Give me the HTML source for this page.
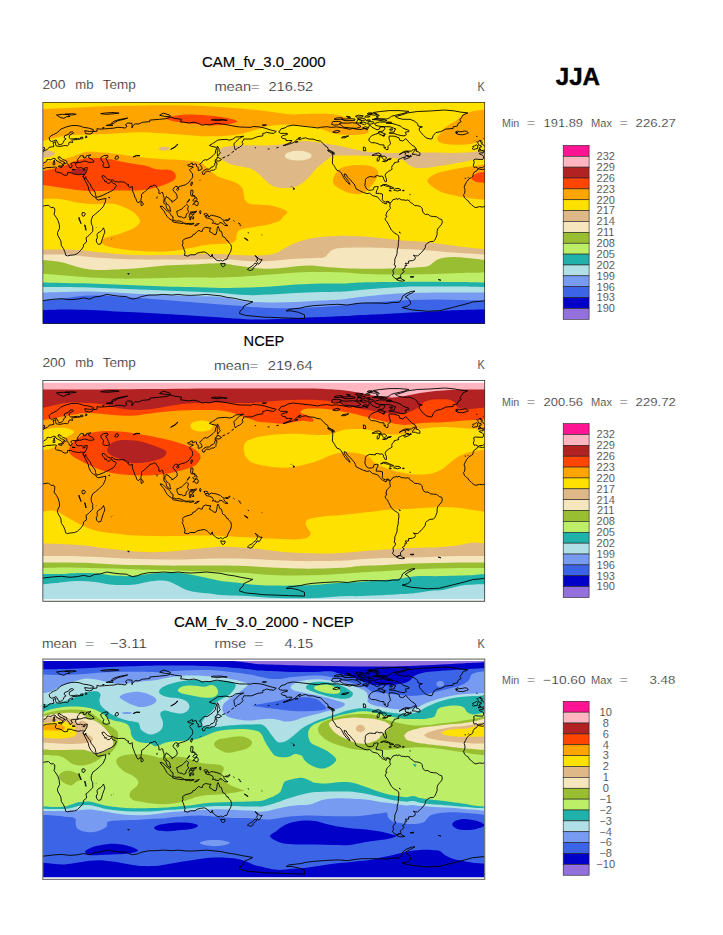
<!DOCTYPE html>
<html><head><meta charset="utf-8"><title>JJA</title>
<style>
html,body{margin:0;padding:0;background:#fff;}
body{width:723px;height:935px;position:relative;overflow:hidden;font-family:"Liberation Sans",sans-serif;}
svg{position:absolute;left:0;top:0;}
</style></head><body>
<svg width="723" height="935" viewBox="0 0 723 935">
<clipPath id="c0"><rect x="43" y="102" width="442" height="222"/></clipPath>
<g clip-path="url(#c0)" shape-rendering="geometricPrecision">
<path fill="#FFE100" d="M43.0 102.0L485.0 102.0L485.0 324.0L43.0 324.0Z"/>
<path fill="#FFA500" d="M43.0 109.1C48.0 108.9 62.5 108.3 73.0 107.8C83.5 107.3 94.8 106.7 106.0 106.3C117.2 105.9 130.2 105.7 140.0 105.5C149.8 105.3 156.7 105.2 165.0 105.2C173.3 105.2 181.7 105.2 190.0 105.5C198.3 105.8 206.7 106.2 215.0 106.7C223.3 107.2 231.8 107.8 240.0 108.5C248.2 109.2 258.0 110.2 264.5 111.0C271.0 111.8 274.1 112.4 279.0 113.0C283.9 113.6 289.0 114.3 294.0 114.4C299.0 114.5 303.8 113.9 309.0 113.8C314.2 113.7 319.8 113.5 325.0 113.8C330.2 114.1 335.4 114.5 340.0 115.5C344.6 116.5 348.8 118.2 352.6 120.0C356.4 121.8 359.9 124.3 362.6 126.3C365.3 128.3 369.2 130.6 368.8 132.0C368.4 133.4 363.5 134.1 360.0 134.6C356.5 135.1 351.8 135.1 347.6 135.0C343.4 134.9 339.2 134.7 335.0 133.8C330.8 132.9 326.7 130.7 322.5 129.5C318.3 128.3 314.4 127.2 310.0 126.5C305.6 125.8 300.4 125.5 296.0 125.2C291.6 124.9 287.8 124.5 283.6 124.6C279.4 124.7 274.8 125.2 271.0 125.8C267.2 126.4 264.3 127.3 261.0 128.2C257.7 129.1 254.2 130.4 251.0 131.3C247.8 132.2 245.6 133.0 242.0 133.7C238.4 134.4 234.1 135.0 229.6 135.4C225.1 135.8 219.2 136.1 215.0 136.2C210.8 136.3 210.5 136.5 204.7 136.2C198.9 135.9 188.3 134.9 180.0 134.4C171.7 133.9 161.7 133.3 155.0 133.0C148.3 132.7 145.3 132.3 140.0 132.3C134.7 132.3 128.7 132.6 123.0 132.9C117.3 133.2 111.5 133.8 106.0 134.0C100.5 134.2 95.5 134.2 90.0 134.4C84.5 134.6 77.2 134.6 73.0 134.9C68.8 135.2 67.7 135.6 65.0 136.0C62.3 136.4 60.7 136.4 57.0 137.3C53.3 138.2 45.3 140.5 43.0 141.2Z"/>
<path fill="#FF4500" d="M166.1 117.9C166.9 117.0 173.4 116.0 177.3 115.4C181.2 114.8 185.7 114.5 189.8 114.4C194.0 114.3 198.0 114.7 202.2 114.9C206.3 115.2 210.5 115.4 214.7 115.9C218.8 116.4 223.4 117.1 227.1 117.9C230.8 118.7 236.3 120.0 237.1 120.9C237.9 121.8 234.6 122.7 232.1 123.4C229.6 124.1 225.9 124.6 222.2 124.9C218.5 125.2 213.8 125.5 209.7 125.4C205.5 125.3 201.5 124.5 197.3 124.1C193.2 123.7 189.0 123.4 184.8 122.9C180.7 122.4 175.5 121.7 172.4 120.9C169.3 120.1 165.3 118.8 166.1 117.9Z"/>
<path fill="#FFA500" d="M485.0 109.5C482.9 109.8 476.4 110.4 472.7 111.3C469.0 112.2 465.6 113.3 462.7 115.0C459.8 116.7 458.1 119.2 455.2 121.3C452.3 123.4 447.7 125.4 445.2 127.5C442.7 129.6 441.5 131.9 440.2 133.8C438.9 135.7 437.2 137.3 437.2 138.8C437.2 140.3 438.0 141.6 440.2 142.6C442.4 143.6 446.0 144.3 450.2 144.6C454.4 144.9 461.0 144.8 465.2 144.6C469.4 144.3 471.9 143.8 475.2 143.1C478.5 142.3 483.4 140.6 485.0 140.1Z"/>
<path fill="#FFA500" d="M43.0 161.7C45.3 161.5 52.0 161.4 57.0 160.5C62.0 159.6 68.7 157.7 73.0 156.4C77.3 155.1 80.2 153.6 83.0 152.8C85.8 152.0 86.2 151.8 90.0 151.8C93.8 151.8 100.5 152.3 106.0 152.8C111.5 153.3 117.3 154.1 123.0 154.8C128.7 155.6 133.8 156.6 140.0 157.3C146.2 158.0 153.3 158.6 160.0 159.0C166.7 159.4 175.0 159.6 180.0 159.9C185.0 160.2 186.7 160.3 190.0 160.7C193.3 161.1 197.2 161.3 200.0 162.4C202.8 163.5 204.4 165.5 206.6 167.3C208.8 169.1 211.0 171.5 213.2 173.2C215.4 174.9 217.0 176.1 219.8 177.3C222.6 178.5 226.8 179.5 229.8 180.6C232.9 181.7 236.0 182.7 238.1 183.9C240.2 185.2 241.2 186.4 242.2 188.1C243.2 189.8 243.4 192.0 243.9 193.9C244.4 195.8 244.0 198.0 245.0 199.7C246.0 201.4 247.5 203.2 250.0 204.0C252.5 204.8 256.5 204.6 260.0 204.8C263.5 205.1 267.3 204.8 271.0 205.5C274.7 206.2 279.6 207.9 282.3 209.0C285.0 210.1 287.1 210.8 287.3 212.0C287.5 213.2 285.1 214.8 283.6 216.3C282.2 217.9 281.5 219.9 278.6 221.3C275.7 222.8 270.6 224.0 266.0 225.0C261.4 226.0 255.4 226.7 251.0 227.5C246.6 228.3 242.2 228.8 239.8 230.0C237.4 231.2 237.1 233.3 236.5 235.0C235.9 236.7 236.9 238.7 236.0 240.0C235.1 241.3 233.5 242.4 231.0 243.0C228.5 243.6 225.3 243.5 221.0 243.8C216.7 244.1 210.4 244.3 205.3 245.0C200.2 245.7 195.6 247.0 190.2 248.0C184.8 249.0 178.9 250.4 172.7 251.0C166.4 251.6 160.2 251.8 152.7 251.6C145.2 251.4 134.7 250.8 127.6 250.0C120.5 249.2 114.2 248.0 110.0 247.0C105.8 246.0 104.0 244.9 102.6 243.8C101.1 242.7 100.5 241.6 101.3 240.5C102.1 239.4 104.5 238.1 107.6 237.0C110.7 235.9 115.8 235.2 120.0 233.8C124.2 232.4 129.4 230.5 132.6 228.8C135.8 227.1 137.7 225.3 138.9 223.8C140.1 222.3 140.4 221.6 139.7 219.8C139.0 218.0 136.9 215.1 134.7 213.2C132.5 211.3 129.2 209.6 126.4 208.2C123.6 206.8 120.9 205.7 118.1 204.9C115.3 204.1 113.9 203.7 109.8 203.6C105.7 203.5 98.7 204.3 93.2 204.1C87.7 203.9 82.1 203.2 76.6 202.4C71.1 201.6 65.6 199.7 60.0 199.1C54.4 198.5 45.8 199.0 43.0 199.0Z"/>
<path fill="#FF4500" d="M43.0 170.9C45.0 170.5 51.3 169.5 55.0 168.6C58.7 167.7 62.0 166.8 65.0 165.6C68.0 164.4 70.2 162.8 73.2 161.7C76.2 160.6 80.4 159.5 83.2 158.9C86.0 158.3 85.9 158.2 89.8 158.1C93.7 158.0 101.0 157.8 106.4 158.4C111.8 159.0 117.7 160.9 122.4 161.8C127.2 162.7 130.8 163.3 134.9 164.0C139.1 164.7 144.2 165.4 147.3 166.2C150.4 166.9 151.5 167.9 153.6 168.5C155.7 169.1 157.7 169.4 159.8 169.6C161.9 169.8 164.1 169.3 166.0 169.4C167.9 169.5 169.6 169.6 171.0 170.2C172.4 170.8 173.9 171.9 174.7 173.0C175.5 174.1 176.1 175.6 175.9 176.8C175.7 178.1 174.7 179.5 173.5 180.5C172.3 181.5 170.4 182.2 168.5 183.0C166.6 183.8 164.6 184.7 162.3 185.5C160.0 186.3 157.3 187.2 154.8 187.8C152.3 188.5 150.0 189.0 147.3 189.4C144.6 189.8 141.7 190.2 138.6 190.4C135.5 190.6 132.1 190.5 128.7 190.5C125.3 190.5 121.2 190.6 118.0 190.6C114.8 190.6 113.9 190.5 109.8 190.6C105.7 190.7 98.7 191.4 93.2 191.3C87.7 191.2 82.1 190.6 76.6 190.0C71.1 189.4 65.6 188.3 60.0 187.5C54.4 186.7 45.8 185.4 43.0 185.0Z"/>
<path fill="#B22222" d="M71 171.5a8 2.8 0 1 0 16 0a8 2.8 0 1 0 -16 0Z"/>
<path fill="#FFA500" d="M333.0 180.1C333.3 178.0 334.7 174.7 336.3 172.6C337.9 170.5 339.4 168.8 342.5 167.6C345.6 166.3 350.8 165.4 355.0 165.1C359.2 164.8 364.1 165.0 367.6 165.6C371.2 166.2 374.6 167.3 376.3 168.9C378.1 170.5 378.5 172.8 378.1 175.1C377.7 177.4 375.4 180.3 373.8 182.6C372.2 184.9 371.1 187.0 368.8 188.9C366.5 190.8 363.1 193.2 360.0 193.9C356.9 194.6 353.3 193.9 350.0 193.1C346.7 192.3 342.6 190.2 340.0 188.9C337.4 187.6 335.7 186.6 334.5 185.1C333.3 183.6 332.7 182.2 333.0 180.1Z"/>
<path fill="#FFA500" d="M485.0 164.6C482.9 164.9 476.8 165.7 472.7 166.3C468.6 166.9 464.4 167.4 460.2 168.1C456.0 168.8 451.9 169.6 447.7 170.6C443.5 171.6 438.5 172.4 435.2 173.9C431.9 175.4 428.5 177.7 427.7 179.6C426.9 181.5 428.1 183.1 430.2 185.1C432.3 187.1 436.4 189.7 440.2 191.4C443.9 193.1 448.5 194.1 452.7 195.1C456.9 196.1 461.4 197.0 465.2 197.6C468.9 198.2 471.9 198.6 475.2 198.9C478.5 199.2 483.4 199.5 485.0 199.6Z"/>
<path fill="#FF4500" d="M485.0 171.4C483.8 171.7 479.9 172.3 477.8 173.1C475.8 173.9 473.6 175.3 472.7 176.4C471.8 177.5 471.6 178.7 472.2 179.6C472.8 180.5 474.4 181.5 476.5 182.1C478.6 182.7 483.6 182.9 485.0 183.1Z"/>
<path fill="#DEB887" d="M218.5 153.2C218.9 152.5 219.4 150.2 220.7 149.1C222.0 148.0 223.9 147.1 226.5 146.6C229.1 146.1 232.5 146.0 236.4 145.8C240.3 145.6 245.3 145.4 249.7 145.3C254.1 145.2 258.6 145.6 263.0 145.5C267.4 145.4 272.4 145.3 276.3 145.0C280.2 144.7 282.9 144.1 286.2 143.6C289.5 143.1 293.4 142.2 296.2 141.8C299.0 141.4 300.7 141.1 303.0 141.0C305.3 140.9 307.6 141.1 310.0 141.3C312.4 141.5 315.0 142.1 317.5 142.4C320.0 142.8 322.1 143.0 325.0 143.4C327.9 143.8 331.7 144.4 335.0 145.0C338.3 145.6 341.7 146.2 345.0 147.0C348.3 147.8 351.7 148.8 355.0 149.5C358.3 150.2 361.7 151.1 365.0 151.5C368.3 151.9 370.4 151.9 375.0 152.2C379.6 152.4 386.8 152.9 392.6 153.0C398.4 153.1 405.0 153.1 410.0 153.0C415.0 152.9 418.5 152.7 422.7 152.6C426.9 152.5 430.6 152.5 435.2 152.6C439.8 152.7 445.2 153.0 450.2 153.0C455.2 153.0 459.4 152.9 465.2 152.6C471.0 152.3 481.7 151.5 485.0 151.3L485.0 158.8C482.9 159.0 476.8 159.4 472.7 160.0C468.6 160.6 464.8 161.8 460.2 162.6C455.6 163.4 450.2 164.3 445.2 165.1C440.2 165.9 434.8 167.1 430.2 167.6C425.6 168.1 421.1 168.4 417.7 168.1C414.3 167.8 412.5 166.9 410.0 165.6C407.5 164.2 405.5 161.3 402.6 160.0C399.7 158.7 397.2 158.6 392.6 158.0C388.0 157.4 380.4 156.7 375.0 156.3C369.6 155.9 364.6 155.7 360.0 155.6C355.4 155.5 351.4 155.6 347.6 155.6C343.9 155.6 340.2 155.4 337.5 155.6C334.8 155.8 333.4 155.9 331.3 156.8C329.2 157.8 327.3 159.5 325.0 161.3C322.7 163.1 319.4 165.9 317.5 167.6C315.6 169.3 315.1 169.7 313.6 171.4C312.1 173.1 310.7 175.5 308.6 177.6C306.5 179.7 303.6 182.3 301.0 183.9C298.4 185.5 295.9 186.6 292.9 187.3C289.9 188.0 285.9 188.2 282.9 188.1C279.8 188.0 277.1 187.6 274.6 186.8C272.1 186.0 269.9 184.6 268.0 183.1C266.1 181.6 264.7 179.8 263.0 178.1C261.3 176.4 259.9 174.7 258.0 173.2C256.1 171.7 253.9 170.1 251.4 169.0C248.9 167.9 246.2 167.5 243.1 166.8C240.0 166.1 236.1 165.8 233.1 164.9C230.1 164.0 227.0 162.8 224.8 161.5C222.6 160.2 220.6 158.1 219.8 157.4Z"/>
<path fill="#F5E6BE" d="M284.8 155.7a13.4 4.9 0 1 0 26.8 0a13.4 4.9 0 1 0 -26.8 0Z"/>
<path fill="#DEB887" d="M43.0 150.3C44.2 150.4 48.0 150.3 50.0 150.8C52.0 151.3 55.0 152.5 55.0 153.5C55.0 154.5 52.0 156.1 50.0 156.8C48.0 157.5 44.2 157.4 43.0 157.5Z"/>
<path fill="#DEB887" d="M158.6 148.7a5.6 1.9 0 1 0 11.2 0a5.6 1.9 0 1 0 -11.2 0Z"/>
<path fill="#DEB887" d="M43.0 249.6C46.7 249.6 59.2 249.5 65.0 249.6C70.8 249.7 73.4 249.8 77.6 250.1C81.8 250.4 85.9 250.9 90.1 251.3C94.3 251.7 98.4 252.2 102.6 252.6C106.8 253.0 108.8 253.4 115.1 253.8C121.3 254.2 131.8 254.9 140.1 255.1C148.4 255.3 157.7 255.2 165.2 255.1C172.7 255.0 178.9 254.8 185.2 254.6C191.4 254.4 196.7 254.2 202.7 254.1C208.7 254.0 215.4 253.9 221.0 254.1C226.6 254.3 231.0 254.8 236.0 255.1C241.0 255.3 246.0 255.6 251.0 255.6C256.0 255.6 261.9 255.5 266.1 255.1C270.3 254.7 273.2 254.1 276.1 253.1C279.0 252.1 280.7 250.4 283.6 248.8C286.5 247.2 289.9 245.4 293.6 243.8C297.4 242.2 301.5 240.6 306.1 239.5C310.7 238.4 315.2 237.6 321.1 237.0C327.0 236.4 334.7 235.9 341.2 235.8C347.7 235.7 353.6 235.9 360.1 236.3C366.6 236.7 373.9 237.4 380.1 238.0C386.4 238.6 391.8 239.4 397.6 240.0C403.4 240.6 409.7 240.9 415.1 241.3C420.5 241.7 425.2 242.0 430.2 242.5C435.2 243.0 440.2 243.8 445.2 244.5C450.2 245.2 455.6 246.0 460.2 246.6C464.8 247.2 468.6 247.6 472.7 248.1C476.8 248.6 482.9 249.1 485.0 249.3L485.0 324.0 L43.0 324.0 Z"/>
<path fill="#F5E6BE" d="M43.0 254.6C46.7 254.6 59.2 254.4 65.0 254.6C70.8 254.8 73.4 255.2 77.6 255.6C81.8 256.0 83.8 256.6 90.1 257.1C96.3 257.6 106.8 258.4 115.1 258.8C123.4 259.2 131.8 259.5 140.1 259.6C148.4 259.7 156.8 259.6 165.2 259.6C173.5 259.6 180.9 259.7 190.2 259.6C199.5 259.5 213.4 259.0 221.0 259.1C228.6 259.2 231.0 259.7 236.0 260.1C241.0 260.5 246.0 261.1 251.0 261.3C256.0 261.5 261.1 261.5 266.1 261.3C271.1 261.1 276.1 260.5 281.1 260.1C286.1 259.7 291.1 259.1 296.1 258.8C301.1 258.5 306.5 258.5 311.1 258.3C315.7 258.1 320.8 258.4 323.6 257.6C326.4 256.9 326.6 255.1 328.1 253.8C329.6 252.6 330.2 251.1 332.4 250.1C334.6 249.1 335.8 248.5 341.2 248.1C346.6 247.7 357.8 247.6 365.1 247.6C372.4 247.6 379.7 247.9 385.1 248.1C390.5 248.3 392.6 248.6 397.6 248.8C402.6 249.1 409.7 249.3 415.1 249.6C420.5 249.9 425.2 250.2 430.2 250.6C435.2 251.0 440.2 251.7 445.2 252.1C450.2 252.5 455.6 252.8 460.2 253.1C464.8 253.4 468.6 253.6 472.7 253.8C476.8 254.1 482.9 254.5 485.0 254.6L485.0 324.0 L43.0 324.0 Z"/>
<path fill="#9ABE32" d="M43.0 260.1C45.0 260.3 51.3 260.8 55.0 261.3C58.7 261.8 61.2 262.1 65.0 263.1C68.8 264.1 73.4 266.0 77.6 267.1C81.8 268.2 85.9 269.1 90.1 269.6C94.3 270.1 98.4 270.1 102.6 270.1C106.8 270.1 108.8 269.9 115.1 269.6C121.3 269.3 131.8 268.8 140.1 268.1C148.4 267.4 156.8 266.2 165.2 265.6C173.5 265.0 180.9 265.0 190.2 264.6C199.5 264.2 213.4 263.1 221.0 263.3C228.6 263.5 231.0 264.9 236.0 265.6C241.0 266.3 246.0 267.1 251.0 267.6C256.0 268.1 261.1 268.7 266.1 268.8C271.1 268.9 276.1 268.5 281.1 268.1C286.1 267.7 291.1 266.7 296.1 266.3C301.1 265.9 306.1 265.5 311.1 265.6C316.1 265.7 321.1 266.7 326.1 267.1C331.1 267.5 335.5 267.8 341.2 268.1C346.9 268.4 353.6 268.7 360.1 268.8C366.6 268.9 373.9 268.9 380.1 268.8C386.4 268.7 391.8 268.5 397.6 268.3C403.4 268.1 410.1 267.9 415.1 267.6C420.1 267.3 424.8 267.1 427.7 266.3C430.6 265.6 431.0 264.2 432.7 263.1C434.4 262.0 435.6 260.5 437.7 259.6C439.8 258.7 442.3 258.0 445.2 257.6C448.1 257.2 451.4 257.0 455.2 257.1C458.9 257.2 462.7 257.6 467.7 258.1C472.7 258.6 482.1 259.8 485.0 260.1L485.0 324.0 L43.0 324.0 Z"/>
<path fill="#BCEE68" d="M43.0 273.8C46.7 274.1 57.1 275.0 65.0 275.6C72.8 276.2 81.8 277.1 90.1 277.6C98.4 278.1 106.8 278.4 115.1 278.6C123.4 278.8 131.8 278.7 140.1 278.6C148.4 278.5 156.8 278.3 165.2 278.1C173.5 277.9 180.9 277.7 190.2 277.6C199.5 277.5 211.7 277.8 221.0 277.6C230.3 277.4 237.7 276.8 246.0 276.3C254.3 275.8 262.8 275.2 271.1 274.6C279.5 274.0 287.8 273.0 296.1 272.6C304.4 272.2 312.8 272.1 321.1 272.1C329.5 272.1 339.7 272.3 346.2 272.6C352.7 272.9 353.6 273.5 360.1 273.8C366.6 274.1 376.8 274.5 385.1 274.6C393.4 274.7 401.8 274.7 410.1 274.6C418.5 274.5 426.9 274.4 435.2 274.1C443.5 273.9 451.9 273.4 460.2 273.1C468.5 272.9 480.9 272.7 485.0 272.6L485.0 324.0 L43.0 324.0 Z"/>
<path fill="#20B2AA" d="M43.0 282.6C46.7 282.7 57.1 282.9 65.0 283.1C72.8 283.3 81.8 283.4 90.1 283.6C98.4 283.9 106.8 284.3 115.1 284.6C123.4 284.9 131.8 285.3 140.1 285.6C148.4 285.9 156.8 286.1 165.2 286.4C173.5 286.6 180.9 286.8 190.2 287.1C199.5 287.4 211.7 288.0 221.0 288.1C230.3 288.2 237.7 287.9 246.0 287.6C254.3 287.3 262.8 286.9 271.1 286.4C279.5 285.9 287.8 285.1 296.1 284.6C304.4 284.1 312.8 283.8 321.1 283.6C329.5 283.4 339.7 283.6 346.2 283.4C352.7 283.2 353.6 282.8 360.1 282.6C366.6 282.4 376.8 282.2 385.1 282.1C393.4 282.0 401.8 281.9 410.1 281.8C418.5 281.8 426.9 281.8 435.2 281.8C443.5 281.9 451.9 282.0 460.2 282.1C468.5 282.2 480.9 282.5 485.0 282.6L485.0 324.0 L43.0 324.0 Z"/>
<path fill="#B0E0E6" d="M43.0 287.1C46.7 287.1 57.1 287.0 65.0 287.1C72.8 287.2 81.8 287.4 90.1 287.6C98.4 287.9 106.8 288.3 115.1 288.6C123.4 288.9 131.8 289.3 140.1 289.6C148.4 289.9 156.8 290.3 165.2 290.6C173.5 290.9 180.9 291.2 190.2 291.6C199.5 292.0 211.7 292.5 221.0 293.1C230.3 293.7 237.7 294.9 246.0 295.1C254.3 295.4 262.8 294.9 271.1 294.6C279.5 294.3 287.8 293.5 296.1 293.1C304.4 292.7 312.8 292.4 321.1 292.1C329.5 291.8 339.7 291.7 346.2 291.4C352.7 291.1 353.6 290.7 360.1 290.1C366.6 289.6 376.8 288.7 385.1 288.1C393.4 287.5 401.8 286.9 410.1 286.6C418.5 286.4 426.9 286.6 435.2 286.6C443.5 286.6 451.9 286.5 460.2 286.6C468.5 286.7 480.9 287.0 485.0 287.1L485.0 324.0 L43.0 324.0 Z"/>
<path fill="#789BF2" d="M43.0 292.6C46.7 292.5 57.1 292.3 65.0 292.1C72.8 291.9 81.8 291.5 90.1 291.6C98.4 291.7 106.8 292.2 115.1 292.6C123.4 293.0 131.8 293.7 140.1 294.1C148.4 294.5 156.8 294.8 165.2 295.1C173.5 295.4 180.9 295.8 190.2 296.1C199.5 296.4 211.7 296.2 221.0 297.1C230.3 298.0 237.7 300.5 246.0 301.4C254.3 302.3 262.8 302.5 271.1 302.6C279.5 302.7 287.8 302.4 296.1 302.1C304.4 301.8 312.8 301.1 321.1 300.6C329.5 300.1 339.7 299.5 346.2 298.9C352.7 298.3 353.6 297.8 360.1 297.1C366.6 296.4 376.8 295.3 385.1 294.6C393.4 293.9 401.8 293.4 410.1 293.1C418.5 292.8 426.9 292.7 435.2 292.6C443.5 292.5 451.9 292.6 460.2 292.6C468.5 292.6 480.9 292.6 485.0 292.6L485.0 324.0 L43.0 324.0 Z"/>
<path fill="#3C64E6" d="M43.0 300.6C45.0 300.4 51.3 300.0 55.0 299.6C58.7 299.2 61.2 298.6 65.0 298.1C68.8 297.6 73.4 296.8 77.6 296.4C81.8 296.0 85.9 295.7 90.1 295.6C94.3 295.5 98.4 295.5 102.6 295.6C106.8 295.7 108.8 296.0 115.1 296.4C121.3 296.8 131.8 297.5 140.1 298.1C148.4 298.7 156.8 299.4 165.2 300.1C173.5 300.8 180.9 301.4 190.2 302.1C199.5 302.9 211.7 303.9 221.0 304.6C230.3 305.3 237.7 305.8 246.0 306.4C254.3 307.0 262.8 307.8 271.1 308.1C279.5 308.4 287.8 308.3 296.1 308.1C304.4 307.9 312.8 307.6 321.1 307.1C329.5 306.6 339.7 305.8 346.2 305.1C352.7 304.4 353.6 303.7 360.1 303.1C366.6 302.5 376.8 301.9 385.1 301.4C393.4 300.9 401.8 300.4 410.1 300.1C418.5 299.8 426.9 299.6 435.2 299.6C443.5 299.6 451.9 299.9 460.2 300.1C468.5 300.3 480.9 300.5 485.0 300.6L485.0 324.0 L43.0 324.0 Z"/>
<path fill="#0000C8" d="M43.0 310.1C46.7 310.0 57.1 309.6 65.0 309.6C72.8 309.6 81.8 309.8 90.1 310.1C98.4 310.4 106.8 311.0 115.1 311.4C123.4 311.8 131.8 312.2 140.1 312.6C148.4 313.1 156.8 313.6 165.2 314.1C173.5 314.6 180.9 315.0 190.2 315.6C199.5 316.2 211.7 317.0 221.0 317.6C230.3 318.2 237.7 318.9 246.0 319.2C254.3 319.5 262.8 319.4 271.1 319.2C279.5 319.0 287.8 318.5 296.1 318.1C304.4 317.8 312.8 317.4 321.1 317.1C329.5 316.8 339.7 316.4 346.2 316.1C352.7 315.8 353.6 315.5 360.1 315.1C366.6 314.7 376.8 314.3 385.1 313.9C393.4 313.5 401.8 313.0 410.1 312.6C418.5 312.2 426.9 311.8 435.2 311.4C443.5 311.0 451.9 310.4 460.2 310.1C468.5 309.8 480.9 309.7 485.0 309.6L485.0 324.0 L43.0 324.0 Z"/>
<path fill="none" stroke="#000" stroke-width="0.9" stroke-linejoin="round" d="M477.8 168.8L482.5 169.7L485.0 168.8 M43.0 168.8 L43.0 168.8L46.7 167.6L51.6 167.4L55.3 167.0L56.5 167.4L55.9 168.6L55.3 171.1L56.5 172.1L59.0 172.4L61.8 173.2L62.6 174.4L65.1 175.4L67.6 174.8L67.6 172.5L71.2 172.8L73.7 173.9L78.6 174.8L81.1 174.2L82.7 174.5L85.0 174.4L82.9 176.0L84.1 178.5L86.6 183.4L88.4 187.1L88.8 189.8L90.9 193.9L93.3 196.3L96.0 197.6L96.2 198.8L98.2 200.1L101.9 199.2L105.9 198.4L105.4 201.9L103.2 206.8L99.5 210.5L95.2 214.2L92.7 216.1L91.5 219.2L91.1 221.6L91.5 224.1L92.7 226.6L92.8 231.5L89.7 234.6L87.8 236.4L86.0 237.7L86.6 242.0L83.5 244.5L83.3 246.9L81.1 250.0L77.4 253.7L74.3 254.9L70.0 255.3L67.6 255.9L65.6 255.2L65.1 252.5L63.3 248.3L61.4 245.7L60.8 240.8L57.7 235.2L57.5 232.5L59.6 228.4L59.2 224.1L58.0 220.4L56.5 217.8L54.0 214.2L54.7 211.8L54.8 208.7L53.4 207.4L51.0 207.7L48.5 205.2L44.2 205.8L43.0 206.3 M485.0 206.3 L482.5 207.1L479.5 206.6L475.8 207.6L473.9 206.8L471.5 204.6L469.0 202.5L468.4 200.9L466.6 199.7L464.5 197.8L463.5 194.9L464.7 193.3L465.0 189.6L464.1 187.1L465.4 184.0L466.8 181.6L469.0 178.8L471.5 177.6L473.0 176.2L473.1 174.2L474.6 171.9L476.7 170.9L477.8 168.8M478.1 168.6L477.0 167.6L475.9 167.1L474.1 167.4L473.3 165.3L474.2 162.4L473.6 160.0L475.2 159.1L480.1 159.5L482.8 159.5L483.5 158.0L483.5 156.3L482.3 155.0L479.5 154.0L479.1 153.3L481.3 152.8L483.2 153.1L482.8 151.7L485.0 151.9 M43.0 151.9 L43.2 151.9L45.0 150.3L47.3 149.6L48.5 148.2L49.1 147.3L51.6 146.9L53.8 146.6L53.6 144.6L53.1 142.7L55.9 141.8L55.5 143.9L56.3 146.0L57.7 146.2L60.2 146.4L63.3 145.8L65.7 145.5L67.3 145.9L68.8 144.6L68.8 142.7L70.0 142.0L72.8 142.5L71.9 140.8L72.5 139.9L77.4 139.5L79.8 139.0L77.4 138.4L73.7 138.8L70.6 139.0L69.2 137.8L69.4 135.3L73.7 132.8L72.5 131.8L70.0 132.2L68.8 134.1L64.5 135.9L64.2 137.8L66.1 139.0L63.9 140.6L63.3 142.7L62.4 143.8L60.6 144.6L58.7 144.7L58.3 143.6L56.9 141.1L56.1 139.9L54.0 140.8L51.6 141.5L49.8 140.5L49.1 137.8L51.0 135.8L53.4 134.6L56.5 133.1L59.0 131.0L60.8 129.1L63.9 127.9L66.9 126.7L71.2 125.7L74.9 125.4L78.0 125.7L81.1 126.4L83.5 127.4L88.4 128.0L93.3 129.5L93.3 131.0L89.7 131.5L84.7 130.7L85.4 132.8L85.7 133.6L89.7 134.1L92.1 133.3L92.7 131.7L97.0 131.2L97.0 128.5L99.5 129.1L104.4 128.9L109.3 128.5L114.2 128.1L117.3 127.3L121.6 127.5L125.3 128.1L127.1 126.0L125.3 124.8L127.7 123.0L132.0 123.3L132.0 127.9L133.2 125.4L135.1 123.8L138.8 124.0L142.4 122.3L149.8 121.7L149.8 120.1L159.6 119.3L165.8 118.7L170.7 117.2L174.4 118.3L181.7 119.3L180.5 122.0L183.0 122.1L189.1 123.0L194.0 122.1L198.9 123.6L202.0 125.2L205.7 124.6L210.0 124.8L214.9 123.6L217.3 123.3L227.2 124.8L230.8 125.6L239.4 127.0L245.6 127.2L251.7 127.3L252.3 126.5L259.1 126.9L264.0 127.9L270.1 129.8L276.3 131.4L273.8 133.4L270.1 133.1L266.5 132.2L264.6 133.2L262.8 133.4L262.8 135.9L257.9 136.5L251.7 139.0L246.8 139.0L243.7 139.0L243.1 140.8L241.9 142.1L243.1 143.9L241.9 145.4L239.4 147.4L237.6 147.9L235.4 150.1L234.5 147.6L233.9 143.9L235.8 141.7L239.4 138.4L243.7 136.2L239.4 136.8L235.8 137.0L232.7 139.2L229.6 140.2L225.9 139.4L221.0 139.7L218.0 140.0L214.9 142.1L212.4 143.7L209.4 145.4L211.8 146.4L216.1 147.3L216.5 148.6L215.5 150.7L215.3 153.2L213.0 155.7L210.0 158.1L206.9 160.1L205.1 159.7L203.2 160.6L202.2 161.8L201.4 163.1L199.5 164.3L200.6 165.5L201.9 167.4L201.8 169.2L200.8 169.8L198.3 170.6L198.1 169.2L198.3 167.4L196.5 166.4L196.5 164.3L195.6 163.8L192.5 164.9L192.2 162.8L189.1 164.7L187.5 165.1L188.9 166.4L191.3 166.4L193.4 167.1L190.9 168.4L189.5 169.8L191.3 172.3L192.5 173.8L192.5 175.0L192.8 176.2L192.2 178.1L190.3 180.3L189.1 182.2L187.3 183.6L185.4 184.8L183.2 185.5L180.5 186.2L178.7 186.9L178.1 188.0L177.4 186.5L175.6 186.4L174.0 187.7L172.9 189.6L173.9 191.4L176.0 193.3L177.1 195.7L177.2 198.2L175.0 200.1L173.1 201.3L171.9 202.3L171.8 200.7L169.5 199.4L168.8 198.0L167.0 197.3L166.4 196.3L165.8 197.6L164.9 199.4L164.8 201.3L166.0 202.5L166.4 204.1L167.9 204.6L169.5 206.2L170.0 208.1L170.1 209.5L170.9 211.3L169.8 211.0L167.6 209.7L166.4 207.4L166.1 205.6L165.4 204.7L163.9 203.1L163.7 201.3L164.2 198.8L163.9 197.0L163.0 194.5L162.8 192.6L161.5 192.4L160.3 193.5L158.8 193.3L159.0 190.8L158.0 188.9L156.6 187.1L155.7 185.4L154.1 185.0L152.3 186.1L149.8 186.5L149.6 187.6L148.0 188.7L145.5 191.0L144.0 192.5L142.2 193.5L141.5 194.5L141.6 197.0L141.0 198.8L141.0 200.3L140.0 201.5L139.0 202.0L138.2 203.0L136.7 201.3L135.9 198.8L134.8 197.0L134.1 194.5L133.0 192.0L132.4 189.6L132.4 187.1L132.0 186.1L131.4 187.0L129.9 187.5L127.7 185.6L128.9 184.9L127.3 184.3L125.6 183.4L124.9 182.2L121.6 181.8L118.5 182.0L115.2 181.6L113.4 180.7L112.7 179.7L110.3 180.2L107.6 179.1L105.6 177.4L104.6 176.0L103.0 175.5L101.9 176.2L102.7 178.1L104.4 180.1L105.1 181.9L106.0 180.8L106.4 182.3L107.5 183.2L109.3 183.2L111.8 180.9L112.2 182.4L113.2 183.5L115.1 183.9L116.4 185.2L115.1 187.7L113.8 189.6L110.8 191.4L107.5 192.9L103.2 195.1L98.2 197.0L96.4 197.3L96.0 196.3L95.5 194.5L95.2 192.3L93.3 189.6L91.1 186.7L90.3 184.0L88.7 182.5L87.8 180.9L86.0 178.5L85.8 176.6L85.1 178.7L83.5 177.2L82.9 176.0M85.0 174.4L85.8 172.5L86.6 171.2L87.1 169.2L87.3 167.6L85.5 167.7L83.5 168.5L80.6 167.6L78.6 168.0L76.8 167.6L76.4 166.4L75.5 165.5L75.9 164.3L75.2 163.7L76.8 163.1L78.6 162.4L81.1 162.2L83.5 161.2L86.0 161.2L88.4 162.2L91.5 162.4L94.0 161.8L93.7 160.6L91.5 159.1L89.0 157.9L88.2 157.1L89.7 155.7L90.9 154.9L87.2 155.5L86.0 156.3L86.3 157.1L84.1 158.1L82.9 157.0L84.1 156.3L81.7 155.5L79.8 156.5L79.5 157.5L78.1 158.7L77.4 160.2L77.4 161.4L78.6 162.2L76.8 162.4L75.2 162.8L72.5 162.7L71.9 163.4L71.0 163.2L71.2 164.5L72.5 166.1L71.2 166.8L71.0 168.0L69.4 167.4L69.0 165.8L67.6 164.0L66.8 163.1L66.9 161.4L65.7 160.6L62.6 159.4L61.4 158.1L59.9 157.6L59.8 156.8L58.1 157.1L58.3 158.7L59.7 159.4L60.4 160.7L62.6 161.3L65.1 162.9L65.7 163.5L63.9 163.1L63.4 164.0L64.0 164.9L62.8 166.3L62.3 165.9L62.6 164.3L61.4 163.4L60.6 162.7L58.1 161.6L55.9 160.1L55.5 158.9L53.9 158.2L52.2 159.0L50.4 159.8L48.5 159.5L46.9 159.7L46.9 161.0L45.7 161.9L43.9 162.8L43.0 163.8 M485.0 163.8 L484.6 164.3L485.0 164.9 M43.0 164.9 L43.2 165.3L43.0 165.5 M485.0 165.5 L484.1 166.5L482.5 167.6L479.6 167.7L478.1 168.6M278.7 132.1L281.2 128.8L284.9 127.9L287.3 126.3L292.9 125.1L298.4 125.7L307.0 126.7L311.9 127.2L318.0 128.0L320.5 127.3L326.6 126.7L331.5 127.4L336.4 126.9L343.8 128.0L349.9 129.3L352.4 128.4L356.1 129.1L361.0 129.5L364.7 128.5L367.1 130.0L368.4 127.9L369.6 124.8L372.0 127.3L374.5 128.5L377.0 129.8L379.4 129.1L380.0 127.0L384.3 126.9L384.9 128.5L383.1 131.2L379.4 131.4L378.2 133.4L375.7 134.1L372.0 135.5L369.6 137.8L368.7 140.5L371.4 142.7L375.7 142.9L380.6 144.8L384.0 145.0L384.1 147.6L386.2 149.7L388.0 149.5L388.0 146.4L390.5 143.9L389.8 140.8L389.0 138.4L389.2 136.0L394.1 136.2L399.1 137.8L399.7 140.2L402.7 141.0L405.2 139.2L405.8 138.6L408.9 142.1L411.3 144.6L415.0 147.0L416.2 148.9L413.2 149.7L411.3 151.1L405.2 151.1L402.7 152.2L399.1 154.7L403.4 152.4L405.8 152.7L405.2 154.4L406.4 156.0L410.1 156.8L409.5 157.5L404.6 159.4L403.7 158.5L405.8 156.9L402.7 157.5L400.3 158.7L398.4 159.6L398.1 160.8L399.1 161.6L396.6 162.2L394.1 162.9L393.9 164.3L392.3 165.5L391.7 167.4L392.1 169.2L390.7 170.2L388.6 171.3L385.8 173.5L385.1 175.4L386.4 179.1L386.5 181.6L385.3 181.9L383.5 178.8L383.3 177.0L381.9 176.0L380.0 176.4L377.6 175.6L375.7 175.8L375.4 177.1L373.3 176.9L369.6 176.6L366.5 178.1L365.4 179.7L365.2 182.8L364.9 185.5L366.5 188.9L368.4 190.2L371.4 190.2L373.3 189.6L373.9 187.1L376.3 186.5L378.2 186.6L377.6 188.9L376.6 190.8L376.0 193.3L379.4 193.4L382.5 194.1L382.5 197.6L382.2 199.4L383.7 201.5L385.6 202.0L387.4 201.2L389.8 202.3L390.5 203.3M390.0 204.1L388.9 202.4L387.1 202.0L386.2 204.1L383.7 202.9L382.5 202.5L380.6 200.7L379.7 199.6L377.6 197.0L375.1 196.3L372.7 195.7L369.6 193.1L367.1 193.6L363.4 192.5L359.8 190.8L356.1 188.9L355.3 186.5L354.2 184.0L351.8 181.8L350.6 179.9L347.5 177.2L346.3 174.5L344.2 173.9L344.4 176.0L346.5 178.7L348.7 181.6L350.1 184.4L349.3 184.0L347.2 182.2L345.0 179.5L343.8 177.9L342.8 175.8L341.2 172.9L339.5 171.1L336.9 170.3L335.3 167.9L334.6 166.4L333.0 164.3L332.4 163.1L332.5 160.0L332.8 156.0L331.9 153.3L334.2 154.4L334.2 152.6L331.5 151.3L328.1 149.5L327.8 147.6L325.0 145.8L323.5 143.9L320.5 141.1L316.8 140.5L313.7 139.2L308.8 139.0L305.7 137.8L302.7 138.4L299.0 139.9L298.4 138.0L300.8 137.5L296.5 139.6L295.3 141.5L292.2 143.1L288.6 144.3L284.9 145.4L283.0 145.7L287.3 143.9L291.0 142.1L291.9 140.5L288.6 140.5L286.1 140.6L285.9 139.0L282.4 138.4L281.2 137.0L282.4 135.7L284.9 135.1L287.3 134.6L287.3 133.4L284.3 133.4L280.6 133.3L278.7 132.1M390.0 204.1L389.8 206.2L390.5 208.3L388.4 210.5L387.0 212.0L386.2 214.2L385.8 215.8L387.0 216.2L386.4 217.2L385.2 218.6L385.6 220.4L387.1 221.9L388.6 224.7L390.2 227.8L391.4 230.1L394.1 232.7L397.2 234.6L398.7 235.8L398.9 238.9L398.4 242.6L398.2 246.3L397.2 250.0L397.1 253.7L395.9 256.8L394.8 259.2L394.8 262.3L394.1 264.8L395.4 265.4L395.4 267.3L392.9 270.4L393.5 273.4L392.5 275.9L394.8 278.1L397.8 279.4L398.0 278.2L399.9 277.8L401.0 277.6L400.3 275.3L402.0 273.4L404.2 271.6L402.4 269.7L404.8 268.3L405.2 265.4L406.9 265.5L405.2 263.3L408.6 263.3L408.6 261.0L412.6 260.6L414.8 259.6L415.4 257.9L414.6 256.4L413.3 255.2L415.0 255.8L417.5 255.9L419.4 254.6L421.2 252.5L423.0 250.9L425.3 247.5L425.5 245.1L427.3 243.2L430.1 241.6L433.4 241.4L434.7 240.1L435.9 237.7L437.1 234.6L437.1 231.5L437.7 229.0L439.2 227.2L441.8 224.1L442.3 221.6L441.7 219.5L439.6 218.9L436.5 216.7L433.4 216.5L430.4 216.1L427.9 214.2L425.5 214.5L423.6 213.2L422.6 211.1L422.0 208.1L420.5 206.5L417.5 205.7L414.6 205.6L412.8 203.8L410.5 202.5L408.9 200.7L407.9 199.9L405.8 200.4L403.7 199.9L401.3 199.9L399.1 198.4L397.2 199.6L396.6 198.4L395.4 199.1L392.9 199.7L391.9 201.4L390.7 202.4L390.5 203.3M182.6 240.8L183.2 239.9L186.0 238.4L189.1 237.7L192.2 236.4L193.2 234.3L194.8 234.3L196.5 232.1L198.9 230.3L200.8 231.4L202.2 231.4L203.2 228.4L205.7 227.3L209.1 228.0L211.0 228.0L210.0 229.6L209.4 231.5L211.8 232.7L214.0 234.5L215.9 234.6L216.9 231.5L217.1 228.7L218.0 226.3L219.2 228.8L219.6 230.8L221.4 231.4L222.3 234.6L222.6 236.3L225.3 237.8L226.7 240.5L228.1 240.9L228.4 242.1L230.8 244.5L231.5 247.5L230.8 251.2L229.0 254.3L227.5 257.4L227.0 259.2L224.5 259.9L222.6 261.2L220.8 260.0L219.2 260.9L216.1 260.0L214.4 258.0L212.7 256.9L212.4 254.3L211.8 254.7L211.0 256.9L209.7 255.9L207.8 253.7L204.5 251.9L200.8 252.3L197.1 253.2L195.0 254.8L190.3 254.8L187.8 256.2L184.4 255.3L185.1 252.5L184.2 250.0L183.2 246.9L182.2 245.1L183.0 243.8L182.6 240.8M395.4 116.6L401.5 115.0L407.6 112.9L417.5 111.5L429.8 111.0L444.5 110.0L454.3 110.9L460.4 112.1L467.8 112.9L462.9 115.0L461.7 117.4L459.8 119.9L461.1 121.7L458.0 123.6L457.4 126.0L453.1 126.9L453.1 128.5L445.7 129.1L440.8 131.6L435.9 132.6L433.4 135.3L432.0 138.9L429.8 138.9L426.1 137.8L423.6 135.5L421.2 132.8L419.3 130.4L419.3 127.9L422.4 126.9L418.1 126.0L417.5 123.6L414.4 121.1L410.1 119.3L402.7 119.3L397.8 118.0L395.4 116.6M264.0 317.2L270.1 317.3L288.6 318.1L304.5 318.6L304.5 314.8L298.4 312.3L291.0 310.8L286.1 311.0L288.6 309.4L293.5 308.8L300.8 308.0L305.7 306.7L313.1 305.7L325.4 304.9L337.7 304.3L347.5 305.0L356.1 303.6L362.2 303.0L368.4 303.0L377.0 303.0L386.8 303.4L392.9 302.4L399.1 302.4L401.5 299.3L402.7 296.2L406.4 293.5L411.3 291.4L415.0 291.1L412.6 292.5L408.9 294.4L405.2 296.9L408.3 298.7L410.1 301.2L410.7 303.6L407.6 306.1L402.1 307.6L411.3 309.8L427.3 311.3L439.6 310.7L451.9 307.6L464.1 304.5L472.7 302.0L483.8 300.9L485.0 300.6 M43.0 300.6 L43.0 300.6L52.8 299.3L61.4 298.7L70.0 299.7L77.4 299.1L83.5 297.9L89.7 299.1L94.6 296.9L100.7 296.2L106.8 294.4L113.0 295.4L119.1 296.2L126.5 296.6L128.9 297.9L132.6 299.1L137.5 298.1L141.2 296.6L148.6 295.1L156.0 295.0L163.3 294.4L171.9 295.0L178.1 294.4L184.2 295.1L190.3 295.4L198.9 295.0L206.3 294.4L214.9 295.3L221.0 295.9L227.2 297.4L234.5 298.3L241.9 300.0L249.3 301.2L252.9 301.8L248.0 304.0L243.7 306.1L243.1 308.6L240.1 311.0L239.4 313.5L245.6 315.4L257.9 316.6L264.0 317.2M478.0 151.2L480.7 150.8L483.8 150.3L485.0 150.1 M43.0 150.1 L44.6 149.9L43.6 149.5L45.1 148.0L43.4 147.6L43.0 146.8 M485.0 146.8 L484.8 146.3L483.2 145.2L482.5 143.9L481.1 143.9L482.5 142.1L480.1 141.8L481.1 140.7L478.9 140.7L477.6 142.1L478.2 143.9L479.1 145.3L481.1 145.7L481.3 147.1L479.5 147.4L479.7 148.5L478.6 149.1L481.1 149.6L479.5 150.1L478.0 151.2M477.4 148.6L477.6 147.0L478.1 145.8L476.4 144.8L474.6 145.9L472.7 146.4L473.3 147.6L472.4 148.9L473.3 149.5L475.8 148.9L477.4 148.6M457.4 134.2L460.4 134.7L462.9 134.8L466.6 133.7L468.4 132.8L466.8 131.4L464.7 131.0L462.3 131.6L459.8 131.8L457.4 131.1L455.5 132.2L458.0 132.8L455.8 133.1L457.4 134.2M56.5 115.0L60.2 117.4L63.9 118.4L66.3 116.8L70.0 116.4L67.6 114.6L62.6 114.3L56.5 115.0M65.1 114.1L71.2 115.1L76.2 114.3L72.5 113.7L65.1 114.1M106.2 125.4L108.7 125.7L113.0 125.4L111.1 123.6L113.0 121.7L117.9 119.9L124.0 118.7L127.7 118.0L124.0 119.3L117.9 120.7L114.2 123.0L110.5 124.4L106.2 125.4M159.6 115.3L165.8 116.6L170.7 116.2L169.5 115.0L163.3 113.1L159.6 115.3M211.2 119.9L217.3 120.7L222.3 120.1L227.2 120.3L221.0 119.3L213.7 119.3L211.2 119.9M262.2 125.4L265.2 125.4L266.5 124.9L262.8 124.8L262.2 125.4M217.3 146.0L218.8 148.2L219.2 151.3L220.4 152.6L218.6 155.0L217.7 156.3L217.3 153.8L217.3 150.7L217.1 148.2L217.3 146.0M215.1 161.8L216.7 160.8L218.9 161.2L221.6 159.6L220.2 158.7L217.3 157.0L216.7 159.4L215.3 159.7L215.1 161.8M202.9 174.4L204.5 174.2L205.1 172.3L206.3 171.3L208.4 171.3L209.7 171.7L211.2 170.3L213.4 170.2L214.9 169.6L215.9 168.6L216.1 165.8L217.1 164.3L216.5 162.1L214.9 162.9L214.6 164.9L213.0 166.9L211.2 167.0L210.6 168.4L209.7 169.1L206.3 169.2L203.8 170.6L202.6 171.7L202.2 172.7L202.9 174.4M190.6 184.6L191.3 185.9L192.2 184.0L192.5 182.2L191.6 182.0L190.6 184.6M176.5 189.6L177.6 190.6L179.0 189.3L178.7 188.3L177.1 188.5L176.5 189.6M190.7 193.3L190.9 190.2L192.8 190.2L193.0 192.6L192.2 195.1L195.0 196.0L195.2 197.2L193.4 196.1L191.3 196.0L190.7 194.7L190.7 193.3M192.8 204.4L194.6 202.4L197.1 200.9L198.3 202.8L197.9 205.2L196.8 205.6L195.2 205.0L194.3 203.6L192.8 204.4M192.8 200.1L194.0 198.7L196.5 197.6L197.1 199.4L196.2 200.7L194.6 201.3L193.4 200.9L192.8 200.1M186.9 202.6L189.7 200.1L189.4 199.1L186.9 202.6M176.8 211.1L178.1 210.9L179.7 209.9L181.7 209.1L183.6 207.3L185.4 205.4L186.7 204.4L188.5 206.2L187.9 207.7L187.6 209.9L188.9 211.8L187.4 213.0L186.0 215.2L185.8 217.3L183.6 218.1L181.7 216.9L180.1 216.9L178.3 216.5L177.1 213.6L176.8 211.1M160.0 206.1L162.7 206.6L164.6 208.6L166.4 210.3L168.6 211.8L170.3 213.6L171.3 215.7L173.1 216.7L172.9 220.2L171.3 220.0L168.8 218.3L167.0 216.3L165.2 213.4L164.1 210.9L162.1 209.1L160.0 206.1M172.3 221.4L174.1 220.4L176.2 221.1L179.0 220.9L181.4 221.6L183.6 222.6L183.3 223.6L179.9 223.2L176.2 222.6L173.5 222.1L172.3 221.4M184.2 223.1L186.3 223.5L189.1 223.4L191.6 223.5L194.0 223.2L194.0 223.9L190.3 224.7L188.5 224.1L185.4 224.1L184.2 223.1M194.6 225.7L196.5 224.1L199.2 223.4L198.3 224.5L195.9 225.7L194.6 225.7M189.7 219.8L189.7 217.2L188.9 216.3L190.1 213.2L190.6 211.9L193.8 211.8L196.5 211.0L195.9 212.5L191.6 212.5L190.5 214.1L192.2 214.1L194.4 213.9L192.4 215.3L193.4 216.9L193.8 218.8L192.3 218.8L191.6 216.3L190.7 216.6L190.8 219.8L189.7 219.8M199.5 212.4L200.2 210.5L201.0 211.8L200.4 214.0L199.5 212.4M203.8 214.0L205.7 213.5L207.5 214.0L208.8 217.1L211.2 215.2L213.7 215.7L216.1 216.2L220.4 217.7L222.3 219.5L224.5 220.5L223.7 221.6L225.3 223.9L228.0 225.7L224.7 225.5L222.3 223.1L219.8 222.5L218.6 224.3L216.1 224.2L213.7 223.0L212.4 223.4L213.4 221.6L212.4 219.8L209.4 218.4L206.3 217.9L205.1 216.5L207.5 215.7L205.3 215.7L203.8 214.0M225.3 219.9L227.8 219.8L229.6 218.2L229.9 219.2L228.4 220.6L225.9 220.8L225.3 219.9M141.0 201.2L142.7 202.5L143.4 204.4L142.4 205.4L141.2 205.6L141.0 203.1L141.0 201.2M103.5 227.8L104.9 232.1L103.8 234.6L102.5 238.3L101.0 243.6L98.5 244.5L96.8 242.6L96.2 240.1L97.4 237.7L97.0 234.6L98.2 232.7L100.7 231.5L102.5 229.4L103.5 227.8M220.7 263.2L222.9 263.7L225.0 263.4L225.0 265.4L223.5 266.6L222.3 266.6L221.3 265.2L220.7 263.2M255.0 255.5L257.0 257.0L258.5 258.4L260.3 259.6L262.2 259.5L260.9 261.5L260.1 262.9L258.1 264.3L257.7 262.9L256.4 261.6L257.5 259.9L257.2 258.0L255.0 255.5M255.0 263.1L256.9 263.9L255.4 266.0L253.3 267.6L252.7 269.6L250.5 270.5L248.7 270.0L247.4 269.4L249.5 267.5L252.3 266.0L253.6 264.6L255.0 263.1M244.4 237.8L247.4 239.5L248.0 240.5L245.6 239.3L244.4 237.8M380.6 186.0L383.1 184.6L386.2 184.5L389.8 186.2L392.9 187.5L393.9 188.1L389.8 188.5L390.5 187.6L388.6 186.5L385.6 185.9L383.7 185.1L381.9 185.9L380.6 186.0M393.7 190.1L395.4 188.5L399.1 188.6L401.0 190.1L399.1 190.4L397.1 191.2L396.0 190.4L393.7 190.1M388.9 190.4L390.5 190.2L391.4 190.8L389.8 191.0L388.9 190.4M402.5 190.3L404.3 190.3L404.1 190.8L402.5 190.8L402.5 190.3M412.2 154.3L413.2 152.6L415.0 150.1L416.7 149.5L416.2 151.3L418.7 151.9L419.9 153.2L419.9 155.4L416.9 155.2L415.6 154.4L412.2 154.3M327.5 150.5L330.3 151.0L333.4 153.2L331.5 152.9L329.1 151.6L327.5 150.5M386.8 122.1L391.1 123.2L396.6 124.7L400.9 126.3L402.7 128.1L408.9 130.4L408.9 131.6L405.2 132.2L406.4 134.7L404.0 135.9L400.9 135.5L397.2 134.6L393.5 133.4L389.2 133.3L389.8 132.2L394.1 132.2L394.8 129.8L396.0 129.1L390.5 126.9L388.0 126.7L384.3 126.7L380.0 126.4L375.7 125.4L374.5 123.6L379.4 122.0L386.8 122.1M374.5 118.9L380.6 118.8L386.8 119.0L389.2 118.0L391.7 116.2L396.6 115.0L404.0 113.3L408.9 111.4L399.1 110.6L389.2 110.6L379.4 111.6L373.3 112.5L377.0 114.0L379.4 115.6L376.3 116.6L378.2 117.4L374.5 118.9M372.0 119.5L377.0 119.9L384.3 121.1L386.8 120.5L384.3 119.5L377.0 118.8L372.0 119.5M368.4 114.3L374.5 115.2L377.6 115.0L373.3 113.1L368.4 114.3M341.4 125.4L343.8 127.2L349.9 127.9L356.1 128.4L359.8 127.3L361.0 126.4L356.1 123.2L352.4 122.7L347.5 123.2L340.7 123.0L339.5 124.2L341.4 125.4M331.5 124.2L334.0 125.2L338.3 124.8L341.4 122.3L338.9 121.4L332.8 121.5L331.5 124.2M341.4 119.3L345.0 120.7L349.9 120.6L354.9 120.3L354.9 119.0L349.9 118.7L341.4 119.3M359.8 123.0L364.7 124.8L366.5 123.2L363.4 122.0L359.8 123.0M367.7 124.0L370.8 124.2L373.9 123.0L373.3 121.7L368.4 121.7L367.7 124.0M378.2 132.0L380.6 132.2L385.6 134.1L383.1 135.5L379.4 134.4L378.2 132.0M357.3 118.7L362.2 120.5L365.9 119.9L364.7 118.5L359.8 118.0L357.3 118.7M293.5 189.6L294.7 188.8L293.6 188.1L293.5 189.6M295.3 142.3L297.8 142.1L297.8 141.2L295.3 142.3M53.1 164.7L54.8 164.7L54.9 162.6L53.2 162.4L53.1 164.7M53.7 161.8L54.5 161.7L54.5 160.0L53.7 160.6L53.7 161.8M58.3 166.1L62.0 165.9L61.7 167.6L58.3 166.6L58.3 166.1M72.0 169.3L75.2 169.6L73.1 169.8L72.0 169.3M82.8 170.1L85.4 169.1L84.5 170.1L82.8 170.1M108.6 197.6L109.8 197.5L109.1 197.8L108.6 197.6M410.1 276.9L413.8 276.4L413.2 277.4L410.1 276.9M398.4 278.1L400.9 278.0L401.5 279.0L404.8 280.5L402.7 281.1L399.1 280.8L396.6 279.6L398.4 278.1M438.3 279.6L440.8 280.2L439.6 279.8L438.3 279.6M127.7 273.7L129.3 273.7L128.7 274.2L127.7 273.7M100.7 113.7L106.8 114.3L114.2 113.7L119.1 113.1L113.0 112.5L104.4 113.1L100.7 113.7M276.3 147.9L278.7 147.3M267.7 149.1L269.5 148.9M254.8 147.9L256.0 147.6M102.5 127.9L104.1 127.5L103.8 128.1L102.5 127.9M334.0 119.3L338.9 119.5L343.2 118.7L341.4 117.7L336.4 118.0L334.0 119.3M347.5 117.4L350.6 117.8L349.9 116.6L346.3 116.3L347.5 117.4M356.1 117.0L362.2 117.0L363.4 115.8L358.5 115.2L355.5 116.1L356.1 117.0M364.7 117.0L369.0 117.0L370.2 116.2L366.5 115.6L364.7 117.0M366.5 120.9L370.2 120.9L370.0 119.9L367.1 119.9L366.5 120.9M362.8 128.3L367.1 128.5L367.7 127.3L365.3 126.8L362.8 127.7L362.8 128.3M386.2 123.2L391.1 123.5L391.7 122.3L388.0 122.0L386.2 123.2M389.8 130.1L392.3 130.1L392.3 128.9L389.8 129.1L389.8 130.1M383.1 136.3L384.9 135.7L384.3 135.3L382.5 135.5L383.1 136.3M384.6 147.9L385.8 147.6L385.2 147.1L384.6 147.9M405.8 151.6L408.9 152.4L409.2 152.1L405.8 151.6M406.2 155.5L408.6 156.3L408.9 155.7L406.2 155.5M409.9 156.8L411.3 156.6L410.7 155.0L409.9 156.8M356.1 123.0L361.0 123.0L361.6 120.3L357.9 119.5L356.1 123.0M367.1 114.0L372.0 114.1L372.0 112.9L368.4 112.9L367.1 114.0M222.3 158.1L225.3 156.9M227.2 156.0L229.6 154.8M231.5 152.8L233.9 151.1M199.8 180.7L200.5 179.9M156.8 198.6L157.2 196.5M464.7 178.2L466.0 178.5M467.8 177.9L468.4 177.0M290.8 186.6L291.4 186.4M292.6 187.3L293.3 187.5M248.0 232.1L248.7 233.3M261.5 234.6L262.3 235.2M239.4 224.7L241.3 225.7M238.2 222.9L240.4 224.1M233.3 220.4L234.5 221.4M410.1 195.1L410.1 193.9M409.5 200.2L410.1 199.8M110.9 238.9L111.5 239.1M113.5 237.9L113.8 238.2M96.2 227.4L96.4 227.8M54.5 212.8L54.7 213.0M53.7 208.7L53.8 208.9M215.5 222.9L216.1 223.2M477.4 136.5L476.2 136.3M483.4 138.8L483.5 138.3M481.3 140.2L481.1 140.0M477.0 141.2L476.4 141.8M103.2 166.8L105.6 167.6L109.3 167.4L109.1 164.9L108.1 163.1L107.5 161.2L105.6 158.1L108.1 157.1L107.5 155.3L103.8 155.7L100.7 157.7L101.3 160.0L103.8 163.1L102.9 165.5L103.2 166.8M114.8 158.7L116.7 159.4L118.5 158.1L117.9 155.9L116.1 156.0L114.8 158.7M133.2 156.9L136.3 155.4L140.0 155.7L136.3 155.9L133.2 156.9M170.7 149.4L173.1 148.2L176.2 146.4L177.8 144.3L176.8 144.6L175.0 147.0L172.5 148.2L170.7 149.4M82.3 212.6L84.1 212.6L85.4 213.6L84.5 215.7L82.9 216.3L81.9 214.8L82.3 212.6M79.0 217.3L79.5 219.2L80.4 221.6L81.1 223.7L80.1 221.6L79.0 219.2L79.0 217.3M84.7 224.8L85.6 227.2L86.0 230.3L85.4 228.4L84.7 224.8M372.0 155.3L375.1 153.8L378.2 152.9L380.6 154.0L381.3 155.5L378.8 155.7L377.0 155.0L374.5 155.4L372.0 155.3M377.2 161.2L379.0 160.6L379.4 158.1L380.6 156.5L378.8 156.6L377.2 158.7L377.2 161.2M381.3 156.3L384.9 156.3L386.8 157.9L384.7 159.7L383.7 159.6L382.5 158.1L381.3 156.3M382.6 161.4L385.6 161.7L388.0 160.2L386.2 160.5L382.6 161.4M387.1 159.6L390.5 159.6L391.3 158.6L389.2 158.7L387.1 159.6M332.8 132.2L336.4 132.8L340.1 131.4L337.7 130.4L334.0 131.2L332.8 132.2M341.4 137.8L345.0 137.8L348.7 135.9L346.3 136.2L342.6 136.8L341.4 137.8M363.4 150.7L365.9 150.7L365.3 147.6L363.4 147.0L363.4 150.7M80.4 139.0L82.9 138.6L82.9 137.2L80.4 137.4L80.4 139.0M85.4 137.8L87.2 137.2L86.0 135.7L85.4 137.8M399.1 232.0L400.3 233.2L399.7 232.2L399.1 232.0"/>
</g>
<rect x="42.85" y="102.45" width="441.85" height="220.9" fill="none" stroke="#222" stroke-width="0.7"/>
<clipPath id="c1"><rect x="43" y="380" width="442" height="221.5"/></clipPath>
<g clip-path="url(#c1)" shape-rendering="geometricPrecision">
<path fill="#FFA500" d="M43.0 380.0L485.0 380.0L485.0 601.5L43.0 601.5Z"/>
<path fill="#FF4500" d="M43.0 420.1C45.0 419.8 50.9 418.9 55.0 418.1C59.1 417.4 63.3 416.4 67.5 415.6C71.7 414.9 76.3 414.0 80.1 413.6C83.9 413.2 85.9 413.0 90.1 413.1C94.3 413.2 100.1 413.9 105.1 414.3C110.1 414.7 115.1 415.4 120.1 415.6C125.1 415.8 130.1 415.9 135.1 415.6C140.1 415.3 145.2 414.2 150.2 413.6C155.2 413.0 160.2 412.3 165.2 411.8C170.2 411.3 175.2 410.8 180.2 410.5C185.2 410.2 190.2 410.1 195.2 410.0C200.2 409.9 206.0 409.9 210.3 410.0C214.6 410.1 217.1 410.0 221.0 410.5C224.9 411.0 229.3 411.9 233.5 413.1C237.7 414.3 241.8 416.2 246.0 417.6C250.2 419.1 254.6 420.9 258.6 421.8C262.6 422.7 266.2 422.5 270.0 422.8C273.8 423.1 277.7 423.8 281.6 423.7C285.5 423.6 289.6 422.7 293.2 422.2C296.8 421.7 299.8 420.9 302.9 420.8C306.0 420.7 309.8 422.0 311.6 421.8C313.4 421.6 314.1 420.5 313.6 419.5C313.1 418.5 310.8 417.1 308.7 416.0C306.6 414.9 302.1 414.1 301.0 413.1C299.9 412.1 300.7 410.9 302.0 410.2C303.3 409.4 305.6 408.9 308.7 408.6C311.8 408.3 316.4 408.4 320.3 408.6C324.2 408.8 328.1 409.3 332.0 409.8C335.9 410.3 339.7 411.0 343.6 411.7C347.5 412.4 351.3 413.1 355.2 414.0C359.1 414.9 362.9 416.0 366.8 417.0C370.7 418.0 374.5 418.9 378.4 419.9C382.3 420.9 386.1 422.0 390.0 422.8C393.9 423.6 398.3 424.4 401.7 424.7C405.1 425.0 406.7 424.9 410.2 424.6C413.7 424.3 418.5 423.4 422.7 423.1C426.9 422.8 430.6 422.8 435.2 422.6C439.8 422.4 445.2 422.1 450.2 421.8C455.2 421.5 461.0 420.9 465.2 420.6C469.4 420.3 471.9 420.3 475.2 420.1C478.5 419.9 483.4 419.4 485.0 419.3L485.0 380.0 L43.0 380.0 Z"/>
<path fill="#B22222" d="M43.0 408.0C45.0 407.5 50.5 405.9 55.0 405.0C59.5 404.1 64.2 402.8 70.0 402.5C75.8 402.2 84.2 402.6 90.1 403.0C95.9 403.4 100.1 404.1 105.1 405.0C110.1 405.9 115.1 407.7 120.1 408.5C125.1 409.3 130.1 409.9 135.1 410.0C140.1 410.1 145.2 409.8 150.2 409.3C155.2 408.8 160.2 407.6 165.2 406.8C170.2 406.0 175.2 404.9 180.2 404.3C185.2 403.7 190.2 403.3 195.2 403.0C200.2 402.7 206.0 402.6 210.3 402.5C214.6 402.4 216.7 402.4 221.0 402.5C225.3 402.6 231.0 402.9 236.0 403.0C241.0 403.1 246.0 403.2 251.0 403.0C256.0 402.8 259.6 402.3 266.0 401.8C272.4 401.3 282.3 400.5 289.4 400.1C296.5 399.8 302.9 399.6 308.7 399.7C314.5 399.8 319.7 400.1 324.2 400.5C328.7 400.9 331.9 401.6 335.8 402.4C339.7 403.2 343.9 404.4 347.5 405.3C351.1 406.2 353.9 407.1 357.1 407.9C360.3 408.6 363.2 409.2 366.8 409.8C370.4 410.4 374.5 411.1 378.4 411.7C382.3 412.3 386.1 413.2 390.0 413.5C393.9 413.8 398.3 413.9 401.7 413.6C405.1 413.3 407.5 412.7 410.2 411.8C412.9 410.9 415.6 409.5 417.7 408.0C419.8 406.5 420.6 404.3 422.7 403.0C424.8 401.7 427.3 400.6 430.2 400.0C433.1 399.4 436.9 399.3 440.2 399.3C443.5 399.3 447.7 399.4 450.2 400.0C452.7 400.6 453.9 401.8 455.2 403.0C456.4 404.2 456.0 406.4 457.7 407.5C459.4 408.6 462.3 409.1 465.2 409.3C468.1 409.5 471.9 408.8 475.2 408.5C478.5 408.2 483.4 407.7 485.0 407.5L485.0 380.0 L43.0 380.0 Z"/>
<path fill="#FFB6C1" d="M43.0 389.5C57.5 389.4 100.3 389.4 130.0 389.2C159.7 389.0 193.3 388.6 221.0 388.5C248.7 388.4 278.2 388.4 296.0 388.5C313.8 388.6 319.4 388.8 328.0 389.2C336.6 389.6 341.3 390.0 347.5 390.8C353.7 391.6 359.6 393.0 365.0 394.0C370.4 395.0 375.4 396.0 380.0 396.6C384.6 397.2 388.4 397.6 392.6 397.5C396.8 397.4 400.4 396.8 405.0 396.0C409.6 395.2 415.0 393.8 420.0 393.0C425.0 392.2 430.2 391.5 435.2 391.0C440.2 390.5 445.2 390.2 450.2 390.0C455.2 389.8 459.4 389.6 465.2 389.5C471.0 389.4 481.7 389.5 485.0 389.5L485.0 380.0 L43.0 380.0 Z"/>
<path fill="#FF4500" d="M68.8 450.6C68.8 448.4 70.6 445.4 72.5 443.1C74.4 440.8 77.2 438.5 80.1 436.8C83.0 435.1 85.9 434.1 90.1 433.1C94.3 432.2 99.7 431.3 105.1 431.1C110.5 430.9 116.8 431.3 122.6 431.8C128.4 432.3 134.3 433.3 140.2 434.3C146.0 435.3 151.9 436.4 157.7 437.6C163.5 438.9 169.8 440.2 175.2 441.8C180.6 443.4 186.2 445.0 190.2 446.9C194.2 448.8 197.3 451.2 199.0 453.1C200.7 455.0 200.6 456.2 200.2 458.1C199.8 460.0 198.6 462.6 196.5 464.4C194.4 466.1 191.2 467.4 187.7 468.6C184.1 469.9 179.8 470.9 175.2 471.9C170.6 472.9 165.2 473.8 160.2 474.4C155.2 475.0 150.2 475.5 145.2 475.6C140.2 475.7 135.1 475.4 130.1 475.1C125.1 474.8 119.7 474.4 115.1 473.6C110.5 472.9 106.8 471.9 102.6 470.6C98.4 469.3 93.8 467.3 90.1 465.6C86.3 463.9 83.0 462.2 80.1 460.6C77.2 459.0 74.4 457.8 72.5 456.1C70.6 454.4 68.8 452.8 68.8 450.6Z"/>
<path fill="#B22222" d="M107.1 449.4C107.5 447.4 110.0 444.2 112.6 442.6C115.2 441.1 118.8 440.4 122.6 440.1C126.3 439.8 130.9 440.0 135.1 440.6C139.3 441.2 143.7 442.4 147.7 443.6C151.7 444.8 155.8 446.2 158.9 447.6C162.0 449.0 165.8 450.2 166.4 451.9C167.0 453.6 165.0 456.1 162.7 457.6C160.4 459.1 156.4 460.2 152.7 461.1C148.9 462.0 144.4 463.0 140.2 463.1C136.0 463.2 131.4 462.7 127.6 461.9C123.8 461.1 120.5 459.4 117.6 458.1C114.7 456.9 111.8 455.8 110.1 454.4C108.3 452.9 106.7 451.4 107.1 449.4Z"/>
<path fill="#FFE100" d="M43.0 429.9C44.2 429.6 47.4 428.8 50.0 428.4C52.6 428.0 55.8 427.8 58.7 427.8C61.6 427.8 65.0 427.9 67.4 428.4C69.8 428.8 72.0 429.7 73.0 430.5C74.0 431.3 74.1 432.2 73.6 433.0C73.1 433.8 71.4 434.7 69.9 435.5C68.5 436.3 66.4 437.0 64.9 438.0C63.5 439.0 62.5 440.4 61.2 441.7C60.0 442.9 58.9 444.4 57.4 445.5C55.9 446.6 54.0 447.3 52.4 448.0C50.8 448.7 49.1 449.2 47.5 449.6C45.9 450.0 43.8 450.0 43.0 450.1Z"/>
<path fill="#FFE100" d="M190.2 426a11.3 5.5 0 1 0 22.6 0a11.3 5.5 0 1 0 -22.6 0Z"/>
<path fill="#FFE100" d="M243.5 448.1C243.9 447.1 243.9 443.6 246.0 441.8C248.1 440.1 251.8 438.7 256.0 437.6C260.2 436.5 265.2 435.7 271.0 435.1C276.8 434.5 284.7 433.9 291.0 433.8C297.3 433.7 303.9 434.3 308.7 434.5C313.5 434.7 316.4 435.0 320.0 435.0C323.6 435.0 326.9 435.1 330.0 434.5C333.1 433.9 335.5 432.4 338.3 431.6C341.1 430.8 343.6 430.0 346.6 429.6C349.7 429.2 353.3 429.1 356.6 429.1C359.9 429.1 363.2 429.2 366.5 429.6C369.8 430.0 373.2 430.9 376.5 431.6C379.8 432.4 383.1 433.6 386.4 434.1C389.7 434.6 393.3 434.8 396.4 434.6C399.4 434.5 401.9 433.9 404.7 433.2C407.5 432.5 410.0 431.5 413.0 430.7C416.0 429.9 419.6 429.2 422.9 428.6C426.2 428.1 429.6 427.7 432.9 427.4C436.2 427.1 439.2 426.9 442.9 426.9C446.6 426.9 450.6 427.1 455.2 427.4C459.8 427.7 465.2 428.2 470.2 428.6C475.2 429.0 482.5 429.8 485.0 430.0L485.0 449.4C482.5 449.8 474.3 450.9 470.2 451.9C466.1 452.9 463.1 454.2 460.2 455.6C457.3 457.1 455.2 458.7 452.7 460.6C450.2 462.5 447.7 465.1 445.2 466.9C442.7 468.7 440.6 470.2 437.7 471.4C434.8 472.6 431.3 473.7 427.7 474.2C424.1 474.7 419.9 474.5 416.3 474.4C412.7 474.3 409.6 473.9 406.3 473.4C403.0 472.9 399.4 472.1 396.4 471.4C393.4 470.6 390.9 469.9 388.1 468.9C385.3 467.9 382.3 466.8 379.8 465.6C377.3 464.4 374.9 462.9 373.2 461.5C371.5 460.1 371.5 458.5 369.8 457.3C368.1 456.1 365.7 455.2 363.2 454.5C360.7 453.8 357.9 453.2 354.9 452.8C351.8 452.4 347.9 452.2 344.9 452.3C341.8 452.4 339.1 452.9 336.6 453.5C334.1 454.1 332.6 454.6 330.0 455.6C327.4 456.6 324.7 458.1 321.1 459.4C317.5 460.7 313.2 462.4 308.6 463.6C304.0 464.9 298.6 466.2 293.6 466.9C288.6 467.6 283.6 467.8 278.6 467.6C273.6 467.4 268.2 466.6 263.6 465.6C259.0 464.7 254.1 463.6 251.0 461.9C247.9 460.2 245.8 456.7 244.8 455.6Z"/>
<path fill="#FFE100" d="M43.0 511.8C44.2 511.6 47.6 510.5 50.0 510.5C52.4 510.5 55.0 510.9 57.5 511.8C60.0 512.7 62.1 514.3 65.0 516.0C67.9 517.7 71.7 520.0 75.0 521.8C78.3 523.6 81.3 525.2 85.1 526.8C88.9 528.3 92.6 530.0 97.6 531.1C102.6 532.2 108.8 532.9 115.1 533.6C121.3 534.4 128.4 535.2 135.1 535.6C141.8 536.0 148.5 536.0 155.2 536.1C161.9 536.2 168.5 536.2 175.2 536.1C181.9 536.0 189.4 535.7 195.2 535.6C201.0 535.5 205.9 535.5 210.2 535.6C214.5 535.7 216.7 535.9 221.0 536.1C225.3 536.3 231.0 536.5 236.0 536.8C241.0 537.0 245.2 537.3 251.0 537.6C256.9 537.9 265.2 538.3 271.1 538.6C277.0 538.9 281.5 539.2 286.1 539.3C290.7 539.4 295.1 539.6 298.6 539.3C302.2 539.0 305.4 538.6 307.4 537.6C309.4 536.6 310.6 534.7 310.6 533.1C310.6 531.5 308.2 529.8 307.4 528.1C306.6 526.4 305.4 524.5 305.6 523.0C305.8 521.5 306.0 520.3 308.6 519.3C311.2 518.3 315.7 517.5 321.1 516.8C326.5 516.1 334.7 515.6 341.2 515.0C347.7 514.4 354.9 513.5 360.1 513.0C365.3 512.5 368.4 512.3 372.6 511.8C376.8 511.3 380.5 510.4 385.1 510.0C389.7 509.6 395.1 509.6 400.1 509.3C405.1 509.1 410.1 508.8 415.1 508.5C420.1 508.2 425.2 507.8 430.2 507.5C435.2 507.2 440.2 506.9 445.2 507.0C450.2 507.1 455.6 507.5 460.2 508.0C464.8 508.5 468.6 509.4 472.7 510.0C476.8 510.6 482.9 511.5 485.0 511.8L485.0 601.5 L43.0 601.5 Z"/>
<path fill="#DEB887" d="M43.0 543.6C46.7 543.7 58.0 544.0 65.0 544.3C72.0 544.6 78.8 545.0 85.1 545.6C91.4 546.2 96.8 547.4 102.6 548.1C108.4 548.9 113.8 549.5 120.1 550.1C126.3 550.7 133.4 551.5 140.1 551.8C146.8 552.1 153.5 552.3 160.2 552.1C166.9 551.9 173.5 551.2 180.2 550.6C186.9 550.0 193.4 549.2 200.2 548.6C207.0 548.0 214.2 547.0 221.0 546.8C227.8 546.6 234.3 547.2 241.0 547.6C247.7 548.0 254.4 548.6 261.1 549.3C267.8 550.0 274.4 551.2 281.1 551.8C287.8 552.4 294.4 552.8 301.1 553.1C307.8 553.4 314.4 553.6 321.1 553.6C327.8 553.6 333.0 553.6 341.2 553.1C349.4 552.6 362.0 551.2 370.1 550.6C378.2 550.0 383.4 549.7 390.1 549.3C396.8 548.9 403.4 548.4 410.1 548.1C416.8 547.8 424.4 547.8 430.2 547.6C436.0 547.4 440.2 547.2 445.2 546.8C450.2 546.4 455.6 545.8 460.2 545.1C464.8 544.4 468.6 542.9 472.7 542.6C476.8 542.4 482.9 543.4 485.0 543.6L485.0 601.5 L43.0 601.5 Z"/>
<path fill="#F5E6BE" d="M43.0 556.1C46.7 556.1 57.1 556.0 65.0 556.1C72.8 556.2 81.8 556.5 90.1 556.8C98.4 557.1 106.8 557.7 115.1 558.1C123.4 558.5 131.8 558.9 140.1 559.1C148.4 559.4 156.8 559.6 165.2 559.6C173.5 559.6 180.9 559.5 190.2 559.3C199.5 559.1 211.7 558.7 221.0 558.6C230.3 558.5 237.7 558.5 246.0 558.8C254.3 559.0 262.8 559.7 271.1 560.1C279.5 560.5 287.8 560.9 296.1 561.1C304.4 561.3 312.8 561.2 321.1 561.1C329.5 561.0 339.7 560.9 346.2 560.6C352.7 560.3 353.6 559.7 360.1 559.3C366.6 558.9 376.8 558.4 385.1 558.1C393.4 557.8 401.8 557.8 410.1 557.6C418.5 557.4 426.9 557.0 435.2 556.8C443.5 556.5 451.9 556.2 460.2 556.1C468.5 556.0 480.9 556.1 485.0 556.1L485.0 601.5 L43.0 601.5 Z"/>
<path fill="#9ABE32" d="M43.0 562.6C46.7 562.6 57.1 562.5 65.0 562.6C72.8 562.7 81.8 562.8 90.1 563.1C98.4 563.4 106.8 564.1 115.1 564.4C123.4 564.7 131.8 564.9 140.1 565.1C148.4 565.3 156.8 565.5 165.2 565.6C173.5 565.7 180.9 565.6 190.2 565.6C199.5 565.6 211.7 565.5 221.0 565.6C230.3 565.7 237.7 565.8 246.0 566.1C254.3 566.4 262.8 567.2 271.1 567.6C279.5 568.0 287.8 568.4 296.1 568.6C304.4 568.8 312.8 568.8 321.1 568.6C329.5 568.4 339.7 568.0 346.2 567.6C352.7 567.2 353.6 566.5 360.1 566.1C366.6 565.7 376.8 565.5 385.1 565.1C393.4 564.7 401.8 563.9 410.1 563.6C418.5 563.3 426.9 563.3 435.2 563.1C443.5 562.9 451.9 562.7 460.2 562.6C468.5 562.5 480.9 562.6 485.0 562.6L485.0 601.5 L43.0 601.5 Z"/>
<path fill="#BCEE68" d="M43.0 568.1C46.7 568.0 57.1 567.6 65.0 567.6C72.8 567.6 81.8 567.9 90.1 568.1C98.4 568.3 106.8 568.4 115.1 568.6C123.4 568.9 131.8 569.4 140.1 569.6C148.4 569.9 156.8 569.9 165.2 570.1C173.5 570.4 180.9 570.8 190.2 571.1C199.5 571.4 211.7 571.6 221.0 571.9C230.3 572.2 237.7 572.6 246.0 573.1C254.3 573.6 262.8 574.7 271.1 575.1C279.5 575.5 287.8 575.6 296.1 575.6C304.4 575.6 312.8 575.4 321.1 575.1C329.5 574.8 339.7 574.0 346.2 573.6C352.7 573.2 353.6 573.0 360.1 572.6C366.6 572.2 376.8 571.6 385.1 571.1C393.4 570.6 401.8 570.0 410.1 569.6C418.5 569.2 426.9 568.9 435.2 568.6C443.5 568.4 451.9 568.2 460.2 568.1C468.5 568.0 480.9 568.1 485.0 568.1L485.0 601.5 L43.0 601.5 Z"/>
<path fill="#20B2AA" d="M43.0 574.1C45.0 574.1 51.3 574.1 55.0 574.1C58.7 574.1 61.2 574.1 65.0 573.9C68.8 573.7 73.4 573.2 77.6 573.1C81.8 573.0 85.5 572.9 90.1 573.1C94.7 573.3 100.9 574.0 105.1 574.4C109.3 574.8 110.9 575.3 115.1 575.6C119.3 575.9 125.1 576.3 130.1 576.1C135.1 575.9 140.1 574.9 145.1 574.4C150.1 573.9 155.2 573.4 160.2 573.1C165.2 572.8 170.2 572.4 175.2 572.6C180.2 572.8 185.2 573.6 190.2 574.4C195.2 575.2 200.1 576.5 205.2 577.6C210.3 578.7 215.9 580.3 221.0 581.1C226.1 581.9 231.0 582.1 236.0 582.6C241.0 583.1 245.2 583.9 251.0 584.4C256.9 584.9 263.6 585.4 271.1 585.6C278.6 585.8 287.8 585.8 296.1 585.6C304.4 585.4 312.8 584.9 321.1 584.4C329.5 583.9 339.7 583.0 346.2 582.6C352.7 582.2 353.6 582.3 360.1 581.9C366.6 581.5 378.4 580.6 385.1 580.1C391.8 579.6 395.9 579.1 400.1 578.6C404.3 578.1 406.3 577.3 410.1 576.9C413.9 576.5 417.7 576.2 422.7 576.1C427.7 576.0 433.9 576.2 440.2 576.1C446.4 576.0 454.4 575.8 460.2 575.6C466.0 575.4 471.1 575.1 475.2 574.9C479.3 574.6 483.4 574.2 485.0 574.1L485.0 601.5 L43.0 601.5 Z"/>
<path fill="#B0E0E6" d="M43.0 584.4C45.0 584.2 51.3 583.5 55.0 583.1C58.7 582.7 60.8 582.2 65.0 581.9C69.2 581.6 75.1 581.1 80.1 581.1C85.1 581.1 90.1 581.4 95.1 581.9C100.1 582.4 105.5 583.9 110.1 584.4C114.7 584.9 118.4 585.1 122.6 585.1C126.8 585.1 130.9 584.9 135.1 584.4C139.3 583.9 143.4 582.5 147.6 581.9C151.8 581.3 156.4 580.6 160.2 580.6C164.0 580.6 167.3 581.1 170.2 581.9C173.1 582.7 175.2 584.4 177.7 585.6C180.2 586.9 182.3 588.4 185.2 589.4C188.1 590.4 191.0 591.2 195.2 591.9C199.4 592.6 205.9 593.1 210.2 593.6C214.5 594.1 215.0 594.7 221.0 595.1C227.0 595.5 237.7 595.7 246.0 596.1C254.3 596.5 262.8 597.4 271.1 597.7C279.5 598.1 287.8 598.2 296.1 598.2C304.4 598.2 312.8 598.1 321.1 597.7C329.5 597.4 339.7 596.4 346.2 596.1C352.7 595.8 353.6 596.3 360.1 596.1C366.6 595.9 376.8 595.5 385.1 595.1C393.4 594.7 403.8 594.1 410.1 593.6C416.4 593.1 418.5 592.4 422.7 591.9C426.9 591.4 431.4 591.0 435.2 590.6C438.9 590.2 441.9 590.0 445.2 589.4C448.5 588.8 451.9 587.6 455.2 586.9C458.5 586.2 461.9 585.5 465.2 585.1C468.5 584.7 471.9 584.5 475.2 584.4C478.5 584.3 483.4 584.4 485.0 584.4L485.0 601.5 L43.0 601.5 Z"/>
<path fill="#fff" d="M43.0 599.2L485.0 599.2L485.0 601.5L43.0 601.5Z"/>
<path fill="#fff" d="M43.0 380.0L485.0 380.0L485.0 382.8L43.0 382.8Z"/>
<path fill="none" stroke="#000" stroke-width="0.9" stroke-linejoin="round" d="M477.8 446.7L482.5 447.6L485.0 446.7 M43.0 446.7 L43.0 446.7L46.7 445.5L51.6 445.2L55.3 444.9L56.5 445.2L55.9 446.4L55.3 448.9L56.5 449.9L59.0 450.3L61.8 451.0L62.6 452.2L65.1 453.2L67.6 452.6L67.6 450.4L71.2 450.6L73.7 451.7L78.6 452.6L81.1 452.0L82.7 452.4L85.0 452.2L82.9 453.8L84.1 456.3L86.6 461.2L88.4 464.9L88.8 467.6L90.9 471.7L93.3 474.1L96.0 475.4L96.2 476.6L98.2 477.8L101.9 477.0L105.9 476.2L105.4 479.7L103.2 484.6L99.5 488.3L95.2 492.0L92.7 493.8L91.5 496.9L91.1 499.4L91.5 501.8L92.7 504.3L92.8 509.2L89.7 512.3L87.8 514.1L86.0 515.4L86.6 519.7L83.5 522.1L83.3 524.6L81.1 527.7L77.4 531.4L74.3 532.6L70.0 533.0L67.6 533.6L65.6 532.8L65.1 530.1L63.3 525.9L61.4 523.4L60.8 518.4L57.7 512.9L57.5 510.2L59.6 506.1L59.2 501.8L58.0 498.1L56.5 495.5L54.0 492.0L54.7 489.5L54.8 486.4L53.4 485.2L51.0 485.5L48.5 483.0L44.2 483.6L43.0 484.0 M485.0 484.0 L482.5 484.8L479.5 484.4L475.8 485.3L473.9 484.6L471.5 482.4L469.0 480.3L468.4 478.7L466.6 477.5L464.5 475.6L463.5 472.7L464.7 471.1L465.0 467.4L464.1 464.9L465.4 461.8L466.8 459.4L469.0 456.7L471.5 455.4L473.0 454.1L473.1 452.0L474.6 449.8L476.7 448.8L477.8 446.7M478.1 446.4L477.0 445.5L475.9 445.0L474.1 445.2L473.3 443.1L474.2 440.3L473.6 437.8L475.2 437.0L480.1 437.3L482.8 437.3L483.5 435.9L483.5 434.1L482.3 432.9L479.5 431.9L479.1 431.2L481.3 430.7L483.2 430.9L482.8 429.6L485.0 429.8 M43.0 429.8 L43.2 429.8L45.0 428.2L47.3 427.5L48.5 426.1L49.1 425.2L51.6 424.8L53.8 424.5L53.6 422.5L53.1 420.6L55.9 419.7L55.5 421.8L56.3 423.9L57.7 424.1L60.2 424.3L63.3 423.7L65.7 423.4L67.3 423.8L68.8 422.5L68.8 420.6L70.0 419.9L72.8 420.4L71.9 418.8L72.5 417.8L77.4 417.4L79.8 416.9L77.4 416.3L73.7 416.7L70.6 416.9L69.2 415.7L69.4 413.2L73.7 410.8L72.5 409.8L70.0 410.1L68.8 412.0L64.5 413.8L64.2 415.7L66.1 416.9L63.9 418.5L63.3 420.6L62.4 421.7L60.6 422.5L58.7 422.6L58.3 421.5L56.9 419.0L56.1 417.8L54.0 418.8L51.6 419.4L49.8 418.4L49.1 415.7L51.0 413.7L53.4 412.5L56.5 411.0L59.0 408.9L60.8 407.1L63.9 405.8L66.9 404.6L71.2 403.6L74.9 403.4L78.0 403.6L81.1 404.4L83.5 405.3L88.4 406.0L93.3 407.4L93.3 408.9L89.7 409.4L84.7 408.7L85.4 410.8L85.7 411.5L89.7 412.0L92.1 411.3L92.7 409.7L97.0 409.2L97.0 406.5L99.5 407.1L104.4 406.8L109.3 406.5L114.2 406.1L117.3 405.2L121.6 405.5L125.3 406.1L127.1 404.0L125.3 402.8L127.7 400.9L132.0 401.3L132.0 405.8L133.2 403.4L135.1 401.8L138.8 401.9L142.4 400.3L149.8 399.7L149.8 398.1L159.6 397.2L165.8 396.6L170.7 395.1L174.4 396.2L181.7 397.2L180.5 399.9L183.0 400.1L189.1 400.9L194.0 400.1L198.9 401.5L202.0 403.1L205.7 402.5L210.0 402.8L214.9 401.5L217.3 401.3L227.2 402.8L230.8 403.5L239.4 405.0L245.6 405.1L251.7 405.2L252.3 404.5L259.1 404.9L264.0 405.8L270.1 407.7L276.3 409.3L273.8 411.4L270.1 411.0L266.5 410.1L264.6 411.1L262.8 411.4L262.8 413.8L257.9 414.5L251.7 416.9L246.8 416.9L243.7 416.9L243.1 418.8L241.9 420.0L243.1 421.8L241.9 423.3L239.4 425.3L237.6 425.8L235.4 428.0L234.5 425.5L233.9 421.8L235.8 419.6L239.4 416.3L243.7 414.1L239.4 414.7L235.8 414.9L232.7 417.2L229.6 418.1L225.9 417.3L221.0 417.7L218.0 417.9L214.9 420.0L212.4 421.6L209.4 423.3L211.8 424.3L216.1 425.2L216.5 426.5L215.5 428.6L215.3 431.1L213.0 433.5L210.0 436.0L206.9 438.0L205.1 437.6L203.2 438.5L202.2 439.7L201.4 440.9L199.5 442.1L200.6 443.4L201.9 445.2L201.8 447.1L200.8 447.7L198.3 448.4L198.1 447.1L198.3 445.2L196.5 444.2L196.5 442.1L195.6 441.7L192.5 442.8L192.2 440.7L189.1 442.5L187.5 443.0L188.9 444.2L191.3 444.2L193.4 445.0L190.9 446.2L189.5 447.7L191.3 450.1L192.5 451.6L192.5 452.8L192.8 454.1L192.2 455.9L190.3 458.1L189.1 460.0L187.3 461.5L185.4 462.6L183.2 463.3L180.5 464.0L178.7 464.7L178.1 465.8L177.4 464.3L175.6 464.2L174.0 465.5L172.9 467.4L173.9 469.2L176.0 471.1L177.1 473.5L177.2 476.0L175.0 477.8L173.1 479.1L171.9 480.0L171.8 478.4L169.5 477.2L168.8 475.7L167.0 475.1L166.4 474.1L165.8 475.4L164.9 477.2L164.8 479.1L166.0 480.3L166.4 481.9L167.9 482.4L169.5 484.0L170.0 485.8L170.1 487.3L170.9 489.0L169.8 488.8L167.6 487.4L166.4 485.2L166.1 483.4L165.4 482.5L163.9 480.9L163.7 479.1L164.2 476.6L163.9 474.8L163.0 472.3L162.8 470.4L161.5 470.2L160.3 471.3L158.8 471.1L159.0 468.6L158.0 466.8L156.6 464.9L155.7 463.2L154.1 462.8L152.3 463.9L149.8 464.3L149.6 465.4L148.0 466.5L145.5 468.8L144.0 470.3L142.2 471.3L141.5 472.3L141.6 474.8L141.0 476.6L141.0 478.1L140.0 479.3L139.0 479.8L138.2 480.8L136.7 479.1L135.9 476.6L134.8 474.8L134.1 472.3L133.0 469.8L132.4 467.4L132.4 464.9L132.0 463.9L131.4 464.8L129.9 465.3L127.7 463.4L128.9 462.7L127.3 462.1L125.6 461.2L124.9 460.0L121.6 459.6L118.5 459.9L115.2 459.4L113.4 458.5L112.7 457.5L110.3 458.0L107.6 456.9L105.6 455.2L104.6 453.8L103.0 453.3L101.9 454.1L102.7 455.9L104.4 457.9L105.1 459.7L106.0 458.6L106.4 460.1L107.5 461.0L109.3 461.0L111.8 458.8L112.2 460.2L113.2 461.3L115.1 461.7L116.4 463.1L115.1 465.5L113.8 467.4L110.8 469.2L107.5 470.7L103.2 472.9L98.2 474.8L96.4 475.1L96.0 474.1L95.5 472.3L95.2 470.1L93.3 467.4L91.1 464.5L90.3 461.8L88.7 460.4L87.8 458.8L86.0 456.3L85.8 454.4L85.1 456.5L83.5 455.1L82.9 453.8M85.0 452.2L85.8 450.4L86.6 449.0L87.1 447.1L87.3 445.5L85.5 445.6L83.5 446.3L80.6 445.5L78.6 445.8L76.8 445.5L76.4 444.2L75.5 443.4L75.9 442.1L75.2 441.5L76.8 440.9L78.6 440.3L81.1 440.1L83.5 439.1L86.0 439.1L88.4 440.1L91.5 440.3L94.0 439.7L93.7 438.5L91.5 437.0L89.0 435.7L88.2 435.0L89.7 433.5L90.9 432.8L87.2 433.4L86.0 434.1L86.3 435.0L84.1 436.0L82.9 434.9L84.1 434.1L81.7 433.4L79.8 434.4L79.5 435.4L78.1 436.6L77.4 438.1L77.4 439.3L78.6 440.1L76.8 440.3L75.2 440.7L72.5 440.5L71.9 441.3L71.0 441.0L71.2 442.4L72.5 444.0L71.2 444.6L71.0 445.8L69.4 445.2L69.0 443.6L67.6 441.9L66.8 440.9L66.9 439.3L65.7 438.5L62.6 437.2L61.4 436.0L59.9 435.5L59.8 434.6L58.1 435.0L58.3 436.6L59.7 437.2L60.4 438.6L62.6 439.2L65.1 440.8L65.7 441.4L63.9 440.9L63.4 441.9L64.0 442.8L62.8 444.1L62.3 443.7L62.6 442.1L61.4 441.3L60.6 440.5L58.1 439.4L55.9 438.0L55.5 436.7L53.9 436.1L52.2 436.9L50.4 437.7L48.5 437.3L46.9 437.6L46.9 438.8L45.7 439.8L43.9 440.7L43.0 441.7 M485.0 441.7 L484.6 442.1L485.0 442.7 M43.0 442.7 L43.2 443.1L43.0 443.4 M485.0 443.4 L484.1 444.4L482.5 445.5L479.6 445.6L478.1 446.4M278.7 410.0L281.2 406.7L284.9 405.8L287.3 404.2L292.9 403.0L298.4 403.6L307.0 404.6L311.9 405.1L318.0 406.0L320.5 405.2L326.6 404.6L331.5 405.3L336.4 404.9L343.8 406.0L349.9 407.2L352.4 406.3L356.1 407.1L361.0 407.4L364.7 406.5L367.1 407.9L368.4 405.8L369.6 402.8L372.0 405.2L374.5 406.5L377.0 407.7L379.4 407.1L380.0 405.0L384.3 404.9L384.9 406.5L383.1 409.2L379.4 409.3L378.2 411.4L375.7 412.0L372.0 413.5L369.6 415.7L368.7 418.4L371.4 420.6L375.7 420.9L380.6 422.7L384.0 422.9L384.1 425.5L386.2 427.6L388.0 427.4L388.0 424.3L390.5 421.8L389.8 418.8L389.0 416.3L389.2 414.0L394.1 414.1L399.1 415.7L399.7 418.1L402.7 418.9L405.2 417.2L405.8 416.5L408.9 420.0L411.3 422.5L415.0 424.9L416.2 426.8L413.2 427.6L411.3 429.0L405.2 429.0L402.7 430.1L399.1 432.5L403.4 430.3L405.8 430.6L405.2 432.3L406.4 433.9L410.1 434.6L409.5 435.4L404.6 437.2L403.7 436.4L405.8 434.8L402.7 435.4L400.3 436.6L398.4 437.5L398.1 438.7L399.1 439.4L396.6 440.1L394.1 440.8L393.9 442.1L392.3 443.4L391.7 445.2L392.1 447.1L390.7 448.0L388.6 449.2L385.8 451.4L385.1 453.2L386.4 456.9L386.5 459.4L385.3 459.7L383.5 456.7L383.3 454.8L381.9 453.8L380.0 454.2L377.6 453.5L375.7 453.6L375.4 454.9L373.3 454.7L369.6 454.4L366.5 455.9L365.4 457.5L365.2 460.6L364.9 463.3L366.5 466.8L368.4 468.0L371.4 468.0L373.3 467.4L373.9 464.9L376.3 464.3L378.2 464.4L377.6 466.8L376.6 468.6L376.0 471.1L379.4 471.2L382.5 471.9L382.5 475.4L382.2 477.2L383.7 479.3L385.6 479.8L387.4 478.9L389.8 480.0L390.5 481.0M390.0 481.9L388.9 480.2L387.1 479.8L386.2 481.9L383.7 480.7L382.5 480.3L380.6 478.4L379.7 477.3L377.6 474.8L375.1 474.1L372.7 473.5L369.6 470.9L367.1 471.4L363.4 470.3L359.8 468.6L356.1 466.8L355.3 464.3L354.2 461.8L351.8 459.6L350.6 457.8L347.5 455.1L346.3 452.4L344.2 451.7L344.4 453.8L346.5 456.5L348.7 459.4L350.1 462.2L349.3 461.8L347.2 460.0L345.0 457.3L343.8 455.7L342.8 453.6L341.2 450.8L339.5 448.9L336.9 448.2L335.3 445.7L334.6 444.2L333.0 442.1L332.4 440.9L332.5 437.8L332.8 433.9L331.9 431.2L334.2 432.3L334.2 430.5L331.5 429.2L328.1 427.4L327.8 425.5L325.0 423.7L323.5 421.8L320.5 419.0L316.8 418.4L313.7 417.2L308.8 416.9L305.7 415.7L302.7 416.3L299.0 417.8L298.4 415.9L300.8 415.4L296.5 417.5L295.3 419.4L292.2 421.0L288.6 422.2L284.9 423.3L283.0 423.6L287.3 421.8L291.0 420.0L291.9 418.4L288.6 418.4L286.1 418.5L285.9 416.9L282.4 416.3L281.2 414.9L282.4 413.6L284.9 413.0L287.3 412.5L287.3 411.4L284.3 411.4L280.6 411.3L278.7 410.0M390.0 481.9L389.8 484.0L390.5 486.1L388.4 488.3L387.0 489.8L386.2 492.0L385.8 493.6L387.0 493.9L386.4 494.9L385.2 496.3L385.6 498.1L387.1 499.6L388.6 502.4L390.2 505.5L391.4 507.9L394.1 510.4L397.2 512.3L398.7 513.5L398.9 516.6L398.4 520.3L398.2 524.0L397.2 527.7L397.1 531.4L395.9 534.4L394.8 536.9L394.8 540.0L394.1 542.4L395.4 543.0L395.4 544.9L392.9 548.0L393.5 551.0L392.5 553.5L394.8 555.7L397.8 557.0L398.0 555.8L399.9 555.4L401.0 555.2L400.3 552.9L402.0 551.0L404.2 549.2L402.4 547.4L404.8 545.9L405.2 543.0L406.9 543.2L405.2 541.0L408.6 541.0L408.6 538.6L412.6 538.2L414.8 537.3L415.4 535.5L414.6 534.1L413.3 532.8L415.0 533.5L417.5 533.6L419.4 532.2L421.2 530.1L423.0 528.5L425.3 525.2L425.5 522.7L427.3 520.9L430.1 519.3L433.4 519.1L434.7 517.8L435.9 515.4L437.1 512.3L437.1 509.2L437.7 506.7L439.2 504.9L441.8 501.8L442.3 499.4L441.7 497.3L439.6 496.7L436.5 494.4L433.4 494.2L430.4 493.8L427.9 492.0L425.5 492.2L423.6 491.0L422.6 488.9L422.0 485.8L420.5 484.2L417.5 483.5L414.6 483.4L412.8 481.5L410.5 480.3L408.9 478.4L407.9 477.7L405.8 478.2L403.7 477.7L401.3 477.7L399.1 476.2L397.2 477.3L396.6 476.2L395.4 476.8L392.9 477.5L391.9 479.2L390.7 480.2L390.5 481.0M182.6 518.4L183.2 517.6L186.0 516.1L189.1 515.4L192.2 514.1L193.2 512.0L194.8 512.0L196.5 509.8L198.9 508.0L200.8 509.1L202.2 509.1L203.2 506.1L205.7 505.0L209.1 505.8L211.0 505.8L210.0 507.4L209.4 509.2L211.8 510.4L214.0 512.2L215.9 512.3L216.9 509.2L217.1 506.4L218.0 504.0L219.2 506.5L219.6 508.5L221.4 509.1L222.3 512.3L222.6 514.0L225.3 515.5L226.7 518.2L228.1 518.6L228.4 519.8L230.8 522.1L231.5 525.2L230.8 528.9L229.0 532.0L227.5 535.0L227.0 536.9L224.5 537.5L222.6 538.9L220.8 537.6L219.2 538.5L216.1 537.6L214.4 535.7L212.7 534.6L212.4 532.0L211.8 532.3L211.0 534.6L209.7 533.6L207.8 531.4L204.5 529.5L200.8 530.0L197.1 530.9L195.0 532.5L190.3 532.5L187.8 533.8L184.4 533.0L185.1 530.1L184.2 527.7L183.2 524.6L182.2 522.7L183.0 521.5L182.6 518.4M395.4 394.5L401.5 392.9L407.6 390.8L417.5 389.5L429.8 389.0L444.5 388.0L454.3 388.9L460.4 390.1L467.8 390.8L462.9 392.9L461.7 395.4L459.8 397.8L461.1 399.7L458.0 401.5L457.4 404.0L453.1 404.9L453.1 406.5L445.7 407.1L440.8 409.5L435.9 410.5L433.4 413.2L432.0 416.8L429.8 416.8L426.1 415.7L423.6 413.5L421.2 410.8L419.3 408.3L419.3 405.8L422.4 404.9L418.1 404.0L417.5 401.5L414.4 399.1L410.1 397.2L402.7 397.2L397.8 396.0L395.4 394.5M264.0 594.7L270.1 594.9L288.6 595.6L304.5 596.1L304.5 592.3L298.4 589.8L291.0 588.3L286.1 588.6L288.6 587.0L293.5 586.4L300.8 585.5L305.7 584.3L313.1 583.3L325.4 582.4L337.7 581.8L347.5 582.5L356.1 581.2L362.2 580.6L368.4 580.6L377.0 580.6L386.8 580.9L392.9 580.0L399.1 580.0L401.5 576.9L402.7 573.8L406.4 571.1L411.3 569.0L415.0 568.6L412.6 570.1L408.9 572.0L405.2 574.4L408.3 576.3L410.1 578.7L410.7 581.2L407.6 583.7L402.1 585.1L411.3 587.3L427.3 588.8L439.6 588.2L451.9 585.1L464.1 582.1L472.7 579.6L483.8 578.5L485.0 578.1 M43.0 578.1 L43.0 578.1L52.8 576.9L61.4 576.3L70.0 577.3L77.4 576.6L83.5 575.4L89.7 576.6L94.6 574.4L100.7 573.8L106.8 572.0L113.0 573.0L119.1 573.8L126.5 574.2L128.9 575.4L132.6 576.6L137.5 575.7L141.2 574.2L148.6 572.7L156.0 572.6L163.3 572.0L171.9 572.6L178.1 572.0L184.2 572.7L190.3 573.0L198.9 572.6L206.3 572.0L214.9 572.8L221.0 573.4L227.2 574.9L234.5 575.9L241.9 577.5L249.3 578.7L252.9 579.4L248.0 581.6L243.7 583.7L243.1 586.1L240.1 588.6L239.4 591.0L245.6 592.9L257.9 594.1L264.0 594.7M478.0 429.1L480.7 428.7L483.8 428.2L485.0 428.0 M43.0 428.0 L44.6 427.7L43.6 427.4L45.1 425.9L43.4 425.5L43.0 424.7 M485.0 424.7 L484.8 424.2L483.2 423.1L482.5 421.8L481.1 421.8L482.5 420.0L480.1 419.7L481.1 418.6L478.9 418.6L477.6 420.0L478.2 421.8L479.1 423.2L481.1 423.6L481.3 425.0L479.5 425.3L479.7 426.4L478.6 427.0L481.1 427.5L479.5 428.0L478.0 429.1M477.4 426.5L477.6 424.9L478.1 423.7L476.4 422.7L474.6 423.8L472.7 424.3L473.3 425.5L472.4 426.8L473.3 427.4L475.8 426.8L477.4 426.5M457.4 412.1L460.4 412.6L462.9 412.7L466.6 411.6L468.4 410.8L466.8 409.3L464.7 408.9L462.3 409.5L459.8 409.8L457.4 409.0L455.5 410.1L458.0 410.8L455.8 411.0L457.4 412.1M56.5 392.9L60.2 395.4L63.9 396.4L66.3 394.8L70.0 394.4L67.6 392.6L62.6 392.3L56.5 392.9M65.1 392.1L71.2 393.0L76.2 392.3L72.5 391.7L65.1 392.1M106.2 403.4L108.7 403.6L113.0 403.4L111.1 401.5L113.0 399.7L117.9 397.8L124.0 396.6L127.7 396.0L124.0 397.2L117.9 398.7L114.2 400.9L110.5 402.4L106.2 403.4M159.6 393.3L165.8 394.5L170.7 394.2L169.5 392.9L163.3 391.1L159.6 393.3M211.2 397.8L217.3 398.7L222.3 398.1L227.2 398.2L221.0 397.2L213.7 397.2L211.2 397.8M262.2 403.4L265.2 403.4L266.5 402.9L262.8 402.8L262.2 403.4M217.3 423.9L218.8 426.1L219.2 429.2L220.4 430.5L218.6 432.9L217.7 434.1L217.3 431.7L217.3 428.6L217.1 426.1L217.3 423.9M215.1 439.7L216.7 438.7L218.9 439.1L221.6 437.5L220.2 436.6L217.3 434.9L216.7 437.2L215.3 437.6L215.1 439.7M202.9 452.2L204.5 452.0L205.1 450.1L206.3 449.2L208.4 449.2L209.7 449.5L211.2 448.2L213.4 448.0L214.9 447.4L215.9 446.4L216.1 443.6L217.1 442.1L216.5 439.9L214.9 440.8L214.6 442.8L213.0 444.7L211.2 444.9L210.6 446.2L209.7 446.9L206.3 447.1L203.8 448.4L202.6 449.5L202.2 450.5L202.9 452.2M190.6 462.4L191.3 463.7L192.2 461.8L192.5 460.0L191.6 459.9L190.6 462.4M176.5 467.4L177.6 468.4L179.0 467.1L178.7 466.1L177.1 466.3L176.5 467.4M190.7 471.1L190.9 468.0L192.8 468.0L193.0 470.4L192.2 472.9L195.0 473.8L195.2 475.0L193.4 473.9L191.3 473.8L190.7 472.5L190.7 471.1M192.8 482.1L194.6 480.2L197.1 478.7L198.3 480.5L197.9 483.0L196.8 483.4L195.2 482.8L194.3 481.4L192.8 482.1M192.8 477.8L194.0 476.5L196.5 475.4L197.1 477.2L196.2 478.4L194.6 479.1L193.4 478.7L192.8 477.8M186.9 480.4L189.7 477.8L189.4 476.8L186.9 480.4M176.8 488.9L178.1 488.7L179.7 487.7L181.7 486.8L183.6 485.1L185.4 483.1L186.7 482.1L188.5 484.0L187.9 485.5L187.6 487.7L188.9 489.5L187.4 490.8L186.0 493.0L185.8 495.1L183.6 495.8L181.7 494.7L180.1 494.7L178.3 494.2L177.1 491.4L176.8 488.9M160.0 483.9L162.7 484.4L164.6 486.3L166.4 488.0L168.6 489.5L170.3 491.4L171.3 493.5L173.1 494.4L172.9 497.9L171.3 497.8L168.8 496.0L167.0 494.1L165.2 491.1L164.1 488.7L162.1 486.8L160.0 483.9M172.3 499.1L174.1 498.1L176.2 498.9L179.0 498.6L181.4 499.4L183.6 500.3L183.3 501.3L179.9 501.0L176.2 500.3L173.5 499.9L172.3 499.1M184.2 500.8L186.3 501.2L189.1 501.1L191.6 501.2L194.0 501.0L194.0 501.6L190.3 502.4L188.5 501.8L185.4 501.8L184.2 500.8M194.6 503.4L196.5 501.8L199.2 501.1L198.3 502.2L195.9 503.4L194.6 503.4M189.7 497.5L189.7 494.9L188.9 494.1L190.1 491.0L190.6 489.6L193.8 489.5L196.5 488.8L195.9 490.3L191.6 490.3L190.5 491.9L192.2 491.9L194.4 491.6L192.4 493.1L193.4 494.7L193.8 496.5L192.3 496.5L191.6 494.1L190.7 494.3L190.8 497.5L189.7 497.5M199.5 490.1L200.2 488.3L201.0 489.5L200.4 491.7L199.5 490.1M203.8 491.7L205.7 491.2L207.5 491.7L208.8 494.8L211.2 493.0L213.7 493.5L216.1 493.9L220.4 495.4L222.3 497.3L224.5 498.3L223.7 499.4L225.3 501.6L228.0 503.4L224.7 503.2L222.3 500.8L219.8 500.2L218.6 502.1L216.1 501.9L213.7 500.7L212.4 501.1L213.4 499.4L212.4 497.5L209.4 496.2L206.3 495.7L205.1 494.2L207.5 493.5L205.3 493.5L203.8 491.7M225.3 497.6L227.8 497.5L229.6 495.9L229.9 496.9L228.4 498.4L225.9 498.5L225.3 497.6M141.0 478.9L142.7 480.3L143.4 482.1L142.4 483.1L141.2 483.4L141.0 480.9L141.0 478.9M103.5 505.5L104.9 509.8L103.8 512.3L102.5 516.0L101.0 521.3L98.5 522.1L96.8 520.3L96.2 517.8L97.4 515.4L97.0 512.3L98.2 510.4L100.7 509.2L102.5 507.1L103.5 505.5M220.7 540.8L222.9 541.3L225.0 541.1L225.0 543.0L223.5 544.3L222.3 544.3L221.3 542.8L220.7 540.8M255.0 533.2L257.0 534.7L258.5 536.0L260.3 537.3L262.2 537.1L260.9 539.1L260.1 540.6L258.1 541.9L257.7 540.6L256.4 539.2L257.5 537.5L257.2 535.7L255.0 533.2M255.0 540.7L256.9 541.6L255.4 543.7L253.3 545.3L252.7 547.2L250.5 548.1L248.7 547.6L247.4 547.0L249.5 545.1L252.3 543.7L253.6 542.2L255.0 540.7M244.4 515.5L247.4 517.2L248.0 518.2L245.6 517.0L244.4 515.5M380.6 463.8L383.1 462.4L386.2 462.3L389.8 464.0L392.9 465.3L393.9 465.9L389.8 466.3L390.5 465.4L388.6 464.3L385.6 463.7L383.7 462.9L381.9 463.7L380.6 463.8M393.7 467.9L395.4 466.3L399.1 466.4L401.0 467.9L399.1 468.2L397.1 469.0L396.0 468.2L393.7 467.9M388.9 468.2L390.5 468.0L391.4 468.6L389.8 468.8L388.9 468.2M402.5 468.1L404.3 468.1L404.1 468.6L402.5 468.6L402.5 468.1M412.2 432.2L413.2 430.5L415.0 428.0L416.7 427.4L416.2 429.2L418.7 429.8L419.9 431.1L419.9 433.3L416.9 433.0L415.6 432.3L412.2 432.2M327.5 428.4L330.3 428.9L333.4 431.1L331.5 430.8L329.1 429.5L327.5 428.4M386.8 400.1L391.1 401.2L396.6 402.6L400.9 404.2L402.7 406.1L408.9 408.3L408.9 409.5L405.2 410.1L406.4 412.6L404.0 413.8L400.9 413.5L397.2 412.5L393.5 411.4L389.2 411.3L389.8 410.1L394.1 410.1L394.8 407.7L396.0 407.1L390.5 404.9L388.0 404.6L384.3 404.6L380.0 404.4L375.7 403.4L374.5 401.5L379.4 399.9L386.8 400.1M374.5 396.9L380.6 396.7L386.8 397.0L389.2 396.0L391.7 394.2L396.6 392.9L404.0 391.3L408.9 389.4L399.1 388.6L389.2 388.6L379.4 389.6L373.3 390.5L377.0 391.9L379.4 393.5L376.3 394.5L378.2 395.4L374.5 396.9M372.0 397.5L377.0 397.8L384.3 399.1L386.8 398.5L384.3 397.5L377.0 396.7L372.0 397.5M368.4 392.3L374.5 393.2L377.6 392.9L373.3 391.1L368.4 392.3M341.4 403.4L343.8 405.1L349.9 405.8L356.1 406.3L359.8 405.2L361.0 404.4L356.1 401.2L352.4 400.7L347.5 401.2L340.7 400.9L339.5 402.1L341.4 403.4M331.5 402.1L334.0 403.1L338.3 402.8L341.4 400.3L338.9 399.3L332.8 399.4L331.5 402.1M341.4 397.2L345.0 398.7L349.9 398.6L354.9 398.2L354.9 397.0L349.9 396.6L341.4 397.2M359.8 400.9L364.7 402.8L366.5 401.2L363.4 399.9L359.8 400.9M367.7 401.9L370.8 402.1L373.9 400.9L373.3 399.7L368.4 399.7L367.7 401.9M378.2 409.9L380.6 410.1L385.6 412.0L383.1 413.5L379.4 412.4L378.2 409.9M357.3 396.6L362.2 398.5L365.9 397.8L364.7 396.5L359.8 396.0L357.3 396.6M293.5 467.4L294.7 466.6L293.6 465.9L293.5 467.4M295.3 420.2L297.8 420.0L297.8 419.1L295.3 420.2M53.1 442.5L54.8 442.5L54.9 440.4L53.2 440.3L53.1 442.5M53.7 439.7L54.5 439.6L54.5 437.8L53.7 438.5L53.7 439.7M58.3 444.0L62.0 443.7L61.7 445.5L58.3 444.5L58.3 444.0M72.0 447.2L75.2 447.4L73.1 447.7L72.0 447.2M82.8 447.9L85.4 446.9L84.5 447.9L82.8 447.9M108.6 475.4L109.8 475.2L109.1 475.6L108.6 475.4M410.1 554.5L413.8 554.0L413.2 555.0L410.1 554.5M398.4 555.7L400.9 555.6L401.5 556.6L404.8 558.1L402.7 558.7L399.1 558.4L396.6 557.2L398.4 555.7M438.3 557.2L440.8 557.8L439.6 557.4L438.3 557.2M127.7 551.3L129.3 551.3L128.7 551.8L127.7 551.3M100.7 391.7L106.8 392.3L114.2 391.7L119.1 391.1L113.0 390.5L104.4 391.1L100.7 391.7M276.3 425.8L278.7 425.2M267.7 427.0L269.5 426.8M254.8 425.8L256.0 425.5M102.5 405.8L104.1 405.5L103.8 406.1L102.5 405.8M334.0 397.2L338.9 397.5L343.2 396.6L341.4 395.6L336.4 396.0L334.0 397.2M347.5 395.4L350.6 395.8L349.9 394.5L346.3 394.3L347.5 395.4M356.1 395.0L362.2 395.0L363.4 393.8L358.5 393.2L355.5 394.0L356.1 395.0M364.7 395.0L369.0 395.0L370.2 394.2L366.5 393.5L364.7 395.0M366.5 398.8L370.2 398.8L370.0 397.8L367.1 397.8L366.5 398.8M362.8 406.2L367.1 406.5L367.7 405.2L365.3 404.7L362.8 405.6L362.8 406.2M386.2 401.2L391.1 401.4L391.7 400.3L388.0 399.9L386.2 401.2M389.8 408.1L392.3 408.1L392.3 406.8L389.8 407.1L389.8 408.1M383.1 414.2L384.9 413.6L384.3 413.2L382.5 413.5L383.1 414.2M384.6 425.8L385.8 425.5L385.2 425.0L384.6 425.8M405.8 429.5L408.9 430.3L409.2 430.0L405.8 429.5M406.2 433.4L408.6 434.1L408.9 433.5L406.2 433.4M409.9 434.6L411.3 434.5L410.7 432.9L409.9 434.6M356.1 400.9L361.0 400.9L361.6 398.2L357.9 397.5L356.1 400.9M367.1 391.9L372.0 392.1L372.0 390.8L368.4 390.8L367.1 391.9M222.3 436.0L225.3 434.8M227.2 433.9L229.6 432.7M231.5 430.7L233.9 429.0M199.8 458.5L200.5 457.8M156.8 476.4L157.2 474.3M464.7 456.0L466.0 456.3M467.8 455.7L468.4 454.8M290.8 464.4L291.4 464.2M292.6 465.2L293.3 465.3M248.0 509.8L248.7 511.1M261.5 512.3L262.3 512.9M239.4 502.4L241.3 503.4M238.2 500.6L240.4 501.8M233.3 498.1L234.5 499.1M410.1 472.9L410.1 471.7M409.5 478.0L410.1 477.6M110.9 516.6L111.5 516.8M113.5 515.6L113.8 515.9M96.2 505.1L96.4 505.5M54.5 490.5L54.7 490.8M53.7 486.4L53.8 486.7M215.5 500.6L216.1 501.0M477.4 414.5L476.2 414.2M483.4 416.7L483.5 416.2M481.3 418.1L481.1 417.9M477.0 419.1L476.4 419.7M103.2 444.6L105.6 445.5L109.3 445.2L109.1 442.8L108.1 440.9L107.5 439.1L105.6 436.0L108.1 435.0L107.5 433.2L103.8 433.5L100.7 435.6L101.3 437.8L103.8 440.9L102.9 443.4L103.2 444.6M114.8 436.6L116.7 437.2L118.5 436.0L117.9 433.8L116.1 433.9L114.8 436.6M133.2 434.8L136.3 433.3L140.0 433.5L136.3 433.8L133.2 434.8M170.7 427.3L173.1 426.1L176.2 424.3L177.8 422.2L176.8 422.5L175.0 424.9L172.5 426.1L170.7 427.3M82.3 490.4L84.1 490.4L85.4 491.4L84.5 493.5L82.9 494.1L81.9 492.6L82.3 490.4M79.0 495.1L79.5 496.9L80.4 499.4L81.1 501.5L80.1 499.4L79.0 496.9L79.0 495.1M84.7 502.6L85.6 504.9L86.0 508.0L85.4 506.1L84.7 502.6M372.0 433.2L375.1 431.7L378.2 430.8L380.6 431.9L381.3 433.4L378.8 433.5L377.0 432.9L374.5 433.3L372.0 433.2M377.2 439.1L379.0 438.5L379.4 436.0L380.6 434.4L378.8 434.5L377.2 436.6L377.2 439.1M381.3 434.1L384.9 434.1L386.8 435.7L384.7 437.6L383.7 437.5L382.5 436.0L381.3 434.1M382.6 439.3L385.6 439.6L388.0 438.1L386.2 438.3L382.6 439.3M387.1 437.5L390.5 437.5L391.3 436.5L389.2 436.6L387.1 437.5M332.8 410.1L336.4 410.8L340.1 409.3L337.7 408.3L334.0 409.2L332.8 410.1M341.4 415.7L345.0 415.7L348.7 413.8L346.3 414.1L342.6 414.7L341.4 415.7M363.4 428.6L365.9 428.6L365.3 425.5L363.4 424.9L363.4 428.6M80.4 416.9L82.9 416.5L82.9 415.1L80.4 415.3L80.4 416.9M85.4 415.7L87.2 415.1L86.0 413.6L85.4 415.7M399.1 509.7L400.3 510.9L399.7 509.9L399.1 509.7"/>
</g>
<rect x="42.85" y="380.5" width="441.85" height="220.7" fill="none" stroke="#333" stroke-width="0.8"/>
<clipPath id="c2"><rect x="43" y="659" width="442" height="220.5"/></clipPath>
<g clip-path="url(#c2)" shape-rendering="geometricPrecision">
<path fill="#3C64E6" d="M43.0 659.0L485.0 659.0L485.0 879.5L43.0 879.5Z"/>
<path fill="#0000C8" d="M43.0 669.3C46.7 669.2 57.2 669.2 65.0 669.0C72.8 668.8 81.7 668.4 90.0 668.0C98.3 667.6 106.7 667.1 115.0 666.8C123.3 666.5 132.5 666.2 140.0 666.0C147.5 665.8 154.2 665.7 160.0 665.6C165.8 665.5 168.4 665.5 175.0 665.6C181.6 665.7 192.4 665.8 199.8 666.0C207.2 666.2 213.6 666.5 219.7 666.8C225.8 667.1 231.3 667.6 236.3 668.0C241.3 668.4 245.7 668.9 249.6 669.3C253.5 669.7 253.6 670.2 259.5 670.6C265.4 671.0 276.5 671.6 284.9 671.8C293.3 672.0 302.3 672.1 309.8 672.0C317.3 671.9 325.2 671.0 330.0 671.2C334.8 671.4 335.5 672.6 338.3 673.3C341.1 674.0 343.8 674.6 346.6 675.4C349.4 676.2 352.1 677.1 354.9 678.1C357.7 679.1 360.4 680.6 363.2 681.6C366.0 682.6 368.7 683.8 371.5 684.4C374.3 685.0 377.0 685.1 379.8 685.3C382.6 685.4 385.3 685.4 388.1 685.3C390.9 685.1 393.6 684.8 396.4 684.4C399.2 684.0 402.4 683.7 404.7 683.0C407.0 682.3 408.8 681.2 410.2 680.2C411.6 679.2 411.6 677.7 413.0 676.7C414.4 675.7 416.2 674.8 418.5 674.0C420.8 673.2 423.3 672.4 426.8 671.9C430.3 671.4 435.3 671.2 439.7 670.9C444.1 670.6 448.0 670.4 453.0 670.1C458.0 669.8 464.3 669.4 469.6 669.0C474.9 668.6 482.4 668.2 485.0 668.0L485.0 659.0 L43.0 659.0 Z"/>
<path fill="#9370DB" d="M222.0 660.5C225.0 660.7 233.7 661.2 240.0 661.8C246.3 662.4 251.2 663.7 260.0 664.3C268.8 664.9 282.0 665.0 293.0 665.3C304.0 665.6 314.8 665.8 326.0 666.0C337.2 666.2 348.5 666.4 360.0 666.5C371.5 666.6 385.0 666.5 395.0 666.4C405.0 666.2 411.7 666.0 420.0 665.6C428.3 665.2 436.7 664.7 445.0 664.3C453.3 663.9 463.3 663.3 470.0 663.0C476.7 662.7 482.5 662.4 485.0 662.3L485 659 L222 659Z"/>
<path fill="#789BF2" d="M43.0 674.6C45.3 674.7 51.6 675.0 56.6 675.0C61.6 675.0 67.7 674.9 73.2 674.6C78.7 674.3 84.3 673.8 89.8 673.4C95.3 673.0 100.9 672.6 106.4 672.3C111.9 672.0 117.5 671.9 123.0 671.8C128.5 671.7 133.4 671.7 139.6 671.8C145.8 671.9 155.5 672.3 160.0 672.3C164.5 672.3 162.7 672.1 166.6 671.8C170.5 671.5 177.7 670.9 183.2 670.6C188.7 670.3 194.3 670.1 199.8 670.1C205.3 670.1 210.9 670.2 216.4 670.6C221.9 671.0 227.5 671.6 233.0 672.3C238.5 673.0 244.6 673.8 249.6 674.6C254.6 675.4 259.5 676.5 262.9 677.2C266.3 677.9 267.2 678.5 270.0 678.8C272.8 679.1 276.6 679.2 279.9 678.9C283.2 678.6 286.3 677.7 289.9 677.2C293.5 676.8 297.6 676.5 301.5 676.2C305.4 675.9 309.0 675.6 313.1 675.6C317.2 675.6 322.2 675.7 326.4 676.2C330.6 676.7 334.9 677.9 338.3 678.8C341.7 679.7 343.8 680.8 346.6 681.6C349.4 682.4 352.4 683.0 354.9 683.7C357.4 684.4 359.7 684.9 361.8 685.7C363.9 686.5 365.7 687.6 367.3 688.5C368.9 689.4 369.9 690.7 371.5 691.3C373.1 691.9 374.7 691.9 377.0 692.2C379.3 692.5 382.0 692.9 385.3 693.3C388.6 693.7 392.8 694.1 396.6 694.5C400.4 694.9 404.6 695.6 408.2 695.8C411.8 696.0 415.1 695.8 418.1 695.5C421.1 695.2 423.3 694.8 426.4 694.2C429.4 693.6 433.1 692.5 436.4 691.7C439.7 690.9 443.0 690.0 446.3 689.2C449.6 688.4 453.2 687.7 456.3 686.7C459.4 685.7 462.4 684.6 464.6 683.4C466.8 682.1 468.5 680.6 469.6 679.2C470.7 677.8 470.1 676.2 471.2 675.1C472.3 674.0 473.9 673.2 476.2 672.6C478.5 672.0 483.5 671.5 485.0 671.3L485.0 814.8C483.8 814.7 481.0 814.3 477.9 814.0C474.8 813.7 470.4 813.3 466.3 813.0C462.2 812.7 457.4 812.3 453.0 812.3C448.6 812.3 443.3 812.5 439.7 813.0C436.1 813.5 433.5 814.2 431.4 815.1C429.3 816.0 428.7 817.1 427.3 818.4C425.9 819.6 425.2 821.7 423.1 822.6C421.0 823.5 418.1 823.8 414.8 823.9C411.5 824.0 406.8 823.8 403.2 823.4C399.6 823.0 395.7 822.8 393.2 821.8C390.7 820.8 389.4 819.1 388.3 817.6C387.2 816.1 388.0 813.3 386.6 812.6C385.2 811.9 382.3 813.2 380.0 813.5C377.7 813.8 376.3 813.9 372.9 814.3C369.5 814.7 364.6 815.7 359.6 816.0C354.6 816.3 348.5 816.3 343.0 816.3C337.5 816.3 331.9 816.1 326.4 816.0C320.9 815.9 315.3 815.6 309.8 815.6C304.3 815.6 298.2 815.9 293.2 816.3C288.2 816.7 283.8 817.5 279.9 818.0C276.0 818.5 273.0 819.4 270.0 819.6C267.0 819.8 265.4 819.5 262.0 819.3C258.6 819.1 254.4 818.4 249.6 818.2C244.8 818.0 238.5 818.2 233.0 818.0C227.5 817.8 221.9 817.2 216.4 816.8C210.9 816.4 205.3 815.7 199.8 815.6C194.3 815.5 188.7 815.9 183.2 816.3C177.7 816.7 170.5 817.6 166.6 818.0C162.7 818.4 163.4 818.3 160.0 818.5C156.6 818.7 150.7 819.0 146.2 819.3C141.7 819.6 137.7 819.9 133.0 820.1C128.3 820.3 122.2 820.3 118.0 820.6C113.8 820.9 109.9 820.8 108.0 821.8C106.1 822.8 108.1 825.2 106.4 826.7C104.8 828.2 101.1 830.0 98.1 830.9C95.0 831.8 91.4 832.5 88.1 832.2C84.8 831.9 80.3 830.5 78.2 829.2C76.1 827.9 76.2 826.1 75.7 824.3C75.2 822.5 76.7 819.6 74.9 818.4C73.1 817.1 68.5 817.3 64.9 816.8C61.3 816.3 56.9 815.9 53.3 815.6C49.6 815.3 44.7 815.2 43.0 815.1Z"/>
<path fill="#789BF2" d="M436.4 683.8 a3.8 2.9 0 1 0 7.6 0a3.8 2.9 0 1 0 -7.6 0Z"/>
<path fill="#3C64E6" d="M252.4 705.7C252.4 705.1 259.5 704.3 263.2 703.6C266.9 702.9 270.9 702.4 274.8 701.6C278.7 700.9 282.2 699.8 286.4 699.1C290.5 698.4 295.8 697.7 299.7 697.4C303.6 697.1 306.6 697.0 309.7 697.4C312.8 697.8 315.6 698.6 318.0 699.9C320.4 701.1 322.4 703.4 323.8 704.9C325.2 706.4 326.6 707.7 326.3 708.6C326.0 709.5 323.7 709.9 322.0 710.3C320.3 710.6 319.5 710.6 316.3 710.7C313.1 710.9 307.4 711.2 303.0 711.2C298.6 711.2 294.2 711.1 289.8 710.7C285.4 710.4 280.9 709.7 276.5 709.1C272.1 708.5 267.2 708.0 263.2 707.4C259.2 706.8 252.4 706.3 252.4 705.7Z"/>
<path fill="#B0E0E6" d="M43.0 693.3C44.2 693.0 47.7 692.5 50.0 691.7C52.3 690.9 54.1 689.6 56.6 688.4C59.1 687.1 62.1 685.3 64.9 684.2C67.7 683.1 70.4 682.5 73.2 681.7C76.0 680.9 79.3 679.8 81.5 679.2C83.7 678.7 84.3 678.4 86.5 678.4C88.7 678.4 91.5 678.7 94.8 679.2C98.1 679.8 103.1 681.0 106.4 681.7C109.7 682.4 111.4 683.1 114.7 683.4C118.0 683.7 122.2 683.7 126.3 683.4C130.4 683.1 135.2 682.2 139.6 681.7C144.0 681.2 149.5 681.0 152.9 680.6C156.3 680.2 157.2 679.8 160.0 679.2C162.8 678.6 166.7 677.8 170.0 677.2C173.3 676.7 176.4 676.2 180.0 675.9C183.6 675.6 187.4 675.6 191.5 675.6C195.6 675.6 200.7 675.7 204.8 675.9C209.0 676.1 212.5 676.3 216.4 676.7C220.3 677.1 224.4 677.8 228.0 678.4C231.6 679.0 234.7 679.6 238.0 680.6C241.3 681.6 247.1 682.8 247.9 684.2C248.7 685.6 244.9 687.5 243.0 689.2C241.1 690.9 238.8 692.4 236.3 694.2C233.8 696.0 230.2 698.2 228.0 700.0C225.8 701.8 223.9 703.3 223.0 705.0C222.1 706.7 222.2 708.4 222.5 710.0C222.8 711.6 223.8 713.2 225.0 714.5C226.2 715.8 227.8 716.7 230.0 717.5C232.2 718.3 234.8 719.0 238.0 719.5C241.2 720.0 245.3 720.5 249.0 720.5C252.7 720.5 256.5 719.8 260.0 719.5C263.5 719.2 267.0 718.8 270.0 718.8C273.0 718.8 275.5 719.3 278.0 719.8C280.5 720.2 282.4 721.4 284.9 721.5C287.4 721.6 290.1 721.4 293.2 720.7C296.2 720.0 299.6 718.4 303.2 717.4C306.8 716.4 310.9 715.6 314.8 714.6C318.7 713.6 322.8 712.5 326.4 711.6C330.0 710.7 333.5 709.9 336.3 709.1C339.1 708.3 341.6 707.5 343.0 706.6C344.4 705.7 345.4 704.4 344.6 703.5C343.8 702.6 340.5 701.8 338.0 701.0C335.5 700.2 332.7 699.3 329.7 698.5C326.7 697.7 322.8 696.7 319.8 696.0C316.8 695.3 314.6 694.8 311.5 694.2C308.4 693.6 304.6 693.0 301.5 692.3C298.4 691.6 295.0 690.9 293.2 690.0C291.4 689.1 290.1 687.9 290.7 686.7C291.2 685.5 293.9 683.7 296.5 682.6C299.1 681.5 302.9 680.7 306.5 680.1C310.1 679.5 314.2 679.1 318.1 679.2C322.0 679.3 326.3 680.1 329.7 680.6C333.1 681.1 335.5 681.7 338.3 682.3C341.1 682.9 343.8 683.7 346.6 684.4C349.4 685.1 352.4 685.9 354.9 686.7C357.4 687.5 359.8 688.2 361.8 689.2C363.8 690.2 365.7 691.3 366.7 692.7C367.7 694.1 367.9 696.0 368.0 697.5C368.1 699.0 367.0 700.5 367.6 701.6C368.2 702.8 369.4 703.6 371.5 704.4C373.6 705.2 376.9 705.9 380.0 706.6C383.1 707.3 386.0 708.1 389.9 708.6C393.8 709.1 399.3 709.7 403.2 709.7C407.1 709.7 410.4 709.2 413.2 708.6C416.0 708.0 417.6 707.1 419.8 706.2C422.0 705.3 423.9 704.1 426.4 703.1C428.9 702.1 431.6 701.0 434.7 700.0C437.8 699.0 441.1 698.0 444.7 697.2C448.3 696.4 452.1 695.6 456.3 695.0C460.5 694.4 464.8 694.1 469.6 693.8C474.4 693.5 482.4 693.4 485.0 693.3L485.0 810.5C482.4 810.3 473.8 809.8 469.6 809.4C465.4 809.0 462.9 808.7 459.6 808.4C456.3 808.1 453.0 807.9 449.7 807.7C446.4 807.5 443.0 807.4 439.7 807.2C436.4 807.0 433.1 806.9 429.8 806.7C426.5 806.5 422.6 806.4 419.8 806.1C417.0 805.8 415.4 805.2 413.2 805.1C411.0 805.0 408.7 805.7 406.5 805.6C404.3 805.5 402.7 805.1 399.9 804.7C397.1 804.3 393.2 803.6 389.9 803.1C386.6 802.6 383.3 802.5 380.0 802.0C376.7 801.5 373.4 800.5 370.0 800.0C366.6 799.5 363.6 799.3 359.6 799.0C355.7 798.7 350.7 798.5 346.3 798.4C341.9 798.3 336.9 798.2 333.0 798.4C329.1 798.6 325.9 799.2 323.1 799.8C320.3 800.4 318.6 801.4 316.4 802.2C314.2 803.0 312.6 803.9 309.8 804.4C307.0 804.9 303.1 804.8 299.8 805.1C296.5 805.4 293.2 805.6 289.9 806.1C286.6 806.6 283.2 807.3 279.9 808.0C276.6 808.7 273.3 809.9 270.0 810.5C266.7 811.1 263.4 811.7 260.0 811.7C256.6 811.7 254.1 810.9 249.6 810.6C245.1 810.3 238.5 809.9 233.0 809.7C227.5 809.5 221.9 809.2 216.4 809.3C210.9 809.3 205.3 809.7 199.8 810.0C194.3 810.3 188.7 810.9 183.2 811.3C177.7 811.7 170.5 812.1 166.6 812.5C162.7 812.9 163.4 813.2 160.0 813.6C156.6 814.0 150.7 814.9 146.2 815.1C141.7 815.4 137.4 815.3 133.0 815.1C128.6 814.9 124.1 814.5 119.7 814.0C115.3 813.5 110.0 812.4 106.4 811.8C102.8 811.2 101.1 810.8 98.0 810.4C94.9 810.0 92.1 809.4 88.0 809.5C83.9 809.6 78.4 810.5 73.2 810.8C68.0 811.0 61.6 811.0 56.6 811.0C51.6 811.0 45.3 811.0 43.0 811.0Z"/>
<path fill="#789BF2" d="M119.7 696.7C120.0 695.4 123.5 694.1 126.3 693.3C129.1 692.5 133.0 691.7 136.3 691.7C139.6 691.7 143.2 692.3 146.2 693.3C149.2 694.3 152.8 696.1 154.5 697.5C156.2 698.9 156.8 700.4 156.2 701.6C155.6 702.9 153.7 704.1 151.2 705.0C148.7 705.9 144.2 707.1 141.2 707.1C138.2 707.1 135.8 706.0 133.0 705.0C130.2 704.0 126.8 702.3 124.6 700.9C122.4 699.5 119.4 698.0 119.7 696.7Z"/>
<path fill="#789BF2" d="M122.0 713.0 a5.0 1.0 0 1 0 10.0 0a5.0 1.0 0 1 0 -10.0 0Z"/>
<path fill="#20B2AA" d="M43.0 705.0C44.2 704.9 47.2 704.5 50.0 704.1C52.8 703.7 56.7 703.3 60.0 702.5C63.3 701.7 67.0 700.6 70.0 699.5C73.0 698.4 75.7 696.9 78.2 695.8C80.7 694.7 82.6 693.5 84.8 692.8C87.0 692.1 89.3 691.6 91.5 691.4C93.7 691.2 96.6 691.1 98.1 691.7C99.6 692.3 100.4 693.6 100.6 695.0C100.8 696.4 99.3 698.2 99.4 700.0C99.5 701.8 100.0 703.8 101.0 705.5C102.0 707.2 103.9 708.6 105.6 710.0C107.3 711.4 108.9 712.8 111.0 714.0C113.1 715.2 115.4 716.4 118.0 717.4C120.6 718.4 124.1 719.5 126.6 720.2C129.1 720.9 131.2 721.1 133.2 721.5C135.1 721.9 137.2 722.1 138.3 722.8C139.4 723.5 139.3 724.6 139.7 725.7C140.1 726.8 140.1 728.4 140.9 729.5C141.8 730.6 143.3 731.7 144.8 732.5C146.3 733.3 148.3 734.2 150.0 734.4C151.7 734.6 153.5 734.0 155.0 733.5C156.5 733.0 157.9 732.5 159.1 731.5C160.3 730.5 161.8 729.0 162.4 727.4C163.0 725.8 163.1 723.4 162.8 721.6C162.5 719.8 161.2 718.1 160.8 716.6C160.4 715.1 159.9 713.8 160.6 712.8C161.3 711.8 162.8 710.6 164.9 710.6C167.0 710.6 170.4 712.0 173.2 712.5C176.0 713.0 179.2 713.8 181.5 713.5C183.8 713.2 186.0 712.3 187.3 711.0C188.6 709.7 189.7 707.5 189.4 705.8C189.1 704.1 187.6 702.0 185.7 700.8C183.8 699.5 180.8 698.8 178.2 698.3C175.6 697.8 172.7 698.0 169.9 697.5C167.1 697.0 163.4 696.1 161.6 695.0C159.8 693.9 158.8 692.3 159.1 690.9C159.4 689.5 161.2 688.0 163.3 686.7C165.4 685.5 168.3 684.4 171.6 683.4C174.9 682.4 179.0 681.4 183.2 680.9C187.3 680.4 192.9 680.0 196.5 680.1C200.1 680.2 201.5 681.6 204.8 681.7C208.1 681.8 212.5 681.0 216.4 680.9C220.3 680.8 225.0 680.5 228.0 680.9C231.0 681.3 233.3 682.4 234.6 683.4C235.8 684.4 235.9 685.3 235.5 686.7C235.1 688.1 233.4 690.2 232.2 691.7C230.9 693.2 229.8 694.5 228.0 695.8C226.2 697.0 223.3 698.1 221.4 699.2C219.5 700.3 217.5 701.2 216.4 702.5C215.3 703.8 215.8 705.4 215.0 707.0C214.2 708.6 212.8 710.5 211.4 712.0C210.0 713.5 207.8 714.9 206.4 716.3C205.0 717.7 203.8 719.1 203.0 720.5C202.2 721.9 200.7 723.9 201.5 724.9C202.3 725.9 205.6 726.3 208.1 726.6C210.6 726.9 213.4 727.0 216.4 726.9C219.4 726.8 223.0 726.0 226.3 725.7C229.6 725.4 232.4 725.1 236.3 724.9C240.2 724.7 245.7 724.7 249.6 724.6C253.5 724.5 257.4 724.0 260.0 724.3C262.6 724.6 263.5 725.4 265.0 726.6C266.5 727.8 267.7 729.7 269.1 731.5C270.5 733.3 271.8 735.5 273.3 737.3C274.8 739.1 276.4 741.6 278.3 742.3C280.2 743.0 282.7 742.3 284.9 741.5C287.1 740.7 289.3 739.0 291.5 737.3C293.7 735.6 296.0 733.3 298.2 731.5C300.4 729.7 302.6 728.0 304.8 726.6C307.0 725.2 309.0 724.4 311.5 723.2C314.0 722.0 316.8 720.8 319.8 719.6C322.8 718.5 326.4 717.4 329.7 716.3C333.0 715.2 336.4 713.9 339.7 712.9C343.0 711.9 346.3 710.8 349.6 710.0C352.9 709.2 356.3 708.5 359.6 708.3C362.9 708.1 366.1 708.2 369.5 708.6C372.9 709.0 376.6 710.0 380.0 710.6C383.4 711.2 386.0 711.9 389.9 712.4C393.8 712.9 399.3 713.6 403.2 713.8C407.1 713.9 410.4 713.8 413.2 713.3C416.0 712.8 417.6 711.8 419.8 710.8C422.0 709.8 423.9 708.4 426.4 707.1C428.9 705.9 431.6 704.5 434.7 703.3C437.8 702.1 441.1 701.0 444.7 700.0C448.3 699.0 452.1 698.1 456.3 697.5C460.5 696.9 464.8 696.5 469.6 696.2C474.4 695.9 482.4 695.9 485.0 695.8L485.0 808.4C483.8 808.3 480.5 808.2 477.9 808.0C475.3 807.8 472.7 807.5 469.6 807.2C466.6 806.9 462.9 806.7 459.6 806.4C456.3 806.1 453.0 805.9 449.7 805.6C446.4 805.3 443.0 805.0 439.7 804.7C436.4 804.4 433.1 804.2 429.8 803.9C426.5 803.6 422.6 803.2 419.8 802.7C417.0 802.2 415.4 801.3 413.2 801.1C411.0 800.9 408.7 801.7 406.5 801.7C404.3 801.7 402.7 801.5 399.9 801.1C397.1 800.7 393.2 800.1 389.9 799.4C386.6 798.7 383.4 797.8 380.0 797.0C376.6 796.2 372.9 795.3 369.5 794.6C366.1 793.9 362.9 793.3 359.6 792.8C356.3 792.3 353.5 791.7 349.6 791.5C345.7 791.3 340.7 791.5 336.3 791.5C331.9 791.5 327.5 791.6 323.1 791.8C318.7 792.0 313.7 792.2 309.8 792.8C305.9 793.3 303.1 794.2 299.8 795.1C296.5 796.0 293.2 797.1 289.9 798.1C286.6 799.1 283.2 800.3 279.9 801.4C276.6 802.5 273.0 803.9 270.0 804.7C267.0 805.6 264.3 806.2 262.0 806.5C259.7 806.8 259.4 806.6 256.2 806.6C253.0 806.6 247.4 806.5 243.0 806.4C238.6 806.3 234.1 806.1 229.7 806.1C225.3 806.1 221.4 805.9 216.4 806.1C211.4 806.3 205.3 806.7 199.8 807.2C194.3 807.7 188.7 808.4 183.2 808.9C177.7 809.4 170.5 809.7 166.6 810.0C162.7 810.3 163.4 810.5 160.0 810.7C156.6 811.0 150.7 811.4 146.2 811.5C141.7 811.6 137.4 811.6 133.0 811.5C128.6 811.4 124.1 811.1 119.7 810.7C115.3 810.3 110.3 809.7 106.4 809.0C102.5 808.3 99.5 807.2 96.4 806.5C93.4 805.8 90.9 805.0 88.1 804.9C85.3 804.8 82.3 805.3 79.8 805.7C77.3 806.1 75.4 806.9 73.2 807.4C71.0 807.9 69.4 808.4 66.6 808.7C63.8 809.0 60.5 809.0 56.6 809.0C52.7 809.0 45.3 808.8 43.0 808.7Z"/>
<path fill="#20B2AA" d="M306.1 686.7C306.5 685.7 307.8 684.2 309.8 683.4C311.8 682.6 314.8 681.8 318.1 681.7C321.4 681.6 326.1 682.1 329.7 682.6C333.3 683.1 336.6 683.9 339.7 685.0C342.8 686.1 345.8 687.8 348.0 689.2C350.2 690.6 352.5 691.9 352.9 693.3C353.3 694.7 352.1 696.6 350.5 697.5C348.9 698.4 345.9 698.8 343.0 698.8C340.1 698.8 336.3 698.1 333.0 697.5C329.7 696.9 326.4 696.0 323.1 695.0C319.8 694.0 315.7 692.7 313.1 691.7C310.5 690.7 308.5 690.0 307.3 689.2C306.1 688.4 305.7 687.7 306.1 686.7Z"/>
<path fill="#BCEE68" d="M313.9 687.5C314.2 686.7 316.0 685.5 318.1 685.0C320.2 684.5 323.6 684.2 326.4 684.5C329.2 684.8 332.5 685.8 334.7 686.7C336.9 687.6 339.0 688.9 339.7 690.0C340.4 691.1 340.2 692.7 338.8 693.3C337.4 693.9 334.0 694.0 331.4 693.8C328.8 693.6 325.6 692.8 323.1 692.2C320.6 691.6 317.9 690.8 316.4 690.0C314.9 689.2 313.6 688.3 313.9 687.5Z"/>
<path fill="#BCEE68" d="M177.9 690.9C177.5 689.8 179.0 688.1 180.7 687.2C182.4 686.3 185.3 685.7 188.2 685.5C191.1 685.3 195.3 685.7 198.1 685.9C200.9 686.1 202.6 686.9 204.8 686.7C207.0 686.6 209.5 684.9 211.4 685.0C213.3 685.1 215.3 686.1 216.4 687.5C217.5 688.9 218.6 691.7 218.0 693.3C217.4 694.9 215.6 696.5 213.1 697.2C210.6 697.9 206.4 697.7 203.1 697.5C199.8 697.3 196.5 696.4 193.2 695.8C189.9 695.2 185.8 694.6 183.2 693.8C180.6 693.0 178.3 692.0 177.9 690.9Z"/>
<path fill="#BCEE68" d="M43.0 712.0C44.2 711.6 47.2 710.4 50.0 709.6C52.8 708.9 56.1 708.0 60.0 707.5C63.9 707.0 68.8 706.6 73.2 706.6C77.6 706.6 82.9 707.0 86.5 707.5C90.1 708.0 92.0 708.5 94.8 709.6C97.6 710.7 100.9 712.7 103.1 714.1C105.3 715.5 106.1 717.2 108.0 718.3C109.9 719.4 112.2 720.0 114.7 720.7C117.2 721.4 120.8 721.7 123.0 722.4C125.2 723.1 126.8 723.6 128.0 724.9C129.2 726.1 129.9 728.2 130.5 729.9C131.1 731.6 130.6 733.2 131.3 734.9C132.0 736.5 132.9 738.5 134.6 739.8C136.2 741.1 138.7 742.0 141.2 742.6C143.7 743.2 147.2 742.6 149.5 743.2C151.8 743.8 153.1 745.9 154.8 746.2C156.6 746.5 158.4 745.5 160.0 745.0C161.6 744.5 162.6 743.6 164.5 743.0C166.4 742.4 168.5 741.9 171.6 741.5C174.7 741.1 179.3 741.0 183.2 740.7C187.1 740.4 191.5 740.1 194.8 739.5C198.1 738.9 200.3 737.8 203.1 736.8C205.9 735.8 208.6 734.2 211.4 733.2C214.2 732.2 216.6 731.3 219.7 730.7C222.8 730.1 226.4 729.8 229.7 729.5C233.0 729.2 236.3 729.0 239.6 729.0C242.9 729.0 246.6 729.1 249.6 729.5C252.6 729.9 255.8 730.3 257.9 731.2C260.0 732.1 260.8 733.2 262.0 734.9C263.2 736.6 263.7 739.0 265.0 741.5C266.3 744.0 268.4 747.4 270.0 749.8C271.6 752.1 273.0 754.4 274.9 755.6C276.8 756.9 279.1 757.2 281.6 757.3C284.1 757.4 287.7 757.0 289.9 756.4C292.1 755.8 293.0 754.0 294.9 753.9C296.8 753.8 299.9 754.5 301.5 755.6C303.1 756.7 303.1 758.9 304.8 760.6C306.5 762.3 309.0 764.3 311.5 765.6C314.0 766.9 317.3 768.0 319.8 768.4C322.3 768.8 324.2 768.5 326.4 767.7C328.6 767.0 331.4 765.2 333.0 763.9C334.6 762.6 336.3 761.2 336.3 759.8C336.3 758.4 334.6 757.1 333.0 755.6C331.4 754.1 328.9 752.1 326.4 750.6C323.9 749.1 320.6 747.7 318.1 746.5C315.6 745.3 313.0 744.5 311.5 743.2C310.0 742.0 309.6 740.7 309.0 739.0C308.4 737.3 308.0 735.0 308.1 733.2C308.2 731.4 308.7 729.7 309.8 728.2C310.9 726.7 312.6 725.4 314.8 724.1C317.0 722.9 320.1 721.8 323.1 720.7C326.1 719.6 329.7 718.4 333.0 717.4C336.3 716.4 339.7 715.4 343.0 714.6C346.3 713.8 349.6 713.0 352.9 712.4C356.2 711.8 359.6 711.4 362.9 711.3C366.2 711.2 370.0 711.5 372.9 712.0C375.8 712.5 377.2 713.2 380.0 714.0C382.8 714.8 386.0 715.8 389.9 716.6C393.8 717.4 398.8 718.3 403.2 718.7C407.6 719.1 412.6 719.1 416.5 719.1C420.4 719.1 423.5 719.0 426.4 718.7C429.3 718.4 432.3 718.0 433.9 717.1C435.5 716.2 435.4 714.6 436.1 713.3C436.8 712.0 436.6 710.2 438.0 709.1C439.4 708.0 441.6 707.2 444.7 706.6C447.8 706.0 453.1 705.4 456.3 705.5C459.5 705.6 462.0 706.4 463.8 707.5C465.6 708.6 465.6 711.0 467.1 712.1C468.6 713.2 469.9 714.4 472.9 714.4C475.9 714.4 483.0 712.7 485.0 712.4L485.0 806.7C483.8 806.6 480.5 806.4 477.9 806.1C475.3 805.8 472.7 805.2 469.6 804.7C466.6 804.2 462.9 803.6 459.6 803.1C456.3 802.6 453.0 802.1 449.7 801.7C446.4 801.3 443.0 801.0 439.7 800.6C436.4 800.2 433.1 799.8 429.8 799.4C426.5 799.0 422.6 798.6 419.8 798.1C417.0 797.6 415.4 796.2 413.2 796.1C411.0 796.0 408.7 797.2 406.5 797.3C404.3 797.3 402.7 796.8 399.9 796.4C397.1 796.0 393.2 795.5 389.9 794.8C386.6 794.1 383.4 793.1 380.0 792.0C376.6 790.9 372.9 789.5 369.5 788.3C366.1 787.1 362.9 785.8 359.6 784.8C356.3 783.8 353.2 782.7 349.6 782.3C346.0 781.9 341.9 782.1 338.0 782.3C334.1 782.5 330.3 783.4 326.4 783.5C322.5 783.6 317.9 783.4 314.8 782.8C311.8 782.2 310.3 780.6 308.1 779.8C305.9 779.0 304.0 777.9 301.5 777.8C299.0 777.7 296.0 778.4 293.2 779.0C290.4 779.6 286.7 780.2 284.9 781.5C283.1 782.8 283.2 784.7 282.4 786.5C281.6 788.3 281.4 790.6 279.9 792.3C278.4 793.9 275.5 795.3 273.3 796.4C271.1 797.5 268.8 798.1 266.6 798.9C264.4 799.7 262.8 800.7 260.0 801.1C257.2 801.5 253.5 801.3 249.6 801.4C245.7 801.5 240.7 801.6 236.3 801.7C231.9 801.8 227.4 802.0 223.0 802.2C218.6 802.4 214.2 802.3 209.8 802.7C205.4 803.1 200.9 803.8 196.5 804.4C192.1 805.0 187.6 805.6 183.2 806.1C178.8 806.6 173.8 806.9 169.9 807.2C166.0 807.5 163.9 807.6 160.0 807.8C156.1 808.0 150.7 808.1 146.2 808.2C141.7 808.3 137.4 808.3 133.0 808.2C128.6 808.1 124.1 807.8 119.7 807.4C115.3 807.0 110.3 806.4 106.4 805.7C102.5 805.0 99.5 803.9 96.4 803.2C93.4 802.5 90.9 801.8 88.1 801.6C85.3 801.4 82.3 801.7 79.8 802.1C77.3 802.5 75.7 803.3 73.2 804.0C70.7 804.7 68.2 806.0 64.9 806.5C61.6 807.0 56.9 807.0 53.3 807.0C49.6 807.0 44.7 806.6 43.0 806.5Z"/>
<path fill="#9ABE32" d="M43.0 714.4C44.2 714.0 47.2 712.9 50.0 712.2C52.8 711.5 56.1 710.7 60.0 710.2C63.9 709.7 69.2 709.4 73.2 709.4C77.2 709.4 81.1 709.7 84.0 710.2C86.9 710.7 88.7 711.6 90.5 712.5C92.3 713.4 93.2 714.5 95.0 715.8C96.8 717.1 99.5 719.1 101.4 720.5C103.3 721.9 104.6 722.9 106.4 724.0C108.2 725.1 110.2 725.8 112.0 727.0C113.8 728.2 116.2 730.0 117.2 731.5C118.2 733.0 118.1 734.4 118.2 735.7C118.3 737.0 118.2 737.9 118.0 739.3C117.8 740.7 117.9 742.6 117.2 744.3C116.5 746.0 115.2 747.8 113.9 749.3C112.7 750.8 111.4 752.4 109.7 753.4C108.0 754.4 105.3 754.4 103.9 755.1C102.5 755.8 102.7 756.6 101.4 757.6C100.2 758.6 98.3 759.9 96.4 760.9C94.5 761.9 92.3 763.1 89.8 763.9C87.3 764.7 84.3 765.5 81.5 765.5C78.7 765.5 75.4 765.0 73.2 764.2C71.0 763.4 70.1 762.1 68.2 760.9C66.3 759.6 64.1 757.6 61.6 756.7C59.1 755.8 56.4 755.9 53.3 755.6C50.2 755.3 44.7 755.2 43.0 755.1Z"/>
<path fill="#9ABE32" d="M59.1 775.0C59.9 773.6 62.6 771.4 64.9 770.9C67.2 770.4 70.7 771.0 73.2 771.7C75.7 772.4 78.4 773.8 79.8 775.0C81.2 776.2 82.0 778.1 81.5 779.2C81.0 780.3 78.2 780.6 76.5 781.6C74.8 782.6 73.4 785.2 71.5 785.5C69.6 785.8 66.8 784.3 64.9 783.3C63.0 782.2 60.9 780.6 59.9 779.2C58.9 777.8 58.3 776.4 59.1 775.0Z"/>
<path fill="#9ABE32" d="M116.3 760.9C116.5 759.2 117.5 757.8 119.7 756.7C121.9 755.7 125.7 755.0 129.6 754.6C133.5 754.2 139.2 754.0 142.9 754.2C146.6 754.4 149.2 755.2 152.0 755.8C154.8 756.4 157.0 757.5 160.0 757.8C163.0 758.0 166.6 757.5 169.9 757.3C173.2 757.1 176.6 756.5 179.9 756.8C183.2 757.1 186.5 757.9 189.8 758.9C193.1 759.9 196.5 761.9 199.8 762.7C203.1 763.5 206.5 763.6 209.8 763.9C213.1 764.2 217.3 764.0 219.7 764.7C222.0 765.4 223.4 766.7 223.9 768.0C224.4 769.3 222.9 771.2 222.5 772.5C222.1 773.8 221.3 774.3 221.4 775.5C221.5 776.7 221.6 778.2 223.0 779.8C224.4 781.3 226.9 783.3 229.7 784.8C232.5 786.3 237.1 788.0 239.6 789.0C242.1 790.0 245.1 790.1 244.6 790.6C244.1 791.1 239.6 791.8 236.3 792.3C233.0 792.8 228.6 793.5 224.7 793.9C220.8 794.3 216.7 794.5 213.1 794.8C209.5 795.1 206.4 795.0 203.1 795.6C199.8 796.2 196.5 797.1 193.2 798.1C189.9 799.1 186.5 800.5 183.2 801.4C179.9 802.3 176.5 803.0 173.2 803.5C169.9 804.0 166.7 804.3 163.3 804.3C159.9 804.3 156.3 804.0 152.9 803.6C149.5 803.2 146.2 802.5 142.9 801.9C139.6 801.3 135.2 800.9 133.0 799.9C130.8 798.9 129.9 797.3 129.6 795.8C129.3 794.3 130.1 792.5 131.3 790.8C132.6 789.1 136.0 787.5 137.1 785.8C138.2 784.1 138.6 782.5 137.9 780.8C137.2 779.1 135.2 777.3 133.0 775.8C130.8 774.3 127.0 773.2 124.6 771.7C122.2 770.2 120.2 768.5 118.8 766.7C117.4 764.9 116.1 762.6 116.3 760.9Z"/>
<path fill="#9ABE32" d="M213.9 744.8C213.6 743.1 215.7 741.0 218.0 739.8C220.3 738.6 224.4 738.4 228.0 737.8C231.6 737.2 236.3 736.1 239.6 736.2C242.9 736.3 245.8 737.1 247.9 738.2C250.0 739.3 252.1 741.1 252.1 742.8C252.1 744.4 250.2 746.7 247.9 748.1C245.6 749.5 241.3 750.3 238.0 751.1C234.7 751.9 231.1 753.0 228.0 752.8C224.9 752.6 222.0 751.1 219.7 749.8C217.3 748.5 214.2 746.5 213.9 744.8Z"/>
<path fill="#9ABE32" d="M318.9 733.2C318.8 732.4 317.7 729.9 318.1 728.2C318.5 726.5 319.5 724.6 321.4 723.2C323.3 721.8 326.6 720.7 329.7 719.6C332.8 718.5 336.1 717.4 339.7 716.6C343.3 715.8 347.4 715.0 351.3 714.6C355.2 714.2 359.3 714.1 362.9 714.1C366.5 714.1 370.0 714.2 372.9 714.8C375.8 715.4 377.2 716.5 380.0 717.5C382.8 718.5 386.6 719.8 389.9 720.7C393.2 721.7 396.6 722.5 399.9 723.2C403.2 723.9 406.5 724.5 409.8 724.9C413.1 725.3 416.5 725.4 419.8 725.4C423.1 725.4 426.5 725.2 429.8 724.9C433.1 724.6 436.4 724.0 439.7 723.6C443.0 723.2 446.4 722.8 449.7 722.4C453.0 722.0 456.3 721.7 459.6 721.2C462.9 720.7 466.6 720.2 469.6 719.6C472.7 719.0 475.3 718.4 477.9 717.9C480.5 717.4 483.8 716.8 485.0 716.6L485.0 755.1C483.0 754.9 477.1 754.5 472.9 753.9C468.7 753.3 464.0 752.5 459.6 751.8C455.2 751.1 450.7 750.4 446.3 749.8C441.9 749.2 437.4 748.5 433.0 748.1C428.6 747.7 424.2 747.3 419.8 747.3C415.4 747.3 410.4 747.8 406.5 748.1C402.6 748.4 399.9 748.7 396.6 749.0C393.3 749.3 389.7 749.8 386.6 749.8C383.5 749.8 380.8 749.3 378.0 749.3C375.2 749.2 372.5 749.4 370.0 749.5C367.5 749.6 365.8 750.3 362.9 750.2C360.0 750.1 356.2 749.6 352.9 749.0C349.6 748.4 346.3 747.5 343.0 746.5C339.7 745.5 336.1 744.5 333.0 743.2C329.9 742.0 326.1 739.7 324.7 739.0Z"/>
<path fill="#F5E6BE" d="M43.0 716.6C44.7 716.2 49.6 714.7 53.3 714.1C56.9 713.5 61.0 713.0 64.9 712.9C68.8 712.8 73.5 713.0 76.5 713.3C79.5 713.6 81.3 713.9 83.2 714.9C85.1 715.9 86.2 718.1 88.1 719.1C90.0 720.1 92.6 719.7 94.8 720.7C97.0 721.7 99.5 723.4 101.4 724.9C103.3 726.4 104.9 728.1 106.4 729.9C107.9 731.7 109.4 733.8 110.5 735.7C111.6 737.6 112.7 739.7 113.0 741.5C113.3 743.3 113.0 745.1 112.2 746.5C111.4 747.9 109.8 748.8 108.0 749.8C106.2 750.8 103.3 752.1 101.4 752.8C99.5 753.5 98.3 754.1 96.4 753.9C94.5 753.7 92.0 752.2 89.8 751.5C87.6 750.8 86.0 750.1 83.2 749.8C80.4 749.5 77.6 749.8 73.2 749.8C68.8 749.8 61.6 750.1 56.6 750.1C51.6 750.1 45.3 749.6 43.0 749.5Z"/>
<path fill="#F5E6BE" d="M328.9 723.2C329.3 722.1 330.6 721.5 333.0 720.7C335.4 719.9 339.7 719.2 343.0 718.6C346.3 718.0 349.6 717.5 352.9 717.4C356.2 717.3 359.6 717.7 362.9 717.9C366.2 718.1 370.0 718.4 372.9 718.8C375.8 719.2 377.7 719.6 380.0 720.2C382.3 720.8 385.0 721.5 386.6 722.4C388.2 723.3 389.9 724.3 389.9 725.7C389.9 727.1 388.0 729.2 386.6 730.7C385.2 732.2 383.0 733.5 381.6 734.9C380.2 736.3 379.7 737.9 378.3 739.0C376.9 740.1 375.3 740.8 373.3 741.5C371.3 742.2 368.8 743.2 366.2 743.5C363.6 743.8 360.7 743.7 357.9 743.2C355.1 742.7 352.4 741.8 349.6 740.7C346.8 739.6 343.8 738.2 341.3 736.8C338.8 735.4 336.5 734.0 334.7 732.4C332.9 730.8 331.5 728.9 330.5 727.4C329.5 725.9 328.5 724.3 328.9 723.2Z"/>
<path fill="#F5E6BE" d="M404.0 735.7C404.7 735.0 405.8 732.7 408.2 731.5C410.6 730.3 414.5 729.3 418.1 728.5C421.7 727.7 425.9 727.1 429.8 726.6C433.7 726.1 437.5 725.6 441.4 725.2C445.3 724.8 449.4 724.4 453.0 724.1C456.6 723.8 459.6 723.6 462.9 723.2C466.2 722.8 470.1 722.2 472.9 721.6C475.7 721.0 477.5 720.4 479.5 719.9C481.5 719.4 484.1 718.8 485.0 718.6L485.0 749.8C483.8 749.8 481.0 749.7 477.9 749.5C474.8 749.3 470.4 748.9 466.3 748.5C462.2 748.1 457.4 747.8 453.0 747.3C448.6 746.8 444.1 746.1 439.7 745.6C435.3 745.1 430.5 744.5 426.4 744.0C422.2 743.5 418.1 743.0 414.8 742.3C411.5 741.6 407.9 740.2 406.5 739.8Z"/>
<path fill="#DEB887" d="M43.0 719.6C44.2 719.2 47.5 717.9 50.0 717.4C52.5 716.9 55.5 716.6 58.3 716.6C61.1 716.6 64.1 716.9 66.6 717.4C69.1 717.9 71.3 719.1 73.2 719.9C75.1 720.7 76.8 722.3 78.2 722.4C79.6 722.5 80.1 720.7 81.5 720.7C82.9 720.7 85.4 721.4 86.5 722.4C87.6 723.4 88.4 725.4 88.1 726.6C87.8 727.9 86.2 729.2 84.8 729.9C83.4 730.6 80.1 730.2 79.8 730.7C79.5 731.2 81.5 732.4 83.2 733.2C84.9 734.0 88.2 734.7 89.8 735.7C91.4 736.7 93.1 737.9 93.1 739.0C93.1 740.1 91.7 741.5 89.8 742.3C87.9 743.0 84.8 743.2 81.5 743.5C78.2 743.8 74.1 744.0 69.9 744.0C65.8 744.0 61.1 743.7 56.6 743.5C52.1 743.3 45.3 742.9 43.0 742.8Z"/>
<path fill="#DEB887" d="M355.8 728.5 a4.6 3.7 0 1 0 9.2 0a4.6 3.7 0 1 0 -9.2 0Z"/>
<path fill="#DEB887" d="M423.9 735.2C424.6 734.7 426.0 733.3 428.1 732.4C430.2 731.5 433.6 730.6 436.4 729.9C439.2 729.2 441.4 728.8 444.7 728.2C448.0 727.7 452.7 727.0 456.3 726.6C459.9 726.2 463.2 726.1 466.3 725.7C469.4 725.3 471.5 724.7 474.6 724.1C477.7 723.5 483.3 722.3 485.0 721.9L485.0 743.5C483.0 743.5 476.8 743.6 472.9 743.5C468.9 743.4 465.4 743.1 461.3 742.8C457.2 742.5 452.1 742.0 448.0 741.5C443.9 741.0 439.8 740.4 436.4 739.8C432.9 739.2 428.8 738.1 427.3 737.8Z"/>
<path fill="#FFE100" d="M43.0 723.2C44.2 723.1 47.7 722.7 50.0 722.4C52.3 722.1 54.7 721.9 56.6 721.6C58.5 721.3 59.7 720.6 61.6 720.7C63.5 720.8 66.3 721.7 68.2 722.4C70.1 723.1 72.0 724.1 73.2 724.9C74.5 725.7 75.6 726.6 75.7 727.4C75.8 728.2 73.9 729.1 74.0 729.9C74.1 730.7 76.3 731.4 76.5 732.4C76.7 733.4 76.3 734.8 74.9 735.7C73.5 736.6 70.7 737.3 68.2 737.8C65.7 738.3 62.9 738.4 59.9 738.5C56.9 738.6 52.8 738.4 50.0 738.2C47.2 738.0 44.2 737.4 43.0 737.3Z"/>
<path fill="#FFE100" d="M441.0 732.9C441.9 732.5 443.8 730.9 446.3 730.2C448.9 729.6 453.0 729.3 456.3 729.0C459.6 728.7 463.2 728.9 466.3 728.5C469.4 728.1 471.5 727.2 474.6 726.6C477.7 726.0 483.3 724.9 485.0 724.6L485.0 736.2C483.0 736.3 476.6 736.7 472.9 736.8C469.2 736.9 466.2 736.9 462.9 736.8C459.6 736.7 456.0 736.5 453.0 736.2C450.0 735.9 446.1 735.1 444.7 734.9Z"/>
<path fill="#FFA500" d="M43.0 725.2C44.2 725.2 47.7 725.0 50.0 724.9C52.3 724.8 54.7 724.6 56.6 724.6C58.5 724.6 60.2 724.4 61.6 724.9C63.0 725.4 64.6 726.6 64.9 727.4C65.2 728.2 64.6 729.3 63.2 729.9C61.8 730.5 58.8 730.7 56.6 730.7C54.4 730.8 52.3 730.3 50.0 730.2C47.7 730.1 44.2 730.0 43.0 729.9Z"/>
<path fill="#20B2AA" d="M412.3 763.9L416.5 764.2L415.5 767.2Z"/>
<path fill="#0000C8" d="M85.1 851.6C85.4 850.4 88.8 848.6 91.5 847.5C94.2 846.4 97.8 845.6 101.4 845.0C105.0 844.4 109.1 843.8 113.0 843.8C116.9 843.8 121.3 844.4 124.6 845.0C127.9 845.6 130.8 846.6 133.0 847.5C135.2 848.4 137.9 849.6 137.9 850.5C137.9 851.4 135.5 852.2 133.0 852.8C130.5 853.4 126.6 853.8 123.0 854.1C119.4 854.4 115.3 854.4 111.4 854.5C107.5 854.6 103.4 854.9 99.8 855.0C96.2 855.1 92.2 855.6 89.8 855.0C87.3 854.4 84.8 852.9 85.1 851.6Z"/>
<path fill="#0000C8" d="M154.1 827.6C154.4 826.6 157.1 825.4 160.0 824.6C162.9 823.8 167.7 823.2 171.6 822.9C175.5 822.6 179.6 822.5 183.2 822.6C186.8 822.7 190.7 822.9 193.2 823.4C195.7 823.9 198.1 824.8 198.1 825.6C198.1 826.4 196.0 827.6 193.2 828.4C190.4 829.1 185.7 829.6 181.5 830.1C177.3 830.6 172.2 831.1 168.3 831.2C164.4 831.3 160.7 831.2 158.3 830.6C155.9 830.0 153.8 828.6 154.1 827.6Z"/>
<path fill="#0000C8" d="M270.0 835.9C270.0 834.2 274.1 832.7 276.6 830.9C279.1 829.1 281.8 826.6 284.9 825.1C287.9 823.6 291.3 822.5 294.9 821.8C298.5 821.0 302.9 820.7 306.5 820.6C310.1 820.5 313.1 820.8 316.4 821.3C319.7 821.8 322.5 823.0 326.4 823.9C330.3 824.8 335.3 826.0 339.7 826.7C344.1 827.5 348.5 828.0 352.9 828.4C357.3 828.8 361.7 828.9 366.2 829.4C370.7 829.9 376.1 830.8 380.0 831.5C383.9 832.2 387.1 833.2 389.9 833.9C392.7 834.6 396.6 835.1 396.6 835.9C396.6 836.6 392.7 837.7 389.9 838.4C387.1 839.1 382.8 839.6 380.0 840.0C377.2 840.4 375.8 840.5 372.9 840.9C370.0 841.3 366.8 841.8 362.9 842.5C359.0 843.2 354.6 844.6 349.6 845.0C344.6 845.4 338.5 845.1 333.0 845.0C327.5 844.9 321.9 844.6 316.4 844.5C310.9 844.4 304.8 844.6 299.8 844.5C294.8 844.4 290.5 844.4 286.6 843.8C282.7 843.2 279.4 842.2 276.6 840.9C273.8 839.6 270.0 837.6 270.0 835.9Z"/>
<path fill="#0000C8" d="M452.2 824.3C452.2 823.0 454.2 821.5 456.3 820.6C458.4 819.7 461.6 819.0 464.6 819.0C467.7 819.0 471.6 819.9 474.6 820.6C477.7 821.3 481.4 822.5 482.9 823.4C484.4 824.3 484.8 825.3 483.7 826.2C482.6 827.1 479.1 828.2 476.2 828.9C473.3 829.5 469.6 830.2 466.3 830.1C463.0 830.0 458.7 829.4 456.3 828.4C453.9 827.4 452.2 825.6 452.2 824.3Z"/>
<path fill="#789BF2" d="M199.8 842.8C200.1 842.0 203.6 841.0 206.4 840.5C209.2 840.0 213.4 839.9 216.4 840.0C219.4 840.1 222.4 840.4 224.7 840.9C227.0 841.4 230.0 842.1 230.0 842.8C230.0 843.5 227.2 844.4 224.7 845.0C222.1 845.6 218.0 846.2 214.7 846.2C211.4 846.2 207.3 845.6 204.8 845.0C202.3 844.4 199.5 843.5 199.8 842.8Z"/>
<path fill="#0000C8" d="M43.0 862.8C44.7 863.0 49.6 863.5 53.3 863.8C56.9 864.1 61.0 864.6 64.9 864.4C68.8 864.2 72.3 863.4 76.5 862.8C80.7 862.2 85.4 861.2 89.8 860.8C94.2 860.4 98.7 860.2 103.1 860.4C107.5 860.6 111.9 861.4 116.3 862.1C120.7 862.8 125.2 863.7 129.6 864.4C134.0 865.1 139.0 865.8 142.9 866.1C146.8 866.4 150.1 866.2 152.9 866.1C155.8 866.0 157.2 865.8 160.0 865.4C162.8 865.0 166.0 864.4 169.9 863.8C173.8 863.2 178.8 862.3 183.2 861.6C187.6 860.9 192.1 860.0 196.5 859.4C200.9 858.8 205.4 858.1 209.8 857.8C214.2 857.5 218.6 857.3 223.0 857.5C227.4 857.7 232.4 858.1 236.3 858.8C240.2 859.5 243.5 860.7 246.3 861.6C249.1 862.5 250.1 863.5 252.9 864.4C255.7 865.3 260.0 866.4 262.9 867.1C265.8 867.8 267.2 868.2 270.0 868.7C272.8 869.2 276.0 869.9 279.9 869.9C283.8 869.9 288.8 869.1 293.2 868.7C297.6 868.3 302.1 868.2 306.5 867.7C310.9 867.2 315.4 866.4 319.8 865.8C324.2 865.1 328.6 864.4 333.0 863.8C337.4 863.2 341.9 862.8 346.3 862.4C350.7 862.0 355.2 861.6 359.6 861.1C364.0 860.6 369.5 860.0 372.9 859.4C376.3 858.8 377.2 858.4 380.0 857.8C382.8 857.2 386.6 856.5 389.9 855.8C393.2 855.0 396.6 854.1 399.9 853.3C403.2 852.5 406.5 851.6 409.8 851.1C413.1 850.6 416.2 850.2 419.8 850.0C423.4 849.8 428.1 849.8 431.4 850.0C434.7 850.2 437.5 850.3 439.7 851.1C441.9 851.9 442.5 853.7 444.7 855.0C446.9 856.3 450.0 857.8 453.0 858.8C456.0 859.8 459.6 860.4 462.9 861.1C466.2 861.8 469.2 862.3 472.9 862.8C476.6 863.2 483.0 863.6 485.0 863.8L485.0 879.5 L43.0 879.5 Z"/>
<path fill="#fff" d="M43.0 877.2L485.0 877.2L485.0 879.5L43.0 879.5Z"/>
<path fill="#fff" d="M43.0 659.0L485.0 659.0L485.0 661.0L43.0 661.0Z"/>
<path fill="none" stroke="#000" stroke-width="0.9" stroke-linejoin="round" d="M477.8 725.4L482.5 726.3L485.0 725.4 M43.0 725.4 L43.0 725.4L46.7 724.2L51.6 723.9L55.3 723.6L56.5 723.9L55.9 725.1L55.3 727.6L56.5 728.6L59.0 728.9L61.8 729.7L62.6 730.9L65.1 731.9L67.6 731.3L67.6 729.1L71.2 729.3L73.7 730.4L78.6 731.3L81.1 730.7L82.7 731.0L85.0 730.9L82.9 732.5L84.1 735.0L86.6 739.9L88.4 743.5L88.8 746.2L90.9 750.3L93.3 752.7L96.0 753.9L96.2 755.2L98.2 756.4L101.9 755.5L105.9 754.8L105.4 758.2L103.2 763.1L99.5 766.8L95.2 770.5L92.7 772.3L91.5 775.4L91.1 777.8L91.5 780.3L92.7 782.7L92.8 787.6L89.7 790.7L87.8 792.5L86.0 793.8L86.6 798.0L83.5 800.5L83.3 802.9L81.1 806.0L77.4 809.7L74.3 810.9L70.0 811.3L67.6 811.9L65.6 811.1L65.1 808.5L63.3 804.3L61.4 801.7L60.8 796.8L57.7 791.3L57.5 788.6L59.6 784.6L59.2 780.3L58.0 776.6L56.5 774.0L54.0 770.5L54.7 768.0L54.8 765.0L53.4 763.7L51.0 764.0L48.5 761.5L44.2 762.1L43.0 762.6 M485.0 762.6 L482.5 763.4L479.5 762.9L475.8 763.9L473.9 763.1L471.5 760.9L469.0 758.8L468.4 757.2L466.6 756.0L464.5 754.2L463.5 751.2L464.7 749.6L465.0 746.0L464.1 743.5L465.4 740.5L466.8 738.0L469.0 735.3L471.5 734.1L473.0 732.7L473.1 730.7L474.6 728.5L476.7 727.5L477.8 725.4M478.1 725.1L477.0 724.2L475.9 723.7L474.1 723.9L473.3 721.8L474.2 719.0L473.6 716.6L475.2 715.7L480.1 716.1L482.8 716.1L483.5 714.6L483.5 712.9L482.3 711.7L479.5 710.7L479.1 710.0L481.3 709.5L483.2 709.7L482.8 708.4L485.0 708.6 M43.0 708.6 L43.2 708.6L45.0 707.0L47.3 706.3L48.5 704.9L49.1 704.0L51.6 703.6L53.8 703.3L53.6 701.3L53.1 699.4L55.9 698.6L55.5 700.6L56.3 702.7L57.7 702.9L60.2 703.1L63.3 702.5L65.7 702.2L67.3 702.6L68.8 701.3L68.8 699.4L70.0 698.7L72.8 699.2L71.9 697.6L72.5 696.6L77.4 696.2L79.8 695.8L77.4 695.1L73.7 695.5L70.6 695.8L69.2 694.5L69.4 692.1L73.7 689.6L72.5 688.6L70.0 689.0L68.8 690.9L64.5 692.7L64.2 694.5L66.1 695.8L63.9 697.3L63.3 699.4L62.4 700.5L60.6 701.3L58.7 701.4L58.3 700.3L56.9 697.8L56.1 696.6L54.0 697.6L51.6 698.2L49.8 697.2L49.1 694.5L51.0 692.6L53.4 691.3L56.5 689.9L59.0 687.8L60.8 686.0L63.9 684.7L66.9 683.5L71.2 682.5L74.9 682.3L78.0 682.5L81.1 683.3L83.5 684.2L88.4 684.8L93.3 686.3L93.3 687.8L89.7 688.3L84.7 687.5L85.4 689.6L85.7 690.4L89.7 690.9L92.1 690.1L92.7 688.5L97.0 688.0L97.0 685.3L99.5 686.0L104.4 685.7L109.3 685.3L114.2 685.0L117.3 684.1L121.6 684.4L125.3 685.0L127.1 682.9L125.3 681.7L127.7 679.8L132.0 680.2L132.0 684.7L133.2 682.3L135.1 680.7L138.8 680.8L142.4 679.2L149.8 678.6L149.8 677.0L159.6 676.1L165.8 675.5L170.7 674.1L174.4 675.2L181.7 676.1L180.5 678.8L183.0 679.0L189.1 679.8L194.0 679.0L198.9 680.4L202.0 682.0L205.7 681.4L210.0 681.7L214.9 680.4L217.3 680.2L227.2 681.7L230.8 682.4L239.4 683.9L245.6 684.0L251.7 684.1L252.3 683.4L259.1 683.7L264.0 684.7L270.1 686.6L276.3 688.2L273.8 690.2L270.1 689.9L266.5 689.0L264.6 690.0L262.8 690.2L262.8 692.7L257.9 693.3L251.7 695.8L246.8 695.8L243.7 695.8L243.1 697.6L241.9 698.8L243.1 700.6L241.9 702.1L239.4 704.1L237.6 704.6L235.4 706.8L234.5 704.3L233.9 700.6L235.8 698.4L239.4 695.1L243.7 692.9L239.4 693.5L235.8 693.8L232.7 696.0L229.6 697.0L225.9 696.1L221.0 696.5L218.0 696.7L214.9 698.8L212.4 700.4L209.4 702.1L211.8 703.1L216.1 704.0L216.5 705.3L215.5 707.4L215.3 709.8L213.0 712.3L210.0 714.7L206.9 716.7L205.1 716.3L203.2 717.2L202.2 718.4L201.4 719.6L199.5 720.9L200.6 722.1L201.9 723.9L201.8 725.8L200.8 726.4L198.3 727.1L198.1 725.8L198.3 723.9L196.5 722.9L196.5 720.9L195.6 720.4L192.5 721.5L192.2 719.4L189.1 721.2L187.5 721.7L188.9 722.9L191.3 722.9L193.4 723.7L190.9 724.9L189.5 726.4L191.3 728.8L192.5 730.3L192.5 731.5L192.8 732.7L192.2 734.6L190.3 736.8L189.1 738.6L187.3 740.1L185.4 741.2L183.2 741.9L180.5 742.7L178.7 743.3L178.1 744.4L177.4 742.9L175.6 742.8L174.0 744.1L172.9 746.0L173.9 747.8L176.0 749.6L177.1 752.1L177.2 754.5L175.0 756.4L173.1 757.6L171.9 758.6L171.8 757.0L169.5 755.8L168.8 754.3L167.0 753.7L166.4 752.7L165.8 753.9L164.9 755.8L164.8 757.6L166.0 758.8L166.4 760.4L167.9 760.9L169.5 762.5L170.0 764.4L170.1 765.8L170.9 767.5L169.8 767.3L167.6 765.9L166.4 763.7L166.1 761.9L165.4 761.0L163.9 759.5L163.7 757.6L164.2 755.2L163.9 753.3L163.0 750.9L162.8 749.0L161.5 748.8L160.3 749.9L158.8 749.6L159.0 747.2L158.0 745.4L156.6 743.5L155.7 741.8L154.1 741.4L152.3 742.5L149.8 742.9L149.6 744.0L148.0 745.1L145.5 747.4L144.0 748.9L142.2 749.9L141.5 750.9L141.6 753.3L141.0 755.2L141.0 756.6L140.0 757.9L139.0 758.3L138.2 759.3L136.7 757.6L135.9 755.2L134.8 753.3L134.1 750.9L133.0 748.4L132.4 746.0L132.4 743.5L132.0 742.5L131.4 743.4L129.9 743.9L127.7 742.1L128.9 741.3L127.3 740.7L125.6 739.9L124.9 738.6L121.6 738.3L118.5 738.5L115.2 738.0L113.4 737.2L112.7 736.2L110.3 736.7L107.6 735.6L105.6 733.8L104.6 732.5L103.0 732.0L101.9 732.7L102.7 734.6L104.4 736.5L105.1 738.4L106.0 737.3L106.4 738.7L107.5 739.6L109.3 739.6L111.8 737.4L112.2 738.9L113.2 740.0L115.1 740.3L116.4 741.7L115.1 744.1L113.8 746.0L110.8 747.8L107.5 749.3L103.2 751.5L98.2 753.3L96.4 753.7L96.0 752.7L95.5 750.9L95.2 748.7L93.3 746.0L91.1 743.2L90.3 740.5L88.7 739.0L87.8 737.4L86.0 735.0L85.8 733.1L85.1 735.2L83.5 733.7L82.9 732.5M85.0 730.9L85.8 729.1L86.6 727.7L87.1 725.8L87.3 724.2L85.5 724.3L83.5 725.0L80.6 724.2L78.6 724.5L76.8 724.2L76.4 722.9L75.5 722.1L75.9 720.9L75.2 720.2L76.8 719.6L78.6 719.0L81.1 718.8L83.5 717.8L86.0 717.8L88.4 718.8L91.5 719.0L94.0 718.4L93.7 717.2L91.5 715.7L89.0 714.5L88.2 713.8L89.7 712.3L90.9 711.6L87.2 712.2L86.0 712.9L86.3 713.8L84.1 714.7L82.9 713.6L84.1 712.9L81.7 712.2L79.8 713.1L79.5 714.1L78.1 715.4L77.4 716.8L77.4 718.0L78.6 718.8L76.8 719.0L75.2 719.4L72.5 719.3L71.9 720.0L71.0 719.8L71.2 721.1L72.5 722.7L71.2 723.3L71.0 724.5L69.4 723.9L69.0 722.3L67.6 720.6L66.8 719.6L66.9 718.0L65.7 717.2L62.6 716.0L61.4 714.7L59.9 714.2L59.8 713.4L58.1 713.8L58.3 715.4L59.7 716.0L60.4 717.3L62.6 717.9L65.1 719.5L65.7 720.1L63.9 719.6L63.4 720.6L64.0 721.5L62.8 722.8L62.3 722.5L62.6 720.9L61.4 720.0L60.6 719.3L58.1 718.2L55.9 716.7L55.5 715.5L53.9 714.9L52.2 715.6L50.4 716.5L48.5 716.1L46.9 716.3L46.9 717.6L45.7 718.5L43.9 719.4L43.0 720.4 M485.0 720.4 L484.6 720.9L485.0 721.5 M43.0 721.5 L43.2 721.8L43.0 722.1 M485.0 722.1 L484.1 723.1L482.5 724.2L479.6 724.3L478.1 725.1M278.7 688.9L281.2 685.6L284.9 684.7L287.3 683.1L292.9 681.9L298.4 682.5L307.0 683.5L311.9 684.0L318.0 684.8L320.5 684.1L326.6 683.5L331.5 684.2L336.4 683.7L343.8 684.8L349.9 686.1L352.4 685.2L356.1 686.0L361.0 686.3L364.7 685.3L367.1 686.8L368.4 684.7L369.6 681.7L372.0 684.1L374.5 685.3L377.0 686.6L379.4 686.0L380.0 683.9L384.3 683.7L384.9 685.3L383.1 688.0L379.4 688.2L378.2 690.2L375.7 690.9L372.0 692.3L369.6 694.5L368.7 697.2L371.4 699.4L375.7 699.7L380.6 701.5L384.0 701.8L384.1 704.3L386.2 706.4L388.0 706.2L388.0 703.1L390.5 700.6L389.8 697.6L389.0 695.1L389.2 692.8L394.1 692.9L399.1 694.5L399.7 697.0L402.7 697.7L405.2 696.0L405.8 695.4L408.9 698.8L411.3 701.3L415.0 703.7L416.2 705.5L413.2 706.4L411.3 707.8L405.2 707.8L402.7 708.9L399.1 711.3L403.4 709.1L405.8 709.3L405.2 711.1L406.4 712.7L410.1 713.4L409.5 714.1L404.6 716.0L403.7 715.1L405.8 713.5L402.7 714.1L400.3 715.4L398.4 716.2L398.1 717.4L399.1 718.2L396.6 718.8L394.1 719.5L393.9 720.9L392.3 722.1L391.7 723.9L392.1 725.8L390.7 726.7L388.6 727.8L385.8 730.0L385.1 731.9L386.4 735.6L386.5 738.0L385.3 738.4L383.5 735.3L383.3 733.5L381.9 732.5L380.0 732.9L377.6 732.1L375.7 732.3L375.4 733.6L373.3 733.4L369.6 733.1L366.5 734.6L365.4 736.2L365.2 739.2L364.9 741.9L366.5 745.4L368.4 746.6L371.4 746.6L373.3 746.0L373.9 743.5L376.3 742.9L378.2 743.0L377.6 745.4L376.6 747.2L376.0 749.6L379.4 749.8L382.5 750.5L382.5 753.9L382.2 755.8L383.7 757.9L385.6 758.3L387.4 757.5L389.8 758.6L390.5 759.6M390.0 760.4L388.9 758.7L387.1 758.3L386.2 760.4L383.7 759.2L382.5 758.8L380.6 757.0L379.7 755.9L377.6 753.3L375.1 752.7L372.7 752.1L369.6 749.5L367.1 750.0L363.4 748.9L359.8 747.2L356.1 745.4L355.3 742.9L354.2 740.5L351.8 738.3L350.6 736.4L347.5 733.7L346.3 731.0L344.2 730.4L344.4 732.5L346.5 735.2L348.7 738.0L350.1 740.8L349.3 740.5L347.2 738.6L345.0 735.9L343.8 734.3L342.8 732.3L341.2 729.4L339.5 727.6L336.9 726.9L335.3 724.4L334.6 722.9L333.0 720.9L332.4 719.6L332.5 716.6L332.8 712.7L331.9 710.0L334.2 711.1L334.2 709.2L331.5 708.0L328.1 706.2L327.8 704.3L325.0 702.5L323.5 700.6L320.5 697.8L316.8 697.2L313.7 696.0L308.8 695.8L305.7 694.5L302.7 695.1L299.0 696.6L298.4 694.8L300.8 694.3L296.5 696.4L295.3 698.2L292.2 699.8L288.6 701.0L284.9 702.1L283.0 702.4L287.3 700.6L291.0 698.8L291.9 697.2L288.6 697.2L286.1 697.3L285.9 695.8L282.4 695.1L281.2 693.8L282.4 692.4L284.9 691.8L287.3 691.3L287.3 690.2L284.3 690.2L280.6 690.1L278.7 688.9M390.0 760.4L389.8 762.5L390.5 764.6L388.4 766.8L387.0 768.3L386.2 770.5L385.8 772.1L387.0 772.4L386.4 773.4L385.2 774.8L385.6 776.6L387.1 778.1L388.6 780.9L390.2 784.0L391.4 786.3L394.1 788.9L397.2 790.7L398.7 791.9L398.9 795.0L398.4 798.6L398.2 802.3L397.2 806.0L397.1 809.7L395.9 812.7L394.8 815.2L394.8 818.2L394.1 820.7L395.4 821.3L395.4 823.1L392.9 826.2L393.5 829.3L392.5 831.7L394.8 833.9L397.8 835.2L398.0 834.1L399.9 833.6L401.0 833.4L400.3 831.1L402.0 829.3L404.2 827.4L402.4 825.6L404.8 824.1L405.2 821.3L406.9 821.4L405.2 819.2L408.6 819.2L408.6 816.9L412.6 816.5L414.8 815.6L415.4 813.8L414.6 812.4L413.3 811.1L415.0 811.8L417.5 811.9L419.4 810.5L421.2 808.5L423.0 806.9L425.3 803.5L425.5 801.1L427.3 799.3L430.1 797.7L433.4 797.4L434.7 796.2L435.9 793.8L437.1 790.7L437.1 787.6L437.7 785.2L439.2 783.3L441.8 780.3L442.3 777.8L441.7 775.7L439.6 775.1L436.5 772.9L433.4 772.7L430.4 772.3L427.9 770.5L425.5 770.7L423.6 769.5L422.6 767.4L422.0 764.4L420.5 762.8L417.5 762.0L414.6 761.9L412.8 760.1L410.5 758.8L408.9 757.0L407.9 756.3L405.8 756.8L403.7 756.3L401.3 756.3L399.1 754.8L397.2 755.9L396.6 754.8L395.4 755.4L392.9 756.0L391.9 757.7L390.7 758.7L390.5 759.6M182.6 796.8L183.2 796.0L186.0 794.5L189.1 793.8L192.2 792.5L193.2 790.4L194.8 790.4L196.5 788.2L198.9 786.4L200.8 787.5L202.2 787.5L203.2 784.6L205.7 783.5L209.1 784.2L211.0 784.2L210.0 785.8L209.4 787.6L211.8 788.9L214.0 790.6L215.9 790.7L216.9 787.6L217.1 784.8L218.0 782.5L219.2 784.9L219.6 786.9L221.4 787.5L222.3 790.7L222.6 792.4L225.3 793.9L226.7 796.6L228.1 796.9L228.4 798.2L230.8 800.5L231.5 803.5L230.8 807.2L229.0 810.3L227.5 813.4L227.0 815.2L224.5 815.8L222.6 817.1L220.8 815.9L219.2 816.8L216.1 815.9L214.4 814.0L212.7 812.9L212.4 810.3L211.8 810.7L211.0 812.9L209.7 811.9L207.8 809.7L204.5 807.8L200.8 808.3L197.1 809.2L195.0 810.8L190.3 810.8L187.8 812.1L184.4 811.3L185.1 808.5L184.2 806.0L183.2 802.9L182.2 801.1L183.0 799.9L182.6 796.8M395.4 673.5L401.5 671.9L407.6 669.8L417.5 668.4L429.8 667.9L444.5 667.0L454.3 667.8L460.4 669.0L467.8 669.8L462.9 671.9L461.7 674.3L459.8 676.8L461.1 678.6L458.0 680.4L457.4 682.9L453.1 683.7L453.1 685.3L445.7 686.0L440.8 688.4L435.9 689.4L433.4 692.1L432.0 695.6L429.8 695.6L426.1 694.5L423.6 692.3L421.2 689.6L419.3 687.2L419.3 684.7L422.4 683.7L418.1 682.9L417.5 680.4L414.4 678.0L410.1 676.1L402.7 676.1L397.8 674.9L395.4 673.5M264.0 872.8L270.1 872.9L288.6 873.6L304.5 874.1L304.5 870.3L298.4 867.9L291.0 866.4L286.1 866.6L288.6 865.0L293.5 864.4L300.8 863.6L305.7 862.4L313.1 861.4L325.4 860.5L337.7 859.9L347.5 860.6L356.1 859.3L362.2 858.7L368.4 858.7L377.0 858.7L386.8 859.0L392.9 858.1L399.1 858.1L401.5 855.0L402.7 851.9L406.4 849.2L411.3 847.2L415.0 846.8L412.6 848.3L408.9 850.1L405.2 852.5L408.3 854.4L410.1 856.8L410.7 859.3L407.6 861.7L402.1 863.2L411.3 865.4L427.3 866.9L439.6 866.3L451.9 863.2L464.1 860.1L472.7 857.7L483.8 856.6L485.0 856.2 M43.0 856.2 L43.0 856.2L52.8 855.0L61.4 854.4L70.0 855.4L77.4 854.8L83.5 853.5L89.7 854.8L94.6 852.5L100.7 851.9L106.8 850.1L113.0 851.1L119.1 851.9L126.5 852.3L128.9 853.5L132.6 854.8L137.5 853.8L141.2 852.3L148.6 850.8L156.0 850.7L163.3 850.1L171.9 850.7L178.1 850.1L184.2 850.8L190.3 851.1L198.9 850.7L206.3 850.1L214.9 851.0L221.0 851.6L227.2 853.0L234.5 854.0L241.9 855.6L249.3 856.8L252.9 857.5L248.0 859.7L243.7 861.7L243.1 864.2L240.1 866.6L239.4 869.1L245.6 870.9L257.9 872.1L264.0 872.8M478.0 707.9L480.7 707.5L483.8 707.0L485.0 706.8 M43.0 706.8 L44.6 706.5L43.6 706.2L45.1 704.7L43.4 704.3L43.0 703.5 M485.0 703.5 L484.8 703.0L483.2 701.9L482.5 700.6L481.1 700.6L482.5 698.8L480.1 698.6L481.1 697.5L478.9 697.5L477.6 698.8L478.2 700.6L479.1 702.0L481.1 702.4L481.3 703.8L479.5 704.1L479.7 705.2L478.6 705.8L481.1 706.3L479.5 706.8L478.0 707.9M477.4 705.3L477.6 703.7L478.1 702.5L476.4 701.5L474.6 702.6L472.7 703.1L473.3 704.3L472.4 705.5L473.3 706.2L475.8 705.5L477.4 705.3M457.4 691.0L460.4 691.5L462.9 691.6L466.6 690.5L468.4 689.6L466.8 688.2L464.7 687.8L462.3 688.4L459.8 688.6L457.4 687.9L455.5 689.0L458.0 689.6L455.8 689.9L457.4 691.0M56.5 671.9L60.2 674.3L63.9 675.3L66.3 673.7L70.0 673.3L67.6 671.5L62.6 671.2L56.5 671.9M65.1 671.0L71.2 672.0L76.2 671.2L72.5 670.6L65.1 671.0M106.2 682.3L108.7 682.5L113.0 682.3L111.1 680.4L113.0 678.6L117.9 676.8L124.0 675.5L127.7 674.9L124.0 676.1L117.9 677.6L114.2 679.8L110.5 681.3L106.2 682.3M159.6 672.2L165.8 673.5L170.7 673.1L169.5 671.9L163.3 670.0L159.6 672.2M211.2 676.8L217.3 677.6L222.3 677.0L227.2 677.1L221.0 676.1L213.7 676.1L211.2 676.8M262.2 682.3L265.2 682.3L266.5 681.8L262.8 681.7L262.2 682.3M217.3 702.7L218.8 704.9L219.2 708.0L220.4 709.2L218.6 711.7L217.7 712.9L217.3 710.5L217.3 707.4L217.1 704.9L217.3 702.7M215.1 718.4L216.7 717.4L218.9 717.8L221.6 716.2L220.2 715.4L217.3 713.6L216.7 716.0L215.3 716.3L215.1 718.4M202.9 730.9L204.5 730.7L205.1 728.8L206.3 727.8L208.4 727.8L209.7 728.2L211.2 726.9L213.4 726.7L214.9 726.1L215.9 725.1L216.1 722.3L217.1 720.9L216.5 718.7L214.9 719.5L214.6 721.5L213.0 723.4L211.2 723.6L210.6 724.9L209.7 725.6L206.3 725.8L203.8 727.1L202.6 728.2L202.2 729.2L202.9 730.9M190.6 741.1L191.3 742.3L192.2 740.5L192.5 738.6L191.6 738.5L190.6 741.1M176.5 746.0L177.6 747.0L179.0 745.7L178.7 744.8L177.1 744.9L176.5 746.0M190.7 749.6L190.9 746.6L192.8 746.6L193.0 749.0L192.2 751.5L195.0 752.3L195.2 753.6L193.4 752.5L191.3 752.3L190.7 751.1L190.7 749.6M192.8 760.7L194.6 758.7L197.1 757.2L198.3 759.1L197.9 761.5L196.8 761.9L195.2 761.3L194.3 759.9L192.8 760.7M192.8 756.4L194.0 755.0L196.5 753.9L197.1 755.8L196.2 757.0L194.6 757.6L193.4 757.2L192.8 756.4M186.9 759.0L189.7 756.4L189.4 755.4L186.9 759.0M176.8 767.4L178.1 767.2L179.7 766.2L181.7 765.3L183.6 763.6L185.4 761.7L186.7 760.7L188.5 762.5L187.9 764.0L187.6 766.2L188.9 768.0L187.4 769.2L186.0 771.5L185.8 773.5L183.6 774.3L181.7 773.2L180.1 773.2L178.3 772.7L177.1 769.9L176.8 767.4M160.0 762.4L162.7 762.9L164.6 764.8L166.4 766.6L168.6 768.0L170.3 769.9L171.3 771.9L173.1 772.9L172.9 776.4L171.3 776.2L168.8 774.5L167.0 772.6L165.2 769.6L164.1 767.2L162.1 765.3L160.0 762.4M172.3 777.6L174.1 776.6L176.2 777.3L179.0 777.1L181.4 777.8L183.6 778.8L183.3 779.8L179.9 779.4L176.2 778.8L173.5 778.3L172.3 777.6M184.2 779.3L186.3 779.7L189.1 779.5L191.6 779.7L194.0 779.4L194.0 780.0L190.3 780.9L188.5 780.3L185.4 780.3L184.2 779.3M194.6 781.9L196.5 780.3L199.2 779.5L198.3 780.6L195.9 781.9L194.6 781.9M189.7 776.0L189.7 773.4L188.9 772.6L190.1 769.5L190.6 768.1L193.8 768.0L196.5 767.3L195.9 768.8L191.6 768.8L190.5 770.4L192.2 770.4L194.4 770.1L192.4 771.6L193.4 773.2L193.8 775.0L192.3 775.0L191.6 772.6L190.7 772.8L190.8 776.0L189.7 776.0M199.5 768.6L200.2 766.8L201.0 768.0L200.4 770.2L199.5 768.6M203.8 770.2L205.7 769.7L207.5 770.2L208.8 773.3L211.2 771.5L213.7 771.9L216.1 772.4L220.4 773.9L222.3 775.7L224.5 776.7L223.7 777.8L225.3 780.0L228.0 781.9L224.7 781.6L222.3 779.3L219.8 778.7L218.6 780.5L216.1 780.4L213.7 779.2L212.4 779.5L213.4 777.8L212.4 776.0L209.4 774.6L206.3 774.1L205.1 772.7L207.5 771.9L205.3 771.9L203.8 770.2M225.3 776.1L227.8 776.0L229.6 774.4L229.9 775.4L228.4 776.8L225.9 777.0L225.3 776.1M141.0 757.5L142.7 758.8L143.4 760.7L142.4 761.7L141.2 761.9L141.0 759.5L141.0 757.5M103.5 784.0L104.9 788.2L103.8 790.7L102.5 794.4L101.0 799.6L98.5 800.5L96.8 798.6L96.2 796.2L97.4 793.8L97.0 790.7L98.2 788.9L100.7 787.6L102.5 785.5L103.5 784.0M220.7 819.1L222.9 819.6L225.0 819.4L225.0 821.3L223.5 822.5L222.3 822.5L221.3 821.1L220.7 819.1M255.0 811.5L257.0 813.0L258.5 814.3L260.3 815.6L262.2 815.4L260.9 817.4L260.1 818.9L258.1 820.2L257.7 818.9L256.4 817.5L257.5 815.8L257.2 814.0L255.0 811.5M255.0 819.0L256.9 819.8L255.4 821.9L253.3 823.5L252.7 825.5L250.5 826.3L248.7 825.8L247.4 825.2L249.5 823.4L252.3 821.9L253.6 820.5L255.0 819.0M244.4 793.9L247.4 795.6L248.0 796.6L245.6 795.3L244.4 793.9M380.6 742.4L383.1 741.1L386.2 741.0L389.8 742.7L392.9 743.9L393.9 744.5L389.8 744.9L390.5 744.0L388.6 742.9L385.6 742.3L383.7 741.6L381.9 742.3L380.6 742.4M393.7 746.5L395.4 744.9L399.1 745.0L401.0 746.5L399.1 746.8L397.1 747.6L396.0 746.8L393.7 746.5M388.9 746.8L390.5 746.6L391.4 747.2L389.8 747.4L388.9 746.8M402.5 746.7L404.3 746.7L404.1 747.2L402.5 747.2L402.5 746.7M412.2 710.9L413.2 709.2L415.0 706.8L416.7 706.2L416.2 708.0L418.7 708.6L419.9 709.8L419.9 712.0L416.9 711.8L415.6 711.1L412.2 710.9M327.5 707.1L330.3 707.6L333.4 709.8L331.5 709.6L329.1 708.2L327.5 707.1M386.8 679.0L391.1 680.1L396.6 681.5L400.9 683.1L402.7 685.0L408.9 687.2L408.9 688.4L405.2 689.0L406.4 691.5L404.0 692.7L400.9 692.3L397.2 691.3L393.5 690.2L389.2 690.1L389.8 689.0L394.1 689.0L394.8 686.6L396.0 686.0L390.5 683.7L388.0 683.5L384.3 683.5L380.0 683.3L375.7 682.3L374.5 680.4L379.4 678.8L386.8 679.0M374.5 675.8L380.6 675.7L386.8 675.9L389.2 674.9L391.7 673.1L396.6 671.9L404.0 670.3L408.9 668.3L399.1 667.6L389.2 667.6L379.4 668.6L373.3 669.4L377.0 670.9L379.4 672.5L376.3 673.5L378.2 674.3L374.5 675.8M372.0 676.4L377.0 676.8L384.3 678.0L386.8 677.4L384.3 676.4L377.0 675.7L372.0 676.4M368.4 671.2L374.5 672.1L377.6 671.9L373.3 670.0L368.4 671.2M341.4 682.3L343.8 684.0L349.9 684.7L356.1 685.2L359.8 684.1L361.0 683.3L356.1 680.1L352.4 679.6L347.5 680.1L340.7 679.8L339.5 681.0L341.4 682.3M331.5 681.0L334.0 682.0L338.3 681.7L341.4 679.2L338.9 678.2L332.8 678.4L331.5 681.0M341.4 676.1L345.0 677.6L349.9 677.5L354.9 677.1L354.9 675.9L349.9 675.5L341.4 676.1M359.8 679.8L364.7 681.7L366.5 680.1L363.4 678.8L359.8 679.8M367.7 680.8L370.8 681.0L373.9 679.8L373.3 678.6L368.4 678.6L367.7 680.8M378.2 688.8L380.6 689.0L385.6 690.9L383.1 692.3L379.4 691.2L378.2 688.8M357.3 675.5L362.2 677.4L365.9 676.8L364.7 675.4L359.8 674.9L357.3 675.5M293.5 746.0L294.7 745.2L293.6 744.5L293.5 746.0M295.3 699.1L297.8 698.8L297.8 698.0L295.3 699.1M53.1 721.2L54.8 721.2L54.9 719.1L53.2 719.0L53.1 721.2M53.7 718.4L54.5 718.3L54.5 716.6L53.7 717.2L53.7 718.4M58.3 722.7L62.0 722.5L61.7 724.2L58.3 723.2L58.3 722.7M72.0 725.9L75.2 726.1L73.1 726.4L72.0 725.9M82.8 726.6L85.4 725.6L84.5 726.6L82.8 726.6M108.6 753.9L109.8 753.8L109.1 754.2L108.6 753.9M410.1 832.7L413.8 832.2L413.2 833.2L410.1 832.7M398.4 833.9L400.9 833.8L401.5 834.8L404.8 836.3L402.7 836.9L399.1 836.6L396.6 835.4L398.4 833.9M438.3 835.4L440.8 836.0L439.6 835.6L438.3 835.4M127.7 829.5L129.3 829.5L128.7 830.0L127.7 829.5M100.7 670.6L106.8 671.2L114.2 670.6L119.1 670.0L113.0 669.4L104.4 670.0L100.7 670.6M276.3 704.6L278.7 704.0M267.7 705.8L269.5 705.5M254.8 704.6L256.0 704.3M102.5 684.7L104.1 684.4L103.8 685.0L102.5 684.7M334.0 676.1L338.9 676.4L343.2 675.5L341.4 674.6L336.4 674.9L334.0 676.1M347.5 674.3L350.6 674.7L349.9 673.5L346.3 673.2L347.5 674.3M356.1 673.9L362.2 673.9L363.4 672.7L358.5 672.1L355.5 673.0L356.1 673.9M364.7 673.9L369.0 673.9L370.2 673.1L366.5 672.5L364.7 673.9M366.5 677.7L370.2 677.7L370.0 676.8L367.1 676.8L366.5 677.7M362.8 685.1L367.1 685.3L367.7 684.1L365.3 683.6L362.8 684.5L362.8 685.1M386.2 680.1L391.1 680.3L391.7 679.2L388.0 678.8L386.2 680.1M389.8 686.9L392.3 686.9L392.3 685.7L389.8 686.0L389.8 686.9M383.1 693.1L384.9 692.4L384.3 692.1L382.5 692.3L383.1 693.1M384.6 704.6L385.8 704.3L385.2 703.8L384.6 704.6M405.8 708.2L408.9 709.1L409.2 708.7L405.8 708.2M406.2 712.2L408.6 712.9L408.9 712.3L406.2 712.2M409.9 713.4L411.3 713.3L410.7 711.7L409.9 713.4M356.1 679.8L361.0 679.8L361.6 677.1L357.9 676.4L356.1 679.8M367.1 670.9L372.0 671.0L372.0 669.8L368.4 669.8L367.1 670.9M222.3 714.7L225.3 713.5M227.2 712.7L229.6 711.4M231.5 709.5L233.9 707.8M199.8 737.2L200.5 736.4M156.8 754.9L157.2 752.8M464.7 734.7L466.0 735.0M467.8 734.3L468.4 733.5M290.8 743.0L291.4 742.8M292.6 743.8L293.3 743.9M248.0 788.2L248.7 789.5M261.5 790.7L262.3 791.3M239.4 780.9L241.3 781.9M238.2 779.0L240.4 780.3M233.3 776.6L234.5 777.6M410.1 751.5L410.1 750.3M409.5 756.5L410.1 756.1M110.9 795.0L111.5 795.2M113.5 794.0L113.8 794.2M96.2 783.6L96.4 784.0M54.5 769.0L54.7 769.2M53.7 765.0L53.8 765.2M215.5 779.0L216.1 779.4M477.4 693.3L476.2 693.1M483.4 695.5L483.5 695.0M481.3 697.0L481.1 696.7M477.0 698.0L476.4 698.6M103.2 723.3L105.6 724.2L109.3 723.9L109.1 721.5L108.1 719.6L107.5 717.8L105.6 714.7L108.1 713.8L107.5 711.9L103.8 712.3L100.7 714.4L101.3 716.6L103.8 719.6L102.9 722.1L103.2 723.3M114.8 715.4L116.7 716.0L118.5 714.7L117.9 712.5L116.1 712.7L114.8 715.4M133.2 713.5L136.3 712.0L140.0 712.3L136.3 712.5L133.2 713.5M170.7 706.0L173.1 704.9L176.2 703.1L177.8 701.0L176.8 701.3L175.0 703.7L172.5 704.9L170.7 706.0M82.3 768.9L84.1 768.9L85.4 769.9L84.5 771.9L82.9 772.6L81.9 771.1L82.3 768.9M79.0 773.5L79.5 775.4L80.4 777.8L81.1 779.9L80.1 777.8L79.0 775.4L79.0 773.5M84.7 781.0L85.6 783.3L86.0 786.4L85.4 784.6L84.7 781.0M372.0 711.9L375.1 710.5L378.2 709.6L380.6 710.7L381.3 712.2L378.8 712.3L377.0 711.7L374.5 712.0L372.0 711.9M377.2 717.8L379.0 717.2L379.4 714.7L380.6 713.1L378.8 713.3L377.2 715.4L377.2 717.8M381.3 712.9L384.9 712.9L386.8 714.5L384.7 716.3L383.7 716.2L382.5 714.7L381.3 712.9M382.6 718.0L385.6 718.3L388.0 716.8L386.2 717.1L382.6 718.0M387.1 716.2L390.5 716.2L391.3 715.2L389.2 715.4L387.1 716.2M332.8 689.0L336.4 689.6L340.1 688.2L337.7 687.2L334.0 688.0L332.8 689.0M341.4 694.5L345.0 694.5L348.7 692.7L346.3 692.9L342.6 693.5L341.4 694.5M363.4 707.4L365.9 707.4L365.3 704.3L363.4 703.7L363.4 707.4M80.4 695.8L82.9 695.4L82.9 693.9L80.4 694.2L80.4 695.8M85.4 694.5L87.2 693.9L86.0 692.4L85.4 694.5M399.1 788.1L400.3 789.3L399.7 788.4L399.1 788.1"/>
</g>
<rect x="42.85" y="659.1" width="441.85" height="220.3" fill="none" stroke="#777" stroke-width="1.2"/>
<g font-family="Liberation Sans, sans-serif">
<text x="263.8" y="67.4" font-size="14.6" fill="#000" font-weight="normal" text-anchor="middle" textLength="123.7" lengthAdjust="spacingAndGlyphs" stroke="#000" stroke-width="0.15">CAM_fv_3.0_2000</text>
<text x="263.9" y="346.1" font-size="14.5" fill="#000" font-weight="normal" text-anchor="middle" textLength="40.6" lengthAdjust="spacingAndGlyphs" stroke="#000" stroke-width="0.15">NCEP</text>
<text x="263.9" y="626.9" font-size="14.6" fill="#000" font-weight="normal" text-anchor="middle" textLength="179.9" lengthAdjust="spacingAndGlyphs" stroke="#000" stroke-width="0.15">CAM_fv_3.0_2000 - NCEP</text>
<text x="577.9" y="84.7" font-size="24.3" fill="#000" font-weight="bold" text-anchor="middle" textLength="44.3" lengthAdjust="spacingAndGlyphs" stroke="#000" stroke-width="0.4">JJA</text>
<text x="42.4" y="88.7" font-size="12.8" fill="#1a1a1a" font-weight="normal" textLength="23.2" lengthAdjust="spacingAndGlyphs" stroke="#fff" stroke-width="0.22">200</text>
<text x="75.3" y="88.7" font-size="12.8" fill="#1a1a1a" font-weight="normal" textLength="18.2" lengthAdjust="spacingAndGlyphs" stroke="#fff" stroke-width="0.22">mb</text>
<text x="102.7" y="88.7" font-size="12.8" fill="#1a1a1a" font-weight="normal" textLength="33.1" lengthAdjust="spacingAndGlyphs" stroke="#fff" stroke-width="0.22">Temp</text>
<text x="42.4" y="366.5" font-size="12.8" fill="#1a1a1a" font-weight="normal" textLength="23.2" lengthAdjust="spacingAndGlyphs" stroke="#fff" stroke-width="0.22">200</text>
<text x="75.3" y="366.5" font-size="12.8" fill="#1a1a1a" font-weight="normal" textLength="18.2" lengthAdjust="spacingAndGlyphs" stroke="#fff" stroke-width="0.22">mb</text>
<text x="102.7" y="366.5" font-size="12.8" fill="#1a1a1a" font-weight="normal" textLength="33.1" lengthAdjust="spacingAndGlyphs" stroke="#fff" stroke-width="0.22">Temp</text>
<text x="214.4" y="91.1" font-size="12.8" fill="#1a1a1a" font-weight="normal" textLength="45.3" lengthAdjust="spacingAndGlyphs" stroke="#fff" stroke-width="0.22">mean=</text>
<text x="268.4" y="91.1" font-size="12.8" fill="#1a1a1a" font-weight="normal" textLength="44.8" lengthAdjust="spacingAndGlyphs" stroke="#fff" stroke-width="0.22">216.52</text>
<text x="213.9" y="369.7" font-size="12.8" fill="#1a1a1a" font-weight="normal" textLength="44.2" lengthAdjust="spacingAndGlyphs" stroke="#fff" stroke-width="0.22">mean=</text>
<text x="267.8" y="369.7" font-size="12.8" fill="#1a1a1a" font-weight="normal" textLength="44.9" lengthAdjust="spacingAndGlyphs" stroke="#fff" stroke-width="0.22">219.64</text>
<text x="477.6" y="90.9" font-size="12.8" fill="#1a1a1a" font-weight="normal" textLength="7.3" lengthAdjust="spacingAndGlyphs" stroke="#fff" stroke-width="0.22">K</text>
<text x="477.6" y="369.2" font-size="12.8" fill="#1a1a1a" font-weight="normal" textLength="7.3" lengthAdjust="spacingAndGlyphs" stroke="#fff" stroke-width="0.22">K</text>
<text x="477.6" y="648.0" font-size="12.8" fill="#1a1a1a" font-weight="normal" textLength="7.3" lengthAdjust="spacingAndGlyphs" stroke="#fff" stroke-width="0.22">K</text>
<text x="41.9" y="648.3" font-size="12.8" fill="#1a1a1a" font-weight="normal" textLength="34.9" lengthAdjust="spacingAndGlyphs" stroke="#fff" stroke-width="0.22">mean</text>
<text x="85.3" y="648.3" font-size="12.8" fill="#1a1a1a" font-weight="normal" textLength="8.9" lengthAdjust="spacingAndGlyphs" stroke="#fff" stroke-width="0.22">=</text>
<text x="109.7" y="648.3" font-size="12.8" fill="#1a1a1a" font-weight="normal" textLength="37.3" lengthAdjust="spacingAndGlyphs" stroke="#fff" stroke-width="0.22">−3.11</text>
<text x="214.4" y="648.1" font-size="12.8" fill="#1a1a1a" font-weight="normal" textLength="31.7" lengthAdjust="spacingAndGlyphs" stroke="#fff" stroke-width="0.22">rmse</text>
<text x="254.3" y="648.1" font-size="12.8" fill="#1a1a1a" font-weight="normal" textLength="9.2" lengthAdjust="spacingAndGlyphs" stroke="#fff" stroke-width="0.22">=</text>
<text x="284.6" y="648.1" font-size="12.8" fill="#1a1a1a" font-weight="normal" textLength="28.7" lengthAdjust="spacingAndGlyphs" stroke="#fff" stroke-width="0.22">4.15</text>
<text x="502.1" y="127.1" font-size="11.8" fill="#1a1a1a" font-weight="normal" textLength="17.1" lengthAdjust="spacingAndGlyphs" stroke="#fff" stroke-width="0.22">Min</text>
<text x="527.0" y="127.1" font-size="11.8" fill="#1a1a1a" font-weight="normal" textLength="8.0" lengthAdjust="spacingAndGlyphs" stroke="#fff" stroke-width="0.22">=</text>
<text x="543.6" y="127.1" font-size="11.8" fill="#1a1a1a" font-weight="normal" textLength="39.4" lengthAdjust="spacingAndGlyphs" stroke="#fff" stroke-width="0.22">191.89</text>
<text x="591.0" y="127.1" font-size="11.8" fill="#1a1a1a" font-weight="normal" textLength="21.0" lengthAdjust="spacingAndGlyphs" stroke="#fff" stroke-width="0.22">Max</text>
<text x="619.8" y="127.1" font-size="11.8" fill="#1a1a1a" font-weight="normal" textLength="7.9" lengthAdjust="spacingAndGlyphs" stroke="#fff" stroke-width="0.22">=</text>
<text x="635.6" y="127.1" font-size="11.8" fill="#1a1a1a" font-weight="normal" textLength="40.2" lengthAdjust="spacingAndGlyphs" stroke="#fff" stroke-width="0.22">226.27</text>
<text x="502.1" y="405.5" font-size="11.8" fill="#1a1a1a" font-weight="normal" textLength="17.1" lengthAdjust="spacingAndGlyphs" stroke="#fff" stroke-width="0.22">Min</text>
<text x="527.0" y="405.5" font-size="11.8" fill="#1a1a1a" font-weight="normal" textLength="8.0" lengthAdjust="spacingAndGlyphs" stroke="#fff" stroke-width="0.22">=</text>
<text x="543.6" y="405.5" font-size="11.8" fill="#1a1a1a" font-weight="normal" textLength="39.4" lengthAdjust="spacingAndGlyphs" stroke="#fff" stroke-width="0.22">200.56</text>
<text x="591.0" y="405.5" font-size="11.8" fill="#1a1a1a" font-weight="normal" textLength="21.0" lengthAdjust="spacingAndGlyphs" stroke="#fff" stroke-width="0.22">Max</text>
<text x="619.8" y="405.5" font-size="11.8" fill="#1a1a1a" font-weight="normal" textLength="7.9" lengthAdjust="spacingAndGlyphs" stroke="#fff" stroke-width="0.22">=</text>
<text x="635.6" y="405.5" font-size="11.8" fill="#1a1a1a" font-weight="normal" textLength="40.2" lengthAdjust="spacingAndGlyphs" stroke="#fff" stroke-width="0.22">229.72</text>
<text x="502.1" y="683.5" font-size="11.8" fill="#1a1a1a" font-weight="normal" textLength="17.1" lengthAdjust="spacingAndGlyphs" stroke="#fff" stroke-width="0.22">Min</text>
<text x="527.0" y="683.5" font-size="11.8" fill="#1a1a1a" font-weight="normal" textLength="8.0" lengthAdjust="spacingAndGlyphs" stroke="#fff" stroke-width="0.22">=</text>
<text x="543.2" y="683.5" font-size="11.8" fill="#1a1a1a" font-weight="normal" textLength="42.5" lengthAdjust="spacingAndGlyphs" stroke="#fff" stroke-width="0.22">−10.60</text>
<text x="591.0" y="683.5" font-size="11.8" fill="#1a1a1a" font-weight="normal" textLength="21.0" lengthAdjust="spacingAndGlyphs" stroke="#fff" stroke-width="0.22">Max</text>
<text x="619.8" y="683.5" font-size="11.8" fill="#1a1a1a" font-weight="normal" textLength="7.9" lengthAdjust="spacingAndGlyphs" stroke="#fff" stroke-width="0.22">=</text>
<text x="649.5" y="683.5" font-size="11.8" fill="#1a1a1a" font-weight="normal" textLength="25.8" lengthAdjust="spacingAndGlyphs" stroke="#fff" stroke-width="0.22">3.48</text>
<rect x="563.2" y="145.40" width="25.9" height="10.87" fill="#FF1493" stroke="#222" stroke-width="0.6"/>
<rect x="563.2" y="156.27" width="25.9" height="10.87" fill="#FFB6C1" stroke="#222" stroke-width="0.6"/>
<rect x="563.2" y="167.14" width="25.9" height="10.87" fill="#B22222" stroke="#222" stroke-width="0.6"/>
<rect x="563.2" y="178.01" width="25.9" height="10.87" fill="#FF4500" stroke="#222" stroke-width="0.6"/>
<rect x="563.2" y="188.88" width="25.9" height="10.87" fill="#FFA500" stroke="#222" stroke-width="0.6"/>
<rect x="563.2" y="199.75" width="25.9" height="10.87" fill="#FFE100" stroke="#222" stroke-width="0.6"/>
<rect x="563.2" y="210.62" width="25.9" height="10.87" fill="#DEB887" stroke="#222" stroke-width="0.6"/>
<rect x="563.2" y="221.49" width="25.9" height="10.87" fill="#F5E6BE" stroke="#222" stroke-width="0.6"/>
<rect x="563.2" y="232.36" width="25.9" height="10.87" fill="#9ABE32" stroke="#222" stroke-width="0.6"/>
<rect x="563.2" y="243.23" width="25.9" height="10.87" fill="#BCEE68" stroke="#222" stroke-width="0.6"/>
<rect x="563.2" y="254.10" width="25.9" height="10.87" fill="#20B2AA" stroke="#222" stroke-width="0.6"/>
<rect x="563.2" y="264.97" width="25.9" height="10.87" fill="#B0E0E6" stroke="#222" stroke-width="0.6"/>
<rect x="563.2" y="275.84" width="25.9" height="10.87" fill="#789BF2" stroke="#222" stroke-width="0.6"/>
<rect x="563.2" y="286.71" width="25.9" height="10.87" fill="#3C64E6" stroke="#222" stroke-width="0.6"/>
<rect x="563.2" y="297.58" width="25.9" height="10.87" fill="#0000C8" stroke="#222" stroke-width="0.6"/>
<rect x="563.2" y="308.45" width="25.9" height="10.87" fill="#9370DB" stroke="#222" stroke-width="0.6"/>
<text x="605.7" y="160.1" font-size="11.0" fill="#222" font-weight="normal" text-anchor="middle" stroke="#fff" stroke-width="0.2">232</text>
<text x="605.7" y="170.9" font-size="11.0" fill="#222" font-weight="normal" text-anchor="middle" stroke="#fff" stroke-width="0.2">229</text>
<text x="605.7" y="181.8" font-size="11.0" fill="#222" font-weight="normal" text-anchor="middle" stroke="#fff" stroke-width="0.2">226</text>
<text x="605.7" y="192.7" font-size="11.0" fill="#222" font-weight="normal" text-anchor="middle" stroke="#fff" stroke-width="0.2">223</text>
<text x="605.7" y="203.6" font-size="11.0" fill="#222" font-weight="normal" text-anchor="middle" stroke="#fff" stroke-width="0.2">220</text>
<text x="605.7" y="214.4" font-size="11.0" fill="#222" font-weight="normal" text-anchor="middle" stroke="#fff" stroke-width="0.2">217</text>
<text x="605.7" y="225.3" font-size="11.0" fill="#222" font-weight="normal" text-anchor="middle" stroke="#fff" stroke-width="0.2">214</text>
<text x="605.7" y="236.2" font-size="11.0" fill="#222" font-weight="normal" text-anchor="middle" stroke="#fff" stroke-width="0.2">211</text>
<text x="605.7" y="247.0" font-size="11.0" fill="#222" font-weight="normal" text-anchor="middle" stroke="#fff" stroke-width="0.2">208</text>
<text x="605.7" y="257.9" font-size="11.0" fill="#222" font-weight="normal" text-anchor="middle" stroke="#fff" stroke-width="0.2">205</text>
<text x="605.7" y="268.8" font-size="11.0" fill="#222" font-weight="normal" text-anchor="middle" stroke="#fff" stroke-width="0.2">202</text>
<text x="605.7" y="279.6" font-size="11.0" fill="#222" font-weight="normal" text-anchor="middle" stroke="#fff" stroke-width="0.2">199</text>
<text x="605.7" y="290.5" font-size="11.0" fill="#222" font-weight="normal" text-anchor="middle" stroke="#fff" stroke-width="0.2">196</text>
<text x="605.7" y="301.4" font-size="11.0" fill="#222" font-weight="normal" text-anchor="middle" stroke="#fff" stroke-width="0.2">193</text>
<text x="605.7" y="312.2" font-size="11.0" fill="#222" font-weight="normal" text-anchor="middle" stroke="#fff" stroke-width="0.2">190</text>
<rect x="563.2" y="423.60" width="25.9" height="10.87" fill="#FF1493" stroke="#222" stroke-width="0.6"/>
<rect x="563.2" y="434.47" width="25.9" height="10.87" fill="#FFB6C1" stroke="#222" stroke-width="0.6"/>
<rect x="563.2" y="445.34" width="25.9" height="10.87" fill="#B22222" stroke="#222" stroke-width="0.6"/>
<rect x="563.2" y="456.21" width="25.9" height="10.87" fill="#FF4500" stroke="#222" stroke-width="0.6"/>
<rect x="563.2" y="467.08" width="25.9" height="10.87" fill="#FFA500" stroke="#222" stroke-width="0.6"/>
<rect x="563.2" y="477.95" width="25.9" height="10.87" fill="#FFE100" stroke="#222" stroke-width="0.6"/>
<rect x="563.2" y="488.82" width="25.9" height="10.87" fill="#DEB887" stroke="#222" stroke-width="0.6"/>
<rect x="563.2" y="499.69" width="25.9" height="10.87" fill="#F5E6BE" stroke="#222" stroke-width="0.6"/>
<rect x="563.2" y="510.56" width="25.9" height="10.87" fill="#9ABE32" stroke="#222" stroke-width="0.6"/>
<rect x="563.2" y="521.43" width="25.9" height="10.87" fill="#BCEE68" stroke="#222" stroke-width="0.6"/>
<rect x="563.2" y="532.30" width="25.9" height="10.87" fill="#20B2AA" stroke="#222" stroke-width="0.6"/>
<rect x="563.2" y="543.17" width="25.9" height="10.87" fill="#B0E0E6" stroke="#222" stroke-width="0.6"/>
<rect x="563.2" y="554.04" width="25.9" height="10.87" fill="#789BF2" stroke="#222" stroke-width="0.6"/>
<rect x="563.2" y="564.91" width="25.9" height="10.87" fill="#3C64E6" stroke="#222" stroke-width="0.6"/>
<rect x="563.2" y="575.78" width="25.9" height="10.87" fill="#0000C8" stroke="#222" stroke-width="0.6"/>
<rect x="563.2" y="586.65" width="25.9" height="10.87" fill="#9370DB" stroke="#222" stroke-width="0.6"/>
<text x="605.7" y="438.3" font-size="11.0" fill="#222" font-weight="normal" text-anchor="middle" stroke="#fff" stroke-width="0.2">232</text>
<text x="605.7" y="449.1" font-size="11.0" fill="#222" font-weight="normal" text-anchor="middle" stroke="#fff" stroke-width="0.2">229</text>
<text x="605.7" y="460.0" font-size="11.0" fill="#222" font-weight="normal" text-anchor="middle" stroke="#fff" stroke-width="0.2">226</text>
<text x="605.7" y="470.9" font-size="11.0" fill="#222" font-weight="normal" text-anchor="middle" stroke="#fff" stroke-width="0.2">223</text>
<text x="605.7" y="481.8" font-size="11.0" fill="#222" font-weight="normal" text-anchor="middle" stroke="#fff" stroke-width="0.2">220</text>
<text x="605.7" y="492.6" font-size="11.0" fill="#222" font-weight="normal" text-anchor="middle" stroke="#fff" stroke-width="0.2">217</text>
<text x="605.7" y="503.5" font-size="11.0" fill="#222" font-weight="normal" text-anchor="middle" stroke="#fff" stroke-width="0.2">214</text>
<text x="605.7" y="514.4" font-size="11.0" fill="#222" font-weight="normal" text-anchor="middle" stroke="#fff" stroke-width="0.2">211</text>
<text x="605.7" y="525.2" font-size="11.0" fill="#222" font-weight="normal" text-anchor="middle" stroke="#fff" stroke-width="0.2">208</text>
<text x="605.7" y="536.1" font-size="11.0" fill="#222" font-weight="normal" text-anchor="middle" stroke="#fff" stroke-width="0.2">205</text>
<text x="605.7" y="547.0" font-size="11.0" fill="#222" font-weight="normal" text-anchor="middle" stroke="#fff" stroke-width="0.2">202</text>
<text x="605.7" y="557.8" font-size="11.0" fill="#222" font-weight="normal" text-anchor="middle" stroke="#fff" stroke-width="0.2">199</text>
<text x="605.7" y="568.7" font-size="11.0" fill="#222" font-weight="normal" text-anchor="middle" stroke="#fff" stroke-width="0.2">196</text>
<text x="605.7" y="579.6" font-size="11.0" fill="#222" font-weight="normal" text-anchor="middle" stroke="#fff" stroke-width="0.2">193</text>
<text x="605.7" y="590.4" font-size="11.0" fill="#222" font-weight="normal" text-anchor="middle" stroke="#fff" stroke-width="0.2">190</text>
<rect x="563.2" y="701.30" width="25.9" height="10.87" fill="#FF1493" stroke="#222" stroke-width="0.6"/>
<rect x="563.2" y="712.17" width="25.9" height="10.87" fill="#FFB6C1" stroke="#222" stroke-width="0.6"/>
<rect x="563.2" y="723.04" width="25.9" height="10.87" fill="#B22222" stroke="#222" stroke-width="0.6"/>
<rect x="563.2" y="733.91" width="25.9" height="10.87" fill="#FF4500" stroke="#222" stroke-width="0.6"/>
<rect x="563.2" y="744.78" width="25.9" height="10.87" fill="#FFA500" stroke="#222" stroke-width="0.6"/>
<rect x="563.2" y="755.65" width="25.9" height="10.87" fill="#FFE100" stroke="#222" stroke-width="0.6"/>
<rect x="563.2" y="766.52" width="25.9" height="10.87" fill="#DEB887" stroke="#222" stroke-width="0.6"/>
<rect x="563.2" y="777.39" width="25.9" height="10.87" fill="#F5E6BE" stroke="#222" stroke-width="0.6"/>
<rect x="563.2" y="788.26" width="25.9" height="10.87" fill="#9ABE32" stroke="#222" stroke-width="0.6"/>
<rect x="563.2" y="799.13" width="25.9" height="10.87" fill="#BCEE68" stroke="#222" stroke-width="0.6"/>
<rect x="563.2" y="810.00" width="25.9" height="10.87" fill="#20B2AA" stroke="#222" stroke-width="0.6"/>
<rect x="563.2" y="820.87" width="25.9" height="10.87" fill="#B0E0E6" stroke="#222" stroke-width="0.6"/>
<rect x="563.2" y="831.74" width="25.9" height="10.87" fill="#789BF2" stroke="#222" stroke-width="0.6"/>
<rect x="563.2" y="842.61" width="25.9" height="10.87" fill="#3C64E6" stroke="#222" stroke-width="0.6"/>
<rect x="563.2" y="853.48" width="25.9" height="10.87" fill="#0000C8" stroke="#222" stroke-width="0.6"/>
<rect x="563.2" y="864.35" width="25.9" height="10.87" fill="#9370DB" stroke="#222" stroke-width="0.6"/>
<text x="605.7" y="716.0" font-size="11.0" fill="#222" font-weight="normal" text-anchor="middle" stroke="#fff" stroke-width="0.2">10</text>
<text x="605.7" y="726.8" font-size="11.0" fill="#222" font-weight="normal" text-anchor="middle" stroke="#fff" stroke-width="0.2">8</text>
<text x="605.7" y="737.7" font-size="11.0" fill="#222" font-weight="normal" text-anchor="middle" stroke="#fff" stroke-width="0.2">6</text>
<text x="605.7" y="748.6" font-size="11.0" fill="#222" font-weight="normal" text-anchor="middle" stroke="#fff" stroke-width="0.2">4</text>
<text x="605.7" y="759.4" font-size="11.0" fill="#222" font-weight="normal" text-anchor="middle" stroke="#fff" stroke-width="0.2">3</text>
<text x="605.7" y="770.3" font-size="11.0" fill="#222" font-weight="normal" text-anchor="middle" stroke="#fff" stroke-width="0.2">2</text>
<text x="605.7" y="781.2" font-size="11.0" fill="#222" font-weight="normal" text-anchor="middle" stroke="#fff" stroke-width="0.2">1</text>
<text x="605.7" y="792.1" font-size="11.0" fill="#222" font-weight="normal" text-anchor="middle" stroke="#fff" stroke-width="0.2">0</text>
<text x="605.7" y="802.9" font-size="11.0" fill="#222" font-weight="normal" text-anchor="middle" stroke="#fff" stroke-width="0.2">−1</text>
<text x="605.7" y="813.8" font-size="11.0" fill="#222" font-weight="normal" text-anchor="middle" stroke="#fff" stroke-width="0.2">−2</text>
<text x="605.7" y="824.7" font-size="11.0" fill="#222" font-weight="normal" text-anchor="middle" stroke="#fff" stroke-width="0.2">−3</text>
<text x="605.7" y="835.5" font-size="11.0" fill="#222" font-weight="normal" text-anchor="middle" stroke="#fff" stroke-width="0.2">−4</text>
<text x="605.7" y="846.4" font-size="11.0" fill="#222" font-weight="normal" text-anchor="middle" stroke="#fff" stroke-width="0.2">−6</text>
<text x="605.7" y="857.3" font-size="11.0" fill="#222" font-weight="normal" text-anchor="middle" stroke="#fff" stroke-width="0.2">−8</text>
<text x="605.7" y="868.1" font-size="11.0" fill="#222" font-weight="normal" text-anchor="middle" stroke="#fff" stroke-width="0.2">−10</text>
</g>
</svg>
</body></html>
